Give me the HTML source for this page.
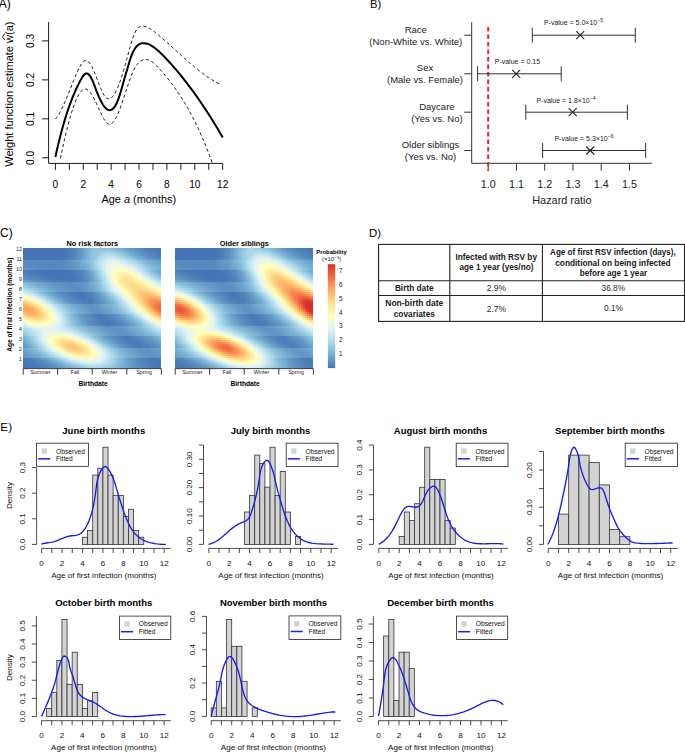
<!DOCTYPE html>
<html><head><meta charset="utf-8"><style>
html,body{margin:0;padding:0;background:#fff;}
svg{display:block;font-family:"Liberation Sans", sans-serif;}
</style></head><body>
<svg width="685" height="753" viewBox="0 0 685 753">
<rect width="685" height="753" fill="#fff"/>
<text x="-1.2" y="7.9" font-size="12" text-anchor="start" fill="#000">A)</text>
<path d="M48.6,22 V163.4 H222.68" fill="none" stroke="#000" stroke-width="0.9"/>
<line x1="42.1" y1="157.8" x2="48.6" y2="157.8" stroke="#000" stroke-width="0.9"/>
<text x="33.6" y="157.8" font-size="10.2" text-anchor="middle" transform="rotate(-90 33.6 157.8)" fill="#000">0.0</text>
<line x1="42.1" y1="118.83" x2="48.6" y2="118.83" stroke="#000" stroke-width="0.9"/>
<text x="33.6" y="118.83" font-size="10.2" text-anchor="middle" transform="rotate(-90 33.6 118.83)" fill="#000">0.1</text>
<line x1="42.1" y1="79.86" x2="48.6" y2="79.86" stroke="#000" stroke-width="0.9"/>
<text x="33.6" y="79.86" font-size="10.2" text-anchor="middle" transform="rotate(-90 33.6 79.86)" fill="#000">0.2</text>
<line x1="42.1" y1="40.89" x2="48.6" y2="40.89" stroke="#000" stroke-width="0.9"/>
<text x="33.6" y="40.89" font-size="10.2" text-anchor="middle" transform="rotate(-90 33.6 40.89)" fill="#000">0.3</text>
<line x1="55.4" y1="163.4" x2="55.4" y2="169.9" stroke="#000" stroke-width="0.9"/>
<text x="55.4" y="187.5" font-size="10.2" text-anchor="middle" fill="#000">0</text>
<line x1="69.34" y1="163.4" x2="69.34" y2="169.9" stroke="#000" stroke-width="0.9"/>
<line x1="83.28" y1="163.4" x2="83.28" y2="169.9" stroke="#000" stroke-width="0.9"/>
<text x="83.28" y="187.5" font-size="10.2" text-anchor="middle" fill="#000">2</text>
<line x1="97.22" y1="163.4" x2="97.22" y2="169.9" stroke="#000" stroke-width="0.9"/>
<line x1="111.16" y1="163.4" x2="111.16" y2="169.9" stroke="#000" stroke-width="0.9"/>
<text x="111.16" y="187.5" font-size="10.2" text-anchor="middle" fill="#000">4</text>
<line x1="125.1" y1="163.4" x2="125.1" y2="169.9" stroke="#000" stroke-width="0.9"/>
<line x1="139.04" y1="163.4" x2="139.04" y2="169.9" stroke="#000" stroke-width="0.9"/>
<text x="139.04" y="187.5" font-size="10.2" text-anchor="middle" fill="#000">6</text>
<line x1="152.98" y1="163.4" x2="152.98" y2="169.9" stroke="#000" stroke-width="0.9"/>
<line x1="166.92" y1="163.4" x2="166.92" y2="169.9" stroke="#000" stroke-width="0.9"/>
<text x="166.92" y="187.5" font-size="10.2" text-anchor="middle" fill="#000">8</text>
<line x1="180.86" y1="163.4" x2="180.86" y2="169.9" stroke="#000" stroke-width="0.9"/>
<line x1="194.8" y1="163.4" x2="194.8" y2="169.9" stroke="#000" stroke-width="0.9"/>
<text x="194.8" y="187.5" font-size="10.2" text-anchor="middle" fill="#000">10</text>
<line x1="208.74" y1="163.4" x2="208.74" y2="169.9" stroke="#000" stroke-width="0.9"/>
<line x1="222.68" y1="163.4" x2="222.68" y2="169.9" stroke="#000" stroke-width="0.9"/>
<text x="222.68" y="187.5" font-size="10.2" text-anchor="middle" fill="#000">12</text>
<text x="138.8" y="202.7" font-size="10.95" text-anchor="middle">Age <tspan font-style="italic">a</tspan> (months)</text>
<text x="0" y="0" font-size="11.05" text-anchor="middle" transform="translate(12.9 94.1) rotate(-90)">Weight function estimate w(a)</text>
<path d="M4.9,33.4 L2.5,36.8 L4.9,40.2" fill="none" stroke="#000" stroke-width="0.85"/>
<path d="M55.4,157.04 L56.93,150.04 L58.47,143.42 L60,137.16 L61.54,131.25 L63.07,125.66 L64.61,120.39 L66.14,115.42 L67.68,110.73 L69.21,106.3 L70.75,102.12 L72.28,98.17 L73.82,94.43 L75.35,90.89 L76.89,87.54 L78.42,84.35 L79.96,81.31 L81.49,78.46 L83.03,76.01 L84.56,74.23 L86.1,73.37 L87.63,73.61 L89.17,74.86 L90.7,77.03 L92.24,79.97 L93.77,83.6 L95.31,87.75 L96.84,91.85 L98.38,95.63 L99.91,99.06 L101.45,102.11 L102.98,104.72 L104.52,106.87 L106.05,108.52 L107.59,109.63 L109.12,110.16 L110.66,110.08 L112.19,109.36 L113.72,107.94 L115.26,105.8 L116.79,102.91 L118.33,99.21 L119.86,94.69 L121.4,89.53 L122.93,84.04 L124.47,78.54 L126,73.32 L127.54,68.18 L129.07,62.78 L130.61,57.95 L132.14,53.94 L133.68,50.69 L135.21,48.13 L136.75,46.19 L138.28,44.8 L139.82,43.88 L141.35,43.35 L142.89,43.14 L144.42,43.18 L145.96,43.42 L147.49,43.83 L149.03,44.42 L150.56,45.16 L152.1,46.05 L153.63,47.07 L155.17,48.2 L156.7,49.44 L158.24,50.78 L159.77,52.19 L161.31,53.67 L162.84,55.21 L164.38,56.79 L165.91,58.4 L167.44,60.04 L168.98,61.7 L170.51,63.39 L172.05,65.11 L173.58,66.85 L175.12,68.62 L176.65,70.42 L178.19,72.25 L179.72,74.1 L181.26,75.98 L182.79,77.88 L184.33,79.82 L185.86,81.78 L187.4,83.77 L188.93,85.79 L190.47,87.84 L192,89.91 L193.54,92.01 L195.07,94.14 L196.61,96.3 L198.14,98.49 L199.68,100.7 L201.21,102.95 L202.75,105.22 L204.28,107.53 L205.82,109.86 L207.35,112.22 L208.89,114.61 L210.42,117.03 L211.96,119.47 L213.49,121.95 L215.03,124.46 L216.56,127 L218.1,129.56 L219.63,132.16 L221.17,134.79 L222.7,137.45" fill="none" stroke="#000" stroke-width="2" stroke-linejoin="round"/>
<path d="M55.4,119.03 L56.92,117.17 L58.43,114.93 L59.95,112.35 L61.47,109.46 L62.98,106.32 L64.5,102.97 L66.02,99.44 L67.53,95.77 L69.05,92.02 L70.57,88.22 L72.08,84.42 L73.6,80.65 L75.11,76.96 L76.63,73.38 L78.15,70.01 L79.66,66.96 L81.18,64.35 L82.7,62.3 L84.21,60.95 L85.73,60.4 L87.25,60.77 L88.76,61.98 L90.28,63.94 L91.8,66.54 L93.31,69.67 L94.83,73.21 L96.35,77.05 L97.86,81.04 L99.38,85 L100.9,88.76 L102.41,92.14 L103.93,94.97 L105.44,97.08 L106.96,98.38 L108.48,98.88 L109.99,98.65 L111.51,97.71 L113.03,96.12 L114.54,93.92 L116.06,91.15 L117.58,87.86 L119.09,84.09 L120.61,79.88 L122.13,75.28 L123.64,70.33 L125.16,65.07 L126.68,59.56 L128.19,53.93 L129.71,48.36 L131.23,43.08 L132.74,38.29 L134.26,34.2 L135.78,31.01 L137.29,28.73 L138.81,27.23 L140.32,26.39 L141.84,26.06 L143.36,26.1 L144.87,26.4 L146.39,26.89 L147.91,27.54 L149.42,28.34 L150.94,29.26 L152.46,30.29 L153.97,31.41 L155.49,32.6 L157.01,33.84 L158.52,35.1 L160.04,36.39 L161.56,37.69 L163.07,39.01 L164.59,40.34 L166.11,41.68 L167.62,43.03 L169.14,44.39 L170.66,45.76 L172.17,47.13 L173.69,48.51 L175.2,49.89 L176.72,51.27 L178.24,52.65 L179.75,54.03 L181.27,55.4 L182.79,56.77 L184.3,58.13 L185.82,59.48 L187.34,60.82 L188.85,62.15 L190.37,63.46 L191.89,64.76 L193.4,66.05 L194.92,67.31 L196.44,68.56 L197.95,69.78 L199.47,70.98 L200.99,72.15 L202.5,73.3 L204.02,74.42 L205.53,75.52 L207.05,76.58 L208.57,77.6 L210.08,78.6 L211.6,79.56 L213.12,80.48 L214.63,81.36 L216.15,82.2 L217.67,83 L219.18,83.75 L220.7,84.46" fill="none" stroke="#000" stroke-width="0.9" stroke-dasharray="3.2 2.6"/>
<path d="M60.4,158.37 L61.79,151.81 L63.19,145.44 L64.58,139.3 L65.97,133.41 L67.37,127.78 L68.76,122.44 L70.16,117.42 L71.55,112.72 L72.94,108.39 L74.34,104.43 L75.73,100.87 L77.12,97.74 L78.52,95.05 L79.91,92.83 L81.3,91.1 L82.7,89.87 L84.09,89.19 L85.48,89.05 L86.88,89.48 L88.27,90.41 L89.67,91.8 L91.06,93.6 L92.45,95.77 L93.85,98.25 L95.24,101 L96.63,103.95 L98.03,107.01 L99.42,110.1 L100.81,113.11 L102.21,115.95 L103.6,118.52 L104.99,120.74 L106.39,122.5 L107.78,123.72 L109.18,124.29 L110.57,124.17 L111.96,123.39 L113.36,122.01 L114.75,120.08 L116.14,117.65 L117.54,114.77 L118.93,111.5 L120.32,107.89 L121.72,103.99 L123.11,99.87 L124.5,95.61 L125.9,91.31 L127.29,87.04 L128.69,82.88 L130.08,78.93 L131.47,75.26 L132.87,71.97 L134.26,69.1 L135.65,66.66 L137.05,64.62 L138.44,62.95 L139.83,61.63 L141.23,60.63 L142.62,59.94 L144.01,59.54 L145.41,59.41 L146.8,59.53 L148.2,59.87 L149.59,60.43 L150.98,61.19 L152.38,62.11 L153.77,63.19 L155.16,64.4 L156.56,65.74 L157.95,67.16 L159.34,68.67 L160.74,70.23 L162.13,71.84 L163.52,73.47 L164.92,75.13 L166.31,76.82 L167.71,78.54 L169.1,80.3 L170.49,82.09 L171.89,83.93 L173.28,85.8 L174.67,87.71 L176.07,89.67 L177.46,91.68 L178.85,93.73 L180.25,95.84 L181.64,98 L183.03,100.21 L184.43,102.48 L185.82,104.81 L187.22,107.2 L188.61,109.66 L190,112.18 L191.4,114.76 L192.79,117.42 L194.18,120.15 L195.58,122.95 L196.97,125.83 L198.36,128.79 L199.76,131.83 L201.15,134.95 L202.54,138.15 L203.94,141.44 L205.33,144.82 L206.73,148.29 L208.12,151.85 L209.51,155.5 L210.91,159.26 L212.3,163.11" fill="none" stroke="#000" stroke-width="0.9" stroke-dasharray="3.2 2.6"/>
<text x="370" y="7.9" font-size="11.2" text-anchor="start" fill="#000">B)</text>
<path d="M471.7,22.3 V163.3 H652" fill="none" stroke="#333" stroke-width="1"/>
<line x1="488.2" y1="163.3" x2="488.2" y2="170.6" stroke="#333" stroke-width="1"/>
<text x="488.2" y="187.5" font-size="10.8" text-anchor="middle" fill="#222">1.0</text>
<line x1="516.45" y1="163.3" x2="516.45" y2="170.6" stroke="#333" stroke-width="1"/>
<text x="516.45" y="187.5" font-size="10.8" text-anchor="middle" fill="#222">1.1</text>
<line x1="544.7" y1="163.3" x2="544.7" y2="170.6" stroke="#333" stroke-width="1"/>
<text x="544.7" y="187.5" font-size="10.8" text-anchor="middle" fill="#222">1.2</text>
<line x1="572.95" y1="163.3" x2="572.95" y2="170.6" stroke="#333" stroke-width="1"/>
<text x="572.95" y="187.5" font-size="10.8" text-anchor="middle" fill="#222">1.3</text>
<line x1="601.2" y1="163.3" x2="601.2" y2="170.6" stroke="#333" stroke-width="1"/>
<text x="601.2" y="187.5" font-size="10.8" text-anchor="middle" fill="#222">1.4</text>
<line x1="629.45" y1="163.3" x2="629.45" y2="170.6" stroke="#333" stroke-width="1"/>
<text x="629.45" y="187.5" font-size="10.8" text-anchor="middle" fill="#222">1.5</text>
<text x="561.9" y="203.8" font-size="10.9" text-anchor="middle" fill="#222">Hazard ratio</text>
<line x1="488.2" y1="27" x2="488.2" y2="171" stroke="#e8252b" stroke-width="2" stroke-dasharray="4.5 3"/>
<line x1="464.2" y1="35.2" x2="471.7" y2="35.2" stroke="#333" stroke-width="1"/>
<text x="415.8" y="32.8" font-size="9.5" text-anchor="middle" fill="#222">Race</text>
<text x="415.8" y="44.8" font-size="9.5" text-anchor="middle" fill="#222">(Non-White vs. White)</text>
<line x1="532.3" y1="35.2" x2="635.3" y2="35.2" stroke="#333" stroke-width="1"/>
<line x1="532.3" y1="27.7" x2="532.3" y2="42.7" stroke="#333" stroke-width="1"/>
<line x1="635.3" y1="27.7" x2="635.3" y2="42.7" stroke="#333" stroke-width="1"/>
<path d="M576.2,31.2 L584.2,39.2 M576.2,39.2 L584.2,31.2" stroke="#222" stroke-width="1.1"/>
<text x="573.5" y="24.7" font-size="7.0" text-anchor="middle" fill="#222">P-value = 5.0×10<tspan dy="-3" font-size="5.2">−5</tspan></text>
<line x1="464.2" y1="73.8" x2="471.7" y2="73.8" stroke="#333" stroke-width="1"/>
<text x="425" y="71.4" font-size="9.5" text-anchor="middle" fill="#222">Sex</text>
<text x="425" y="83.4" font-size="9.5" text-anchor="middle" fill="#222">(Male vs. Female)</text>
<line x1="477.6" y1="73.8" x2="561.2" y2="73.8" stroke="#333" stroke-width="1"/>
<line x1="477.6" y1="66.3" x2="477.6" y2="81.3" stroke="#333" stroke-width="1"/>
<line x1="561.2" y1="66.3" x2="561.2" y2="81.3" stroke="#333" stroke-width="1"/>
<path d="M512.2,69.8 L520.2,77.8 M512.2,77.8 L520.2,69.8" stroke="#222" stroke-width="1.1"/>
<text x="517.4" y="64" font-size="7.0" text-anchor="middle" fill="#222">P-value = 0.15</text>
<line x1="464.2" y1="112.2" x2="471.7" y2="112.2" stroke="#333" stroke-width="1"/>
<text x="436.9" y="109.8" font-size="9.5" text-anchor="middle" fill="#222">Daycare</text>
<text x="436.9" y="121.8" font-size="9.5" text-anchor="middle" fill="#222">(Yes vs. No)</text>
<line x1="525.8" y1="112.2" x2="627.4" y2="112.2" stroke="#333" stroke-width="1"/>
<line x1="525.8" y1="104.7" x2="525.8" y2="119.7" stroke="#333" stroke-width="1"/>
<line x1="627.4" y1="104.7" x2="627.4" y2="119.7" stroke="#333" stroke-width="1"/>
<path d="M568.7,108.2 L576.7,116.2 M568.7,116.2 L576.7,108.2" stroke="#222" stroke-width="1.1"/>
<text x="566" y="102.5" font-size="7.0" text-anchor="middle" fill="#222">P-value = 1.8×10<tspan dy="-3" font-size="5.2">−4</tspan></text>
<line x1="464.2" y1="150.5" x2="471.7" y2="150.5" stroke="#333" stroke-width="1"/>
<text x="430.5" y="148.1" font-size="9.5" text-anchor="middle" fill="#222">Older siblings</text>
<text x="430.5" y="160.1" font-size="9.5" text-anchor="middle" fill="#222">(Yes vs. No)</text>
<line x1="542.6" y1="150.5" x2="645.6" y2="150.5" stroke="#333" stroke-width="1"/>
<line x1="542.6" y1="143" x2="542.6" y2="158" stroke="#333" stroke-width="1"/>
<line x1="645.6" y1="143" x2="645.6" y2="158" stroke="#333" stroke-width="1"/>
<path d="M586.2,146.5 L594.2,154.5 M586.2,154.5 L594.2,146.5" stroke="#222" stroke-width="1.1"/>
<text x="584" y="140.8" font-size="7.0" text-anchor="middle" fill="#222">P-value = 5.3×10<tspan dy="-3" font-size="5.2">−6</tspan></text>
<text x="0" y="236.6" font-size="12" text-anchor="start" fill="#000">C)</text>
<defs><clipPath id="hc1"><rect x="23" y="248" width="138" height="120"/></clipPath><filter id="hb1" x="17" y="242" width="150" height="132" filterUnits="userSpaceOnUse"><feGaussianBlur stdDeviation="0.6"/></filter></defs>
<g clip-path="url(#hc1)"><g filter="url(#hb1)" shape-rendering="crispEdges"><path fill="#5488bc" d="M17 242h32v2h-32zM17 244h32v2h-32zM17 246h32v2h-32zM141 248h2v2h-2zM143 250h2v2h-2zM147 252h2v2h-2zM153 256h2v2h-2zM159 258h2v2h-2zM41 260h6v2h-6zM81 270h2v2h-2zM21 274h2v2h-2zM27 276h2v2h-2zM83 276h2v2h-2zM33 278h2v2h-2zM41 280h4v2h-4zM83 280h2v2h-2zM63 292h2v2h-2zM65 294h2v2h-2zM69 296h2v2h-2zM93 296h2v2h-2zM71 298h2v2h-2zM95 300h2v2h-2zM95 302h2v2h-2zM89 314h2v2h-2zM109 314h2v2h-2zM89 316h2v2h-2zM111 316h2v2h-2zM91 318h2v2h-2zM93 322h2v2h-2zM119 322h2v2h-2zM97 324h2v2h-2zM119 324h2v2h-2zM137 336h2v2h-2zM117 338h2v2h-2zM143 340h2v2h-2zM123 342h2v2h-2zM125 344h2v2h-2zM149 344h2v2h-2zM129 346h2v2h-2zM151 346h2v2h-2zM33 358h2v2h-2zM139 358h2v2h-2zM37 360h2v2h-2zM139 360h2v2h-2zM41 362h2v2h-2zM45 364h2v2h-2zM141 364h2v2h-2zM49 366h2v2h-2zM141 366h2v2h-2zM53 368h2v2h-2zM143 368h2v2h-2z"/><path fill="#5488c0" d="M49 242h4v2h-4zM49 244h4v2h-4zM49 246h4v2h-4zM75 248h2v2h-2zM139 248h2v2h-2zM149 254h2v2h-2zM73 258h2v2h-2zM31 260h10v2h-10zM47 260h6v2h-6zM37 262h16v2h-16zM43 264h10v2h-10zM47 266h6v2h-6zM19 274h2v2h-2zM91 292h2v2h-2zM95 298h2v2h-2zM73 300h2v2h-2zM77 302h2v2h-2zM117 320h2v2h-2zM121 324h2v2h-2zM113 336h2v2h-2zM141 338h2v2h-2zM119 340h2v2h-2zM147 342h2v2h-2zM139 362h2v2h-2zM141 368h2v2h-2z"/><path fill="#5888c0" d="M53 242h2v2h-2zM165 242h2v2h-2zM53 244h2v2h-2zM53 246h2v2h-2zM75 250h2v2h-2zM75 252h2v2h-2zM75 254h2v2h-2zM75 256h2v2h-2zM151 256h2v2h-2zM157 258h2v2h-2zM27 260h4v2h-4zM53 260h2v2h-2zM33 262h4v2h-4zM53 262h2v2h-2zM37 264h6v2h-6zM53 264h2v2h-2zM43 266h4v2h-4zM53 266h4v2h-4zM49 268h8v2h-8zM83 274h2v2h-2zM25 276h2v2h-2zM31 278h2v2h-2zM61 292h2v2h-2zM67 296h2v2h-2zM87 314h2v2h-2zM113 316h2v2h-2zM115 318h2v2h-2zM91 320h2v2h-2zM95 324h2v2h-2zM121 342h2v2h-2zM17 346h2v2h-2zM127 346h2v2h-2zM39 360h2v2h-2zM51 366h2v2h-2zM55 368h2v2h-2z"/><path fill="#588cc0" d="M55 242h8v2h-8zM153 242h12v2h-12zM55 244h8v2h-8zM157 244h10v2h-10zM55 246h8v2h-8zM159 246h8v2h-8zM137 248h2v2h-2zM141 250h2v2h-2zM143 252h4v2h-4zM147 254h2v2h-2zM149 256h2v2h-2zM75 258h2v2h-2zM155 258h2v2h-2zM17 260h10v2h-10zM55 260h8v2h-8zM17 262h16v2h-16zM55 262h8v2h-8zM21 264h16v2h-16zM55 264h8v2h-8zM27 266h16v2h-16zM57 266h8v2h-8zM33 268h16v2h-16zM57 268h8v2h-8zM83 270h2v2h-2zM83 272h2v2h-2zM17 274h2v2h-2zM21 276h4v2h-4zM85 276h2v2h-2zM29 278h2v2h-2zM85 278h2v2h-2zM37 280h4v2h-4zM85 280h2v2h-2zM65 282h8v2h-8zM69 284h4v2h-4zM59 292h2v2h-2zM93 292h2v2h-2zM63 294h2v2h-2zM93 294h2v2h-2zM65 296h2v2h-2zM95 296h2v2h-2zM69 298h2v2h-2zM71 300h2v2h-2zM97 300h2v2h-2zM75 302h2v2h-2zM97 302h2v2h-2zM85 314h2v2h-2zM111 314h2v2h-2zM87 316h2v2h-2zM89 318h2v2h-2zM117 318h2v2h-2zM89 320h2v2h-2zM119 320h2v2h-2zM91 322h2v2h-2zM121 322h2v2h-2zM93 324h2v2h-2zM123 324h2v2h-2zM111 336h2v2h-2zM139 336h2v2h-2zM115 338h2v2h-2zM143 338h2v2h-2zM117 340h2v2h-2zM145 340h4v2h-4zM119 342h2v2h-2zM149 342h2v2h-2zM17 344h2v2h-2zM123 344h2v2h-2zM151 344h4v2h-4zM19 346h2v2h-2zM125 346h2v2h-2zM153 346h4v2h-4zM35 358h2v2h-2zM137 358h2v2h-2zM41 360h2v2h-2zM137 360h2v2h-2zM43 362h4v2h-4zM137 362h2v2h-2zM47 364h4v2h-4zM137 364h4v2h-4zM53 366h2v2h-2zM137 366h4v2h-4zM57 368h2v2h-2zM139 368h2v2h-2zM25 370h14v2h-14zM163 370h4v2h-4zM25 372h18v2h-18zM163 372h4v2h-4z"/><path fill="#5c90c0" d="M63 242h4v2h-4zM149 242h4v2h-4zM63 244h4v2h-4zM151 244h6v2h-6zM63 246h2v2h-2zM155 246h4v2h-4zM77 248h2v2h-2zM135 248h2v2h-2zM77 250h2v2h-2zM139 250h2v2h-2zM77 252h2v2h-2zM77 254h2v2h-2zM145 254h2v2h-2zM77 256h2v2h-2zM63 260h2v2h-2zM63 262h4v2h-4zM17 264h4v2h-4zM63 264h4v2h-4zM21 266h6v2h-6zM65 266h2v2h-2zM27 268h6v2h-6zM65 268h4v2h-4zM85 274h2v2h-2zM19 276h2v2h-2zM27 278h2v2h-2zM35 280h2v2h-2zM61 282h4v2h-4zM73 282h2v2h-2zM65 284h4v2h-4zM73 284h4v2h-4zM69 286h8v2h-8zM71 288h6v2h-6zM75 290h4v2h-4zM61 294h2v2h-2zM95 294h2v2h-2zM67 298h2v2h-2zM97 298h2v2h-2zM99 302h2v2h-2zM113 314h2v2h-2zM115 316h2v2h-2zM87 318h2v2h-2zM89 322h2v2h-2zM123 322h2v2h-2zM141 336h2v2h-2zM113 338h2v2h-2zM145 338h2v2h-2zM151 342h2v2h-2zM121 344h2v2h-2zM37 358h2v2h-2zM135 358h2v2h-2zM135 360h2v2h-2zM59 368h2v2h-2zM137 368h2v2h-2zM21 370h4v2h-4zM39 370h4v2h-4zM159 370h4v2h-4zM21 372h4v2h-4zM43 372h4v2h-4zM159 372h4v2h-4z"/><path fill="#5c90c4" d="M67 242h2v2h-2zM145 242h4v2h-4zM67 244h2v2h-2zM149 244h2v2h-2zM65 246h2v2h-2zM153 246h2v2h-2zM137 250h2v2h-2zM141 252h2v2h-2zM147 256h2v2h-2zM153 258h2v2h-2zM65 260h2v2h-2zM67 262h2v2h-2zM67 264h2v2h-2zM17 266h4v2h-4zM67 266h2v2h-2zM23 268h4v2h-4zM69 268h2v2h-2zM85 272h2v2h-2zM17 276h2v2h-2zM25 278h2v2h-2zM87 278h2v2h-2zM87 280h2v2h-2zM57 282h4v2h-4zM75 282h4v2h-4zM61 284h4v2h-4zM77 284h2v2h-2zM65 286h4v2h-4zM77 286h2v2h-2zM69 288h2v2h-2zM77 288h4v2h-4zM73 290h2v2h-2zM79 290h2v2h-2zM57 292h2v2h-2zM63 296h2v2h-2zM97 296h2v2h-2zM69 300h2v2h-2zM99 300h2v2h-2zM73 302h2v2h-2zM85 316h2v2h-2zM87 320h2v2h-2zM121 320h2v2h-2zM91 324h2v2h-2zM125 324h2v2h-2zM109 336h2v2h-2zM115 340h2v2h-2zM149 340h2v2h-2zM17 342h2v2h-2zM19 344h2v2h-2zM155 344h2v2h-2zM21 346h2v2h-2zM123 346h2v2h-2zM157 346h2v2h-2zM149 354h2v2h-2zM17 356h2v2h-2zM149 356h8v2h-8zM43 360h2v2h-2zM47 362h2v2h-2zM135 362h2v2h-2zM51 364h2v2h-2zM135 364h2v2h-2zM55 366h2v2h-2zM135 366h2v2h-2zM17 370h4v2h-4zM43 370h4v2h-4zM155 370h4v2h-4zM19 372h2v2h-2zM47 372h4v2h-4zM157 372h2v2h-2z"/><path fill="#6094c4" d="M69 242h4v2h-4zM139 242h6v2h-6zM69 244h2v2h-2zM143 244h4v2h-4zM69 246h2v2h-2zM147 246h4v2h-4zM79 248h2v2h-2zM133 248h2v2h-2zM79 250h2v2h-2zM135 250h2v2h-2zM139 252h2v2h-2zM143 254h2v2h-2zM79 256h2v2h-2zM145 256h2v2h-2zM77 258h2v2h-2zM151 258h2v2h-2zM69 260h2v2h-2zM69 262h2v2h-2zM69 264h4v2h-4zM71 266h2v2h-2zM17 268h4v2h-4zM71 268h4v2h-4zM85 270h2v2h-2zM87 276h2v2h-2zM21 278h4v2h-4zM31 280h2v2h-2zM53 282h4v2h-4zM79 282h2v2h-2zM57 284h4v2h-4zM79 284h4v2h-4zM61 286h4v2h-4zM81 286h2v2h-2zM63 288h4v2h-4zM81 288h4v2h-4zM67 290h4v2h-4zM83 290h2v2h-2zM55 292h2v2h-2zM95 292h2v2h-2zM59 294h2v2h-2zM97 294h2v2h-2zM65 298h2v2h-2zM99 298h2v2h-2zM67 300h2v2h-2zM101 300h2v2h-2zM71 302h2v2h-2zM101 302h2v2h-2zM87 304h6v2h-6zM89 306h6v2h-6zM91 308h6v2h-6zM93 310h6v2h-6zM95 312h6v2h-6zM115 314h2v2h-2zM83 316h2v2h-2zM117 316h2v2h-2zM85 318h2v2h-2zM87 322h2v2h-2zM125 322h2v2h-2zM89 324h2v2h-2zM127 324h2v2h-2zM105 326h6v2h-6zM113 326h4v2h-4zM109 328h12v2h-12zM111 330h12v2h-12zM115 332h10v2h-10zM119 334h10v2h-10zM107 336h2v2h-2zM147 338h2v2h-2zM113 340h2v2h-2zM151 340h2v2h-2zM153 342h2v2h-2zM21 344h2v2h-2zM119 344h2v2h-2zM159 346h2v2h-2zM137 348h12v2h-12zM139 350h12v2h-12zM17 352h2v2h-2zM141 352h4v2h-4zM149 352h6v2h-6zM17 354h4v2h-4zM143 354h4v2h-4zM153 354h6v2h-6zM21 356h4v2h-4zM145 356h4v2h-4zM157 356h4v2h-4zM133 360h2v2h-2zM133 362h2v2h-2zM53 364h2v2h-2zM133 364h2v2h-2zM57 366h2v2h-2zM133 366h2v2h-2zM61 368h2v2h-2zM133 368h2v2h-2zM47 370h4v2h-4zM151 370h4v2h-4zM51 372h6v2h-6zM151 372h4v2h-4z"/><path fill="#6498c8" d="M73 242h2v2h-2zM135 242h2v2h-2zM73 244h2v2h-2zM139 244h2v2h-2zM143 246h2v2h-2zM137 252h2v2h-2zM79 258h2v2h-2zM149 258h2v2h-2zM163 260h2v2h-2zM73 262h2v2h-2zM165 262h2v2h-2zM73 264h2v2h-2zM75 266h2v2h-2zM75 268h2v2h-2zM87 272h2v2h-2zM19 278h2v2h-2zM89 280h2v2h-2zM49 282h2v2h-2zM83 282h2v2h-2zM53 284h2v2h-2zM83 284h2v2h-2zM57 286h2v2h-2zM61 288h2v2h-2zM85 288h2v2h-2zM63 290h2v2h-2zM57 294h2v2h-2zM99 296h2v2h-2zM63 298h2v2h-2zM103 302h2v2h-2zM83 304h2v2h-2zM95 304h2v2h-2zM85 306h2v2h-2zM97 306h2v2h-2zM87 308h2v2h-2zM99 308h2v2h-2zM89 310h2v2h-2zM101 310h2v2h-2zM91 312h2v2h-2zM103 312h2v2h-2zM117 314h2v2h-2zM119 316h2v2h-2zM83 318h2v2h-2zM85 322h2v2h-2zM127 322h2v2h-2zM87 324h2v2h-2zM129 324h2v2h-2zM101 326h2v2h-2zM119 326h2v2h-2zM105 328h2v2h-2zM123 328h2v2h-2zM107 330h4v2h-4zM125 330h2v2h-2zM111 332h2v2h-2zM127 332h2v2h-2zM115 334h2v2h-2zM109 338h2v2h-2zM153 340h2v2h-2zM155 342h2v2h-2zM117 344h2v2h-2zM133 348h2v2h-2zM151 348h2v2h-2zM17 350h2v2h-2zM153 350h2v2h-2zM21 352h2v2h-2zM137 352h2v2h-2zM157 352h2v2h-2zM23 354h2v2h-2zM139 354h2v2h-2zM161 354h2v2h-2zM27 356h2v2h-2zM141 356h2v2h-2zM163 356h2v2h-2zM131 360h2v2h-2zM131 362h2v2h-2zM55 364h2v2h-2zM131 364h2v2h-2zM59 366h2v2h-2zM131 366h2v2h-2zM131 368h2v2h-2zM53 370h2v2h-2zM147 370h2v2h-2zM59 372h2v2h-2zM145 372h4v2h-4z"/><path fill="#649cc8" d="M75 242h2v2h-2zM133 242h2v2h-2zM137 244h2v2h-2zM73 246h2v2h-2zM139 246h4v2h-4zM81 248h2v2h-2zM129 248h2v2h-2zM133 250h2v2h-2zM139 254h2v2h-2zM143 256h2v2h-2zM147 258h2v2h-2zM73 260h2v2h-2zM161 260h2v2h-2zM163 262h2v2h-2zM75 264h2v2h-2zM77 268h2v2h-2zM163 270h2v2h-2zM89 276h2v2h-2zM17 278h2v2h-2zM27 280h2v2h-2zM47 282h2v2h-2zM51 284h2v2h-2zM85 284h2v2h-2zM55 286h2v2h-2zM85 286h2v2h-2zM59 288h2v2h-2zM87 288h2v2h-2zM61 290h2v2h-2zM87 290h2v2h-2zM53 292h2v2h-2zM97 292h2v2h-2zM59 296h2v2h-2zM101 298h2v2h-2zM65 300h2v2h-2zM103 300h2v2h-2zM69 302h2v2h-2zM81 304h2v2h-2zM97 304h2v2h-2zM83 306h2v2h-2zM99 306h2v2h-2zM85 308h2v2h-2zM101 308h2v2h-2zM87 310h2v2h-2zM103 310h2v2h-2zM89 312h2v2h-2zM105 312h2v2h-2zM81 316h2v2h-2zM83 320h2v2h-2zM125 320h2v2h-2zM121 326h2v2h-2zM103 328h2v2h-2zM127 330h2v2h-2zM109 332h2v2h-2zM129 332h2v2h-2zM113 334h2v2h-2zM131 334h2v2h-2zM105 336h2v2h-2zM147 336h2v2h-2zM17 338h2v2h-2zM151 338h2v2h-2zM19 340h2v2h-2zM111 340h2v2h-2zM21 342h2v2h-2zM23 344h2v2h-2zM159 344h2v2h-2zM25 346h2v2h-2zM119 346h2v2h-2zM161 346h2v2h-2zM17 348h2v2h-2zM153 348h2v2h-2zM19 350h2v2h-2zM135 350h2v2h-2zM155 350h2v2h-2zM159 352h2v2h-2zM25 354h2v2h-2zM137 354h2v2h-2zM163 354h2v2h-2zM139 356h2v2h-2zM165 356h2v2h-2zM43 358h2v2h-2zM129 358h2v2h-2zM47 360h2v2h-2zM51 362h2v2h-2zM65 368h2v2h-2zM55 370h4v2h-4zM145 370h2v2h-2zM61 372h2v2h-2zM143 372h2v2h-2z"/><path fill="#68a0c8" d="M77 242h2v2h-2zM129 242h2v2h-2zM133 244h2v2h-2zM75 246h2v2h-2zM137 246h2v2h-2zM131 250h2v2h-2zM75 260h2v2h-2zM161 262h2v2h-2zM77 264h2v2h-2zM163 264h2v2h-2zM79 268h2v2h-2zM161 270h2v2h-2zM89 274h2v2h-2zM91 280h2v2h-2zM43 282h2v2h-2zM47 284h2v2h-2zM51 286h2v2h-2zM55 288h2v2h-2zM59 290h2v2h-2zM55 294h2v2h-2zM61 298h2v2h-2zM79 304h2v2h-2zM99 304h2v2h-2zM81 306h2v2h-2zM101 306h2v2h-2zM83 308h2v2h-2zM103 308h2v2h-2zM85 310h2v2h-2zM105 310h2v2h-2zM107 312h2v2h-2zM121 316h2v2h-2zM81 318h2v2h-2zM83 322h2v2h-2zM129 322h2v2h-2zM85 324h2v2h-2zM131 324h2v2h-2zM97 326h2v2h-2zM127 328h2v2h-2zM103 330h2v2h-2zM129 330h2v2h-2zM107 332h2v2h-2zM135 334h2v2h-2zM155 340h2v2h-2zM115 344h2v2h-2zM163 346h2v2h-2zM19 348h2v2h-2zM155 348h2v2h-2zM27 354h2v2h-2zM135 354h2v2h-2zM165 354h2v2h-2zM31 356h2v2h-2zM137 356h2v2h-2zM129 362h2v2h-2zM57 364h2v2h-2zM129 364h2v2h-2zM129 366h2v2h-2zM67 368h2v2h-2zM59 370h2v2h-2zM141 370h2v2h-2zM65 372h2v2h-2z"/><path fill="#6ca4cc" d="M79 242h2v2h-2zM125 242h2v2h-2zM79 244h2v2h-2zM129 244h2v2h-2zM77 246h2v2h-2zM133 246h2v2h-2zM83 248h2v2h-2zM125 248h2v2h-2zM83 250h2v2h-2zM129 250h2v2h-2zM83 252h2v2h-2zM133 252h2v2h-2zM83 254h2v2h-2zM83 256h2v2h-2zM139 256h2v2h-2zM77 260h2v2h-2zM155 260h2v2h-2zM79 262h2v2h-2zM157 262h2v2h-2zM79 264h2v2h-2zM159 264h4v2h-4zM81 266h2v2h-2zM163 266h2v2h-2zM83 268h2v2h-2zM165 268h2v2h-2zM159 270h2v2h-2zM89 272h2v2h-2zM163 272h2v2h-2zM91 276h2v2h-2zM21 280h2v2h-2zM39 282h2v2h-2zM87 282h2v2h-2zM43 284h2v2h-2zM89 284h2v2h-2zM47 286h4v2h-4zM89 286h2v2h-2zM51 288h2v2h-2zM91 288h2v2h-2zM55 290h2v2h-2zM99 292h2v2h-2zM53 294h2v2h-2zM101 294h2v2h-2zM59 298h2v2h-2zM107 302h2v2h-2zM75 304h2v2h-2zM101 304h2v2h-2zM77 306h2v2h-2zM103 306h2v2h-2zM79 308h2v2h-2zM105 308h2v2h-2zM81 310h2v2h-2zM109 310h2v2h-2zM83 312h2v2h-2zM111 312h2v2h-2zM77 314h2v2h-2zM123 316h2v2h-2zM79 318h2v2h-2zM125 318h2v2h-2zM81 322h2v2h-2zM131 322h2v2h-2zM83 324h2v2h-2zM133 324h2v2h-2zM93 326h4v2h-4zM127 326h2v2h-2zM97 328h2v2h-2zM129 328h2v2h-2zM99 330h4v2h-4zM133 330h2v2h-2zM103 332h2v2h-2zM135 332h2v2h-2zM107 334h2v2h-2zM137 334h2v2h-2zM151 336h2v2h-2zM105 338h2v2h-2zM157 340h2v2h-2zM111 342h2v2h-2zM159 342h2v2h-2zM27 346h2v2h-2zM117 346h2v2h-2zM165 346h2v2h-2zM23 348h2v2h-2zM127 348h2v2h-2zM159 348h2v2h-2zM25 350h2v2h-2zM129 350h2v2h-2zM161 350h2v2h-2zM27 352h2v2h-2zM131 352h2v2h-2zM165 352h2v2h-2zM31 354h2v2h-2zM133 354h2v2h-2zM33 356h2v2h-2zM133 356h2v2h-2zM127 360h2v2h-2zM55 362h2v2h-2zM127 362h2v2h-2zM59 364h2v2h-2zM127 364h2v2h-2zM127 366h2v2h-2zM69 368h2v2h-2zM125 368h2v2h-2zM63 370h2v2h-2zM137 370h2v2h-2zM69 372h2v2h-2zM135 372h4v2h-4z"/><path fill="#70a8d0" d="M81 242h2v2h-2zM121 242h2v2h-2zM125 244h2v2h-2zM79 246h2v2h-2zM129 246h2v2h-2zM123 248h2v2h-2zM127 250h2v2h-2zM131 252h2v2h-2zM137 256h2v2h-2zM79 260h2v2h-2zM155 262h2v2h-2zM81 264h2v2h-2zM157 264h2v2h-2zM83 266h2v2h-2zM163 268h2v2h-2zM161 272h2v2h-2zM91 274h2v2h-2zM93 278h2v2h-2zM17 280h2v2h-2zM93 280h2v2h-2zM35 282h2v2h-2zM41 284h2v2h-2zM91 284h2v2h-2zM45 286h2v2h-2zM49 288h2v2h-2zM93 288h2v2h-2zM53 290h2v2h-2zM55 296h2v2h-2zM103 296h2v2h-2zM105 298h2v2h-2zM61 300h2v2h-2zM107 300h2v2h-2zM73 304h2v2h-2zM75 306h2v2h-2zM77 308h2v2h-2zM79 310h2v2h-2zM81 312h2v2h-2zM113 312h2v2h-2zM77 316h2v2h-2zM79 320h2v2h-2zM129 320h2v2h-2zM91 326h2v2h-2zM129 326h2v2h-2zM133 328h2v2h-2zM97 330h2v2h-2zM135 330h2v2h-2zM101 332h2v2h-2zM137 332h2v2h-2zM105 334h2v2h-2zM141 334h2v2h-2zM19 336h2v2h-2zM21 338h2v2h-2zM23 340h2v2h-2zM107 340h2v2h-2zM25 342h2v2h-2zM161 342h2v2h-2zM27 344h2v2h-2zM29 346h2v2h-2zM115 346h2v2h-2zM25 348h2v2h-2zM161 348h2v2h-2zM27 350h2v2h-2zM165 350h2v2h-2zM33 354h2v2h-2zM131 356h2v2h-2zM47 358h2v2h-2zM125 358h2v2h-2zM125 360h2v2h-2zM125 362h2v2h-2zM61 364h2v2h-2zM125 364h2v2h-2zM125 366h2v2h-2zM67 370h2v2h-2zM133 370h2v2h-2zM73 372h2v2h-2zM131 372h2v2h-2z"/><path fill="#74acd0" d="M83 242h2v2h-2zM119 242h2v2h-2zM81 244h2v2h-2zM123 244h2v2h-2zM81 246h2v2h-2zM127 246h2v2h-2zM85 250h2v2h-2zM85 252h2v2h-2zM129 252h2v2h-2zM85 254h2v2h-2zM133 254h2v2h-2zM85 256h2v2h-2zM141 258h2v2h-2zM81 260h2v2h-2zM81 262h2v2h-2zM153 262h2v2h-2zM83 264h2v2h-2zM155 264h2v2h-2zM85 266h2v2h-2zM159 266h2v2h-2zM85 268h2v2h-2zM161 268h2v2h-2zM91 272h2v2h-2zM159 272h2v2h-2zM163 274h2v2h-2zM93 276h2v2h-2zM33 282h2v2h-2zM91 282h2v2h-2zM37 284h2v2h-2zM43 286h2v2h-2zM93 286h2v2h-2zM47 288h2v2h-2zM51 290h2v2h-2zM95 290h2v2h-2zM47 292h2v2h-2zM101 292h2v2h-2zM51 294h2v2h-2zM57 298h2v2h-2zM63 302h2v2h-2zM71 304h2v2h-2zM73 306h2v2h-2zM75 308h2v2h-2zM77 310h2v2h-2zM79 312h2v2h-2zM75 314h2v2h-2zM123 314h2v2h-2zM125 316h2v2h-2zM77 318h2v2h-2zM79 322h2v2h-2zM133 322h2v2h-2zM135 324h2v2h-2zM89 326h2v2h-2zM131 326h2v2h-2zM95 330h2v2h-2zM137 330h2v2h-2zM99 332h2v2h-2zM139 332h2v2h-2zM103 334h2v2h-2zM143 334h2v2h-2zM21 336h2v2h-2zM99 336h2v2h-2zM157 338h2v2h-2zM159 340h2v2h-2zM109 342h2v2h-2zM111 344h2v2h-2zM165 344h2v2h-2zM123 348h2v2h-2zM163 348h2v2h-2zM29 350h2v2h-2zM125 350h2v2h-2zM31 352h2v2h-2zM127 352h2v2h-2zM35 354h2v2h-2zM129 356h2v2h-2zM53 360h2v2h-2zM57 362h2v2h-2zM67 366h2v2h-2zM123 366h2v2h-2zM73 368h2v2h-2zM69 370h2v2h-2zM131 370h2v2h-2zM75 372h4v2h-4zM129 372h2v2h-2z"/><path fill="#78b0d4" d="M85 242h2v2h-2zM115 242h2v2h-2zM83 244h2v2h-2zM119 244h4v2h-4zM125 246h2v2h-2zM87 248h2v2h-2zM131 254h2v2h-2zM135 256h2v2h-2zM139 258h2v2h-2zM147 260h2v2h-2zM83 262h2v2h-2zM151 262h2v2h-2zM85 264h2v2h-2zM153 264h2v2h-2zM159 268h2v2h-2zM91 270h2v2h-2zM155 270h2v2h-2zM93 274h2v2h-2zM161 274h2v2h-2zM165 276h2v2h-2zM95 280h2v2h-2zM29 282h2v2h-2zM35 284h2v2h-2zM93 284h2v2h-2zM39 286h2v2h-2zM45 288h2v2h-2zM95 288h2v2h-2zM49 290h2v2h-2zM97 290h2v2h-2zM45 292h2v2h-2zM49 294h2v2h-2zM53 296h2v2h-2zM105 296h2v2h-2zM107 298h2v2h-2zM59 300h2v2h-2zM109 300h2v2h-2zM111 302h2v2h-2zM69 304h2v2h-2zM107 304h2v2h-2zM77 312h2v2h-2zM73 314h2v2h-2zM75 316h2v2h-2zM129 318h2v2h-2zM77 320h2v2h-2zM131 320h2v2h-2zM77 322h2v2h-2zM79 324h2v2h-2zM87 326h2v2h-2zM133 326h2v2h-2zM89 328h2v2h-2zM93 330h2v2h-2zM139 330h2v2h-2zM97 332h2v2h-2zM141 332h2v2h-2zM101 334h2v2h-2zM145 334h2v2h-2zM155 336h2v2h-2zM101 338h2v2h-2zM25 340h2v2h-2zM161 340h2v2h-2zM27 342h2v2h-2zM107 342h2v2h-2zM29 344h2v2h-2zM31 346h2v2h-2zM113 346h2v2h-2zM121 348h2v2h-2zM165 348h2v2h-2zM31 350h2v2h-2zM123 350h2v2h-2zM33 352h2v2h-2zM125 352h2v2h-2zM37 354h2v2h-2zM127 356h2v2h-2zM123 360h2v2h-2zM59 362h2v2h-2zM123 362h2v2h-2zM69 366h2v2h-2zM121 366h2v2h-2zM75 368h2v2h-2zM73 370h2v2h-2zM127 370h2v2h-2zM79 372h4v2h-4zM125 372h2v2h-2z"/><path fill="#7cb4d4" d="M87 242h2v2h-2zM109 242h4v2h-4zM85 244h2v2h-2zM117 244h2v2h-2zM83 246h2v2h-2zM123 246h2v2h-2zM87 250h2v2h-2zM123 250h2v2h-2zM87 252h2v2h-2zM127 252h2v2h-2zM87 254h2v2h-2zM87 256h2v2h-2zM133 256h2v2h-2zM87 258h2v2h-2zM83 260h2v2h-2zM85 262h2v2h-2zM149 262h2v2h-2zM87 264h2v2h-2zM151 264h2v2h-2zM87 266h2v2h-2zM155 266h2v2h-2zM157 268h2v2h-2zM157 272h2v2h-2zM163 276h2v2h-2zM95 278h2v2h-2zM27 282h2v2h-2zM93 282h2v2h-2zM33 284h2v2h-2zM37 286h2v2h-2zM95 286h2v2h-2zM43 288h2v2h-2zM97 288h2v2h-2zM47 290h2v2h-2zM103 292h2v2h-2zM55 298h2v2h-2zM61 302h2v2h-2zM109 304h2v2h-2zM71 306h2v2h-2zM111 306h2v2h-2zM73 308h2v2h-2zM113 308h2v2h-2zM115 310h2v2h-2zM117 312h2v2h-2zM125 314h2v2h-2zM127 316h2v2h-2zM75 318h2v2h-2zM135 322h2v2h-2zM137 324h2v2h-2zM85 326h2v2h-2zM135 326h2v2h-2zM91 330h2v2h-2zM141 330h2v2h-2zM95 332h2v2h-2zM143 332h2v2h-2zM99 334h2v2h-2zM147 334h2v2h-2zM23 336h2v2h-2zM97 336h2v2h-2zM25 338h2v2h-2zM159 338h2v2h-2zM165 342h2v2h-2zM109 344h2v2h-2zM29 348h2v2h-2zM119 348h2v2h-2zM121 350h2v2h-2zM35 352h2v2h-2zM123 352h2v2h-2zM125 354h2v2h-2zM41 356h2v2h-2zM125 356h2v2h-2zM51 358h2v2h-2zM121 358h2v2h-2zM55 360h2v2h-2zM121 360h2v2h-2zM121 362h2v2h-2zM65 364h2v2h-2zM121 364h2v2h-2zM71 366h2v2h-2zM77 368h2v2h-2zM75 370h2v2h-2zM125 370h2v2h-2zM83 372h2v2h-2zM121 372h4v2h-4z"/><path fill="#84b8d8" d="M89 242h2v2h-2zM107 242h2v2h-2zM87 244h2v2h-2zM113 244h2v2h-2zM115 248h2v2h-2zM89 250h2v2h-2zM89 256h2v2h-2zM89 258h2v2h-2zM87 262h2v2h-2zM149 264h2v2h-2zM89 268h2v2h-2zM93 270h2v2h-2zM155 272h2v2h-2zM165 278h2v2h-2zM97 280h2v2h-2zM23 282h2v2h-2zM95 282h2v2h-2zM29 284h2v2h-2zM35 286h2v2h-2zM97 286h2v2h-2zM39 288h2v2h-2zM53 298h2v2h-2zM71 314h2v2h-2zM129 316h2v2h-2zM73 318h2v2h-2zM139 324h2v2h-2zM85 328h2v2h-2zM143 330h2v2h-2zM105 342h2v2h-2zM117 348h2v2h-2zM119 350h2v2h-2zM41 354h2v2h-2zM123 356h2v2h-2zM57 360h2v2h-2zM67 364h2v2h-2zM119 364h2v2h-2zM73 366h2v2h-2zM117 366h2v2h-2zM81 368h2v2h-2zM115 368h2v2h-2zM121 370h2v2h-2zM89 372h2v2h-2zM115 372h2v2h-2z"/><path fill="#88bcd8" d="M91 242h2v2h-2zM105 242h2v2h-2zM89 244h2v2h-2zM107 244h4v2h-4zM87 246h2v2h-2zM91 248h2v2h-2zM113 248h2v2h-2zM123 252h2v2h-2zM127 254h2v2h-2zM87 260h2v2h-2zM89 262h2v2h-2zM145 262h2v2h-2zM89 264h2v2h-2zM153 268h2v2h-2zM95 274h2v2h-2zM157 274h2v2h-2zM97 278h2v2h-2zM19 282h2v2h-2zM27 284h2v2h-2zM97 284h2v2h-2zM33 286h2v2h-2zM105 292h2v2h-2zM45 294h2v2h-2zM49 296h2v2h-2zM55 300h2v2h-2zM113 304h2v2h-2zM67 306h2v2h-2zM115 306h2v2h-2zM69 308h2v2h-2zM117 308h2v2h-2zM71 310h2v2h-2zM119 310h2v2h-2zM121 312h2v2h-2zM127 314h2v2h-2zM71 316h2v2h-2zM73 320h2v2h-2zM135 320h2v2h-2zM75 324h2v2h-2zM81 326h2v2h-2zM139 326h2v2h-2zM83 328h2v2h-2zM87 330h2v2h-2zM145 330h2v2h-2zM17 332h2v2h-2zM91 332h2v2h-2zM95 334h2v2h-2zM151 334h2v2h-2zM27 338h2v2h-2zM29 340h2v2h-2zM101 340h2v2h-2zM165 340h2v2h-2zM107 344h2v2h-2zM33 348h2v2h-2zM39 352h2v2h-2zM119 352h2v2h-2zM121 354h2v2h-2zM63 362h2v2h-2zM75 366h2v2h-2zM83 368h2v2h-2zM113 368h2v2h-2zM83 370h2v2h-2zM117 370h2v2h-2zM93 372h4v2h-4zM109 372h4v2h-4z"/><path fill="#8cc0dc" d="M93 242h4v2h-4zM101 242h4v2h-4zM91 244h2v2h-2zM105 244h2v2h-2zM89 246h2v2h-2zM113 246h2v2h-2zM93 248h2v2h-2zM103 248h10v2h-10zM91 250h2v2h-2zM117 250h2v2h-2zM91 252h2v2h-2zM121 252h2v2h-2zM91 254h2v2h-2zM125 254h2v2h-2zM91 256h2v2h-2zM129 256h2v2h-2zM91 258h2v2h-2zM133 258h2v2h-2zM89 260h2v2h-2zM141 260h2v2h-2zM143 262h2v2h-2zM149 266h2v2h-2zM91 268h2v2h-2zM151 268h2v2h-2zM95 272h2v2h-2zM153 272h2v2h-2zM97 276h2v2h-2zM159 276h2v2h-2zM163 278h2v2h-2zM17 282h2v2h-2zM97 282h2v2h-2zM25 284h2v2h-2zM31 286h2v2h-2zM99 286h2v2h-2zM41 290h2v2h-2zM107 294h2v2h-2zM51 298h2v2h-2zM115 302h2v2h-2zM63 304h2v2h-2zM65 306h2v2h-2zM69 310h2v2h-2zM71 312h2v2h-2zM69 314h2v2h-2zM131 316h2v2h-2zM71 318h2v2h-2zM133 318h2v2h-2zM73 322h2v2h-2zM139 322h2v2h-2zM141 324h2v2h-2zM79 326h2v2h-2zM143 328h2v2h-2zM85 330h2v2h-2zM19 332h2v2h-2zM89 332h2v2h-2zM21 334h2v2h-2zM93 334h2v2h-2zM153 334h2v2h-2zM27 336h2v2h-2zM93 336h2v2h-2zM161 336h2v2h-2zM97 338h2v2h-2zM103 342h2v2h-2zM35 348h2v2h-2zM37 350h2v2h-2zM43 354h2v2h-2zM119 354h2v2h-2zM47 356h2v2h-2zM121 356h2v2h-2zM55 358h2v2h-2zM117 358h2v2h-2zM59 360h2v2h-2zM117 360h2v2h-2zM117 362h2v2h-2zM77 366h2v2h-2zM85 368h2v2h-2zM111 368h2v2h-2zM85 370h4v2h-4zM113 370h4v2h-4zM101 372h4v2h-4z"/><path fill="#90c0dc" d="M97 242h4v2h-4zM35 288h2v2h-2zM57 302h2v2h-2zM67 308h2v2h-2zM81 328h2v2h-2zM147 330h2v2h-2zM109 368h2v2h-2z"/><path fill="#7cb0d4" d="M113 242h2v2h-2zM119 248h2v2h-2zM87 268h2v2h-2zM75 310h2v2h-2zM137 328h2v2h-2zM119 368h2v2h-2z"/><path fill="#74b0d0" d="M117 242h2v2h-2zM121 248h2v2h-2zM125 250h2v2h-2zM85 258h2v2h-2zM149 260h2v2h-2zM157 266h2v2h-2zM31 282h2v2h-2zM103 294h2v2h-2zM113 310h2v2h-2zM115 312h2v2h-2zM91 328h2v2h-2zM135 328h2v2h-2zM23 338h2v2h-2zM163 342h2v2h-2zM27 348h2v2h-2zM127 354h2v2h-2zM39 356h2v2h-2zM49 358h2v2h-2zM123 358h2v2h-2zM121 368h2v2h-2zM71 370h2v2h-2zM129 370h2v2h-2zM127 372h2v2h-2z"/><path fill="#70a8cc" d="M123 242h2v2h-2zM127 244h2v2h-2zM131 246h2v2h-2zM83 258h2v2h-2zM143 258h2v2h-2zM153 260h2v2h-2zM161 266h2v2h-2zM89 270h2v2h-2zM19 280h2v2h-2zM37 282h2v2h-2zM89 282h2v2h-2zM91 286h2v2h-2zM93 290h2v2h-2zM65 302h2v2h-2zM103 304h2v2h-2zM105 306h2v2h-2zM107 308h2v2h-2zM121 314h2v2h-2zM95 328h2v2h-2zM131 328h2v2h-2zM139 334h2v2h-2zM101 336h2v2h-2zM155 338h2v2h-2zM125 348h2v2h-2zM127 350h2v2h-2zM29 352h2v2h-2zM129 352h2v2h-2zM35 356h2v2h-2zM51 360h2v2h-2zM71 368h2v2h-2zM135 370h2v2h-2zM133 372h2v2h-2z"/><path fill="#6ca0cc" d="M127 242h2v2h-2zM77 244h2v2h-2zM131 244h2v2h-2zM145 258h2v2h-2zM77 262h2v2h-2zM81 268h2v2h-2zM41 282h2v2h-2zM45 284h2v2h-2zM53 288h2v2h-2zM57 290h2v2h-2zM91 290h2v2h-2zM57 296h2v2h-2zM103 298h2v2h-2zM63 300h2v2h-2zM77 304h2v2h-2zM79 306h2v2h-2zM81 308h2v2h-2zM83 310h2v2h-2zM107 310h2v2h-2zM109 312h2v2h-2zM81 320h2v2h-2zM127 320h2v2h-2zM131 330h2v2h-2zM105 332h2v2h-2zM17 336h2v2h-2zM19 338h2v2h-2zM153 338h2v2h-2zM21 340h2v2h-2zM23 342h2v2h-2zM25 344h2v2h-2zM21 348h2v2h-2zM157 348h2v2h-2zM29 354h2v2h-2zM135 356h2v2h-2zM45 358h2v2h-2zM127 358h2v2h-2zM127 368h2v2h-2zM67 372h2v2h-2z"/><path fill="#689cc8" d="M131 242h2v2h-2zM75 244h2v2h-2zM135 244h2v2h-2zM81 250h2v2h-2zM81 252h2v2h-2zM135 252h2v2h-2zM81 254h2v2h-2zM81 256h2v2h-2zM159 260h2v2h-2zM75 262h2v2h-2zM165 264h2v2h-2zM77 266h2v2h-2zM87 270h2v2h-2zM165 272h2v2h-2zM25 280h2v2h-2zM45 282h2v2h-2zM85 282h2v2h-2zM49 284h2v2h-2zM53 286h2v2h-2zM87 286h2v2h-2zM57 288h2v2h-2zM89 290h2v2h-2zM99 294h2v2h-2zM105 302h2v2h-2zM87 312h2v2h-2zM79 314h2v2h-2zM123 318h2v2h-2zM99 326h2v2h-2zM123 326h2v2h-2zM101 328h2v2h-2zM125 328h2v2h-2zM105 330h2v2h-2zM131 332h2v2h-2zM111 334h2v2h-2zM133 334h2v2h-2zM107 338h2v2h-2zM113 342h2v2h-2zM157 342h2v2h-2zM131 348h2v2h-2zM21 350h2v2h-2zM133 350h2v2h-2zM157 350h2v2h-2zM23 352h2v2h-2zM135 352h2v2h-2zM161 352h2v2h-2zM29 356h2v2h-2zM129 360h2v2h-2zM61 366h2v2h-2zM129 368h2v2h-2zM143 370h2v2h-2zM63 372h2v2h-2zM141 372h2v2h-2z"/><path fill="#6498c4" d="M137 242h2v2h-2zM89 278h2v2h-2zM29 280h2v2h-2zM103 326h2v2h-2zM121 328h2v2h-2zM129 334h2v2h-2zM135 348h2v2h-2zM137 350h2v2h-2zM139 352h2v2h-2zM159 354h2v2h-2z"/><path fill="#6098c4" d="M71 244h2v2h-2zM141 244h2v2h-2zM71 246h2v2h-2zM145 246h2v2h-2zM131 248h2v2h-2zM79 252h2v2h-2zM79 254h2v2h-2zM141 254h2v2h-2zM71 260h2v2h-2zM165 260h2v2h-2zM71 262h2v2h-2zM73 266h2v2h-2zM165 270h2v2h-2zM87 274h2v2h-2zM51 282h2v2h-2zM81 282h2v2h-2zM55 284h2v2h-2zM59 286h2v2h-2zM83 286h2v2h-2zM65 290h2v2h-2zM85 290h2v2h-2zM61 296h2v2h-2zM85 304h2v2h-2zM93 304h2v2h-2zM87 306h2v2h-2zM95 306h2v2h-2zM89 308h2v2h-2zM97 308h2v2h-2zM91 310h2v2h-2zM99 310h2v2h-2zM93 312h2v2h-2zM101 312h2v2h-2zM81 314h2v2h-2zM121 318h2v2h-2zM85 320h2v2h-2zM123 320h2v2h-2zM117 326h2v2h-2zM107 328h2v2h-2zM123 330h2v2h-2zM113 332h2v2h-2zM125 332h2v2h-2zM117 334h2v2h-2zM145 336h2v2h-2zM149 338h2v2h-2zM17 340h2v2h-2zM19 342h2v2h-2zM115 342h2v2h-2zM157 344h2v2h-2zM23 346h2v2h-2zM121 346h2v2h-2zM149 348h2v2h-2zM151 350h2v2h-2zM19 352h2v2h-2zM155 352h2v2h-2zM21 354h2v2h-2zM141 354h2v2h-2zM25 356h2v2h-2zM143 356h2v2h-2zM161 356h2v2h-2zM41 358h2v2h-2zM131 358h2v2h-2zM45 360h2v2h-2zM49 362h2v2h-2zM63 368h2v2h-2zM51 370h2v2h-2zM149 370h2v2h-2zM57 372h2v2h-2zM149 372h2v2h-2z"/><path fill="#90c4dc" d="M93 244h2v2h-2zM103 244h2v2h-2zM109 246h4v2h-4zM95 248h2v2h-2zM101 248h2v2h-2zM93 250h2v2h-2zM115 250h2v2h-2zM93 256h2v2h-2zM93 258h2v2h-2zM139 260h2v2h-2zM91 264h2v2h-2zM145 264h2v2h-2zM91 266h2v2h-2zM95 270h2v2h-2zM155 274h2v2h-2zM99 280h2v2h-2zM23 284h2v2h-2zM99 284h2v2h-2zM29 286h2v2h-2zM101 288h2v2h-2zM39 290h2v2h-2zM39 292h2v2h-2zM43 294h2v2h-2zM47 296h2v2h-2zM115 304h2v2h-2zM117 306h2v2h-2zM119 308h2v2h-2zM121 310h2v2h-2zM123 312h2v2h-2zM129 314h2v2h-2zM71 320h2v2h-2zM137 320h2v2h-2zM73 324h2v2h-2zM141 326h2v2h-2zM17 330h2v2h-2zM151 332h2v2h-2zM155 334h2v2h-2zM29 338h2v2h-2zM165 338h2v2h-2zM99 340h2v2h-2zM105 344h2v2h-2zM113 348h2v2h-2zM115 350h2v2h-2zM41 352h2v2h-2zM117 352h2v2h-2zM119 356h2v2h-2zM65 362h2v2h-2zM71 364h2v2h-2zM115 364h2v2h-2zM113 366h2v2h-2zM87 368h2v2h-2zM107 368h2v2h-2zM89 370h2v2h-2zM111 370h2v2h-2z"/><path fill="#94c8e0" d="M95 244h8v2h-8zM95 250h2v2h-2zM101 250h2v2h-2zM113 250h2v2h-2zM119 252h2v2h-2zM123 254h2v2h-2zM95 256h2v2h-2zM127 256h2v2h-2zM131 258h2v2h-2zM141 262h2v2h-2zM149 268h2v2h-2zM151 272h2v2h-2zM97 274h2v2h-2zM157 276h2v2h-2zM99 278h2v2h-2zM19 284h2v2h-2zM27 286h2v2h-2zM101 286h2v2h-2zM33 288h2v2h-2zM107 292h2v2h-2zM109 294h2v2h-2zM111 296h2v2h-2zM113 298h2v2h-2zM115 300h2v2h-2zM61 304h2v2h-2zM69 312h2v2h-2zM135 318h2v2h-2zM71 322h2v2h-2zM143 324h2v2h-2zM79 328h2v2h-2zM19 330h2v2h-2zM83 330h2v2h-2zM149 330h2v2h-2zM87 332h2v2h-2zM153 332h2v2h-2zM91 334h2v2h-2zM163 336h2v2h-2zM95 338h2v2h-2zM33 342h2v2h-2zM35 344h2v2h-2zM37 346h2v2h-2zM107 346h2v2h-2zM37 348h2v2h-2zM117 354h2v2h-2zM49 356h2v2h-2zM61 360h2v2h-2zM115 362h2v2h-2zM111 366h2v2h-2zM91 368h2v2h-2zM103 368h4v2h-4zM93 370h6v2h-6zM103 370h6v2h-6z"/><path fill="#84bcd8" d="M111 244h2v2h-2zM117 246h2v2h-2zM119 250h2v2h-2zM89 252h2v2h-2zM89 254h2v2h-2zM131 256h2v2h-2zM135 258h2v2h-2zM143 260h2v2h-2zM89 266h2v2h-2zM151 266h2v2h-2zM161 276h2v2h-2zM21 282h2v2h-2zM99 288h2v2h-2zM43 290h2v2h-2zM59 302h2v2h-2zM65 304h2v2h-2zM73 312h2v2h-2zM137 322h2v2h-2zM141 328h2v2h-2zM147 332h2v2h-2zM19 334h2v2h-2zM25 336h2v2h-2zM95 336h2v2h-2zM159 336h2v2h-2zM35 350h2v2h-2zM45 356h2v2h-2zM53 358h2v2h-2zM119 358h2v2h-2zM119 360h2v2h-2zM119 362h2v2h-2zM81 370h2v2h-2zM119 370h2v2h-2zM91 372h2v2h-2zM113 372h2v2h-2z"/><path fill="#80b8d8" d="M115 244h2v2h-2zM85 246h2v2h-2zM119 246h2v2h-2zM89 248h2v2h-2zM121 250h2v2h-2zM125 252h2v2h-2zM129 254h2v2h-2zM85 260h2v2h-2zM147 262h2v2h-2zM153 266h2v2h-2zM155 268h2v2h-2zM153 270h2v2h-2zM159 274h2v2h-2zM95 276h2v2h-2zM45 290h2v2h-2zM99 290h2v2h-2zM43 292h2v2h-2zM47 294h2v2h-2zM105 294h2v2h-2zM107 296h2v2h-2zM109 298h2v2h-2zM111 300h2v2h-2zM113 302h2v2h-2zM111 304h2v2h-2zM69 306h2v2h-2zM113 306h2v2h-2zM71 308h2v2h-2zM115 308h2v2h-2zM73 310h2v2h-2zM117 310h2v2h-2zM119 312h2v2h-2zM131 318h2v2h-2zM75 322h2v2h-2zM83 326h2v2h-2zM137 326h2v2h-2zM139 328h2v2h-2zM89 330h2v2h-2zM93 332h2v2h-2zM145 332h2v2h-2zM17 334h2v2h-2zM97 334h2v2h-2zM149 334h2v2h-2zM99 338h2v2h-2zM161 338h2v2h-2zM29 342h2v2h-2zM31 344h2v2h-2zM33 346h2v2h-2zM111 346h2v2h-2zM31 348h2v2h-2zM37 352h2v2h-2zM121 352h2v2h-2zM123 354h2v2h-2zM43 356h2v2h-2zM61 362h2v2h-2zM79 368h2v2h-2zM79 370h2v2h-2zM87 372h2v2h-2zM117 372h2v2h-2z"/><path fill="#5c94c4" d="M147 244h2v2h-2zM67 246h2v2h-2zM151 246h2v2h-2zM67 260h2v2h-2zM69 266h2v2h-2zM21 268h2v2h-2zM33 280h2v2h-2zM79 286h2v2h-2zM67 288h2v2h-2zM71 290h2v2h-2zM81 290h2v2h-2zM83 314h2v2h-2zM119 318h2v2h-2zM111 326h2v2h-2zM143 336h2v2h-2zM111 338h2v2h-2zM117 342h2v2h-2zM145 352h4v2h-4zM147 354h2v2h-2zM151 354h2v2h-2zM19 356h2v2h-2zM39 358h2v2h-2zM133 358h2v2h-2zM135 368h2v2h-2zM17 372h2v2h-2zM155 372h2v2h-2z"/><path fill="#94c4e0" d="M91 246h2v2h-2zM105 246h2v2h-2zM97 248h4v2h-4zM93 252h2v2h-2zM93 254h2v2h-2zM91 260h2v2h-2zM147 266h2v2h-2zM149 270h2v2h-2zM161 278h2v2h-2zM165 280h2v2h-2zM21 284h2v2h-2zM103 290h2v2h-2zM53 300h2v2h-2zM69 316h2v2h-2zM77 326h2v2h-2zM145 328h2v2h-2zM21 332h2v2h-2zM23 334h2v2h-2zM31 340h2v2h-2zM39 350h2v2h-2zM79 366h2v2h-2zM89 368h2v2h-2z"/><path fill="#98c8e0" d="M93 246h2v2h-2zM103 246h2v2h-2zM97 250h4v2h-4zM103 250h2v2h-2zM111 250h2v2h-2zM95 252h2v2h-2zM95 254h2v2h-2zM137 260h2v2h-2zM143 264h2v2h-2zM93 268h2v2h-2zM99 282h2v2h-2zM37 290h2v2h-2zM49 298h2v2h-2zM117 302h2v2h-2zM63 306h2v2h-2zM65 308h2v2h-2zM67 310h2v2h-2zM123 310h2v2h-2zM125 312h2v2h-2zM67 314h2v2h-2zM69 318h2v2h-2zM71 324h2v2h-2zM143 326h2v2h-2zM157 334h2v2h-2zM29 336h2v2h-2zM91 336h2v2h-2zM101 342h2v2h-2zM43 352h2v2h-2zM115 352h2v2h-2zM57 358h2v2h-2zM115 358h2v2h-2zM115 360h2v2h-2zM67 362h2v2h-2zM73 364h2v2h-2zM113 364h2v2h-2zM81 366h2v2h-2zM93 368h4v2h-4zM99 368h4v2h-4zM99 370h4v2h-4z"/><path fill="#98cce0" d="M95 246h2v2h-2zM101 246h2v2h-2zM105 250h2v2h-2zM109 250h2v2h-2zM97 252h4v2h-4zM117 252h2v2h-2zM97 254h2v2h-2zM93 266h2v2h-2zM145 266h2v2h-2zM97 272h2v2h-2zM17 284h2v2h-2zM25 286h2v2h-2zM31 288h2v2h-2zM103 288h2v2h-2zM37 292h2v2h-2zM55 302h2v2h-2zM117 304h2v2h-2zM119 306h2v2h-2zM121 308h2v2h-2zM133 316h2v2h-2zM141 322h2v2h-2zM75 326h2v2h-2zM17 328h2v2h-2zM147 328h2v2h-2zM23 332h2v2h-2zM25 334h2v2h-2zM111 348h2v2h-2zM113 350h2v2h-2zM117 356h2v2h-2zM109 366h2v2h-2zM97 368h2v2h-2z"/><path fill="#9ccce4" d="M97 246h4v2h-4zM121 254h2v2h-2zM125 256h2v2h-2zM93 260h2v2h-2zM93 262h2v2h-2zM139 262h2v2h-2zM93 264h2v2h-2zM147 268h2v2h-2zM147 270h2v2h-2zM99 276h2v2h-2zM159 278h2v2h-2zM163 280h2v2h-2zM101 284h2v2h-2zM35 290h2v2h-2zM131 314h2v2h-2zM69 320h2v2h-2zM139 320h2v2h-2zM21 330h2v2h-2zM85 332h2v2h-2zM155 332h2v2h-2zM89 334h2v2h-2zM97 340h2v2h-2zM103 344h2v2h-2zM41 350h2v2h-2zM115 354h2v2h-2zM51 356h2v2h-2zM63 360h2v2h-2zM113 362h2v2h-2zM75 364h2v2h-2zM83 366h2v2h-2z"/><path fill="#90c4e0" d="M107 246h2v2h-2zM91 262h2v2h-2zM45 354h2v2h-2zM91 370h2v2h-2zM109 370h2v2h-2z"/><path fill="#88bcdc" d="M115 246h2v2h-2zM147 264h2v2h-2zM151 270h2v2h-2zM37 288h2v2h-2zM41 292h2v2h-2zM115 348h2v2h-2zM117 350h2v2h-2zM69 364h2v2h-2zM117 364h2v2h-2zM97 372h2v2h-2zM107 372h2v2h-2z"/><path fill="#80b4d4" d="M121 246h2v2h-2zM117 248h2v2h-2zM137 258h2v2h-2zM145 260h2v2h-2zM93 272h2v2h-2zM95 284h2v2h-2zM51 296h2v2h-2zM57 300h2v2h-2zM75 312h2v2h-2zM73 316h2v2h-2zM75 320h2v2h-2zM133 320h2v2h-2zM77 324h2v2h-2zM87 328h2v2h-2zM157 336h2v2h-2zM27 340h2v2h-2zM103 340h2v2h-2zM163 340h2v2h-2zM33 350h2v2h-2zM39 354h2v2h-2zM119 366h2v2h-2zM117 368h2v2h-2zM77 370h2v2h-2zM123 370h2v2h-2zM85 372h2v2h-2zM119 372h2v2h-2z"/><path fill="#68a0cc" d="M135 246h2v2h-2zM127 248h2v2h-2zM137 254h2v2h-2zM141 256h2v2h-2zM81 258h2v2h-2zM157 260h2v2h-2zM159 262h2v2h-2zM79 266h2v2h-2zM165 266h2v2h-2zM91 278h2v2h-2zM23 280h2v2h-2zM87 284h2v2h-2zM89 288h2v2h-2zM51 292h2v2h-2zM101 296h2v2h-2zM105 300h2v2h-2zM67 302h2v2h-2zM85 312h2v2h-2zM119 314h2v2h-2zM79 316h2v2h-2zM125 326h2v2h-2zM99 328h2v2h-2zM133 332h2v2h-2zM109 334h2v2h-2zM103 336h2v2h-2zM149 336h2v2h-2zM109 340h2v2h-2zM161 344h2v2h-2zM129 348h2v2h-2zM23 350h2v2h-2zM131 350h2v2h-2zM159 350h2v2h-2zM25 352h2v2h-2zM133 352h2v2h-2zM163 352h2v2h-2zM49 360h2v2h-2zM53 362h2v2h-2zM63 366h2v2h-2zM61 370h2v2h-2zM139 370h2v2h-2zM139 372h2v2h-2z"/><path fill="#4474b4" d="M17 248h48v2h-48zM159 248h8v2h-8zM17 250h48v2h-48zM161 250h6v2h-6zM17 252h48v2h-48zM165 252h2v2h-2zM17 254h48v2h-48zM17 256h48v2h-48zM17 258h38v2h-38zM35 270h34v2h-34zM39 272h30v2h-30zM45 274h26v2h-26zM49 276h24v2h-24zM53 278h22v2h-22zM19 360h4v2h-4zM19 362h8v2h-8zM157 362h6v2h-6zM21 364h8v2h-8zM159 364h8v2h-8zM21 366h12v2h-12zM159 366h8v2h-8zM23 368h12v2h-12zM161 368h6v2h-6z"/><path fill="#4878b4" d="M65 248h2v2h-2zM155 248h4v2h-4zM65 250h2v2h-2zM157 250h4v2h-4zM65 252h2v2h-2zM161 252h2v2h-2zM65 254h2v2h-2zM163 254h4v2h-4zM65 256h2v2h-2zM165 256h2v2h-2zM57 258h4v2h-4zM29 270h6v2h-6zM69 270h2v2h-2zM35 272h4v2h-4zM71 272h2v2h-2zM41 274h4v2h-4zM71 274h4v2h-4zM45 276h4v2h-4zM73 276h4v2h-4zM49 278h4v2h-4zM75 278h2v2h-2zM61 280h12v2h-12zM75 292h6v2h-6zM79 294h4v2h-4zM17 358h4v2h-4zM153 358h4v2h-4zM17 360h2v2h-2zM23 360h4v2h-4zM153 360h12v2h-12zM17 362h2v2h-2zM27 362h4v2h-4zM153 362h4v2h-4zM163 362h4v2h-4zM17 364h2v2h-2zM31 364h2v2h-2zM155 364h2v2h-2zM17 366h4v2h-4zM35 366h2v2h-2zM155 366h4v2h-4zM19 368h4v2h-4zM37 368h4v2h-4zM157 368h4v2h-4z"/><path fill="#4878b8" d="M67 248h2v2h-2zM153 248h2v2h-2zM159 252h2v2h-2zM161 254h2v2h-2zM61 258h2v2h-2zM27 270h2v2h-2zM71 270h2v2h-2zM33 272h2v2h-2zM73 272h2v2h-2zM39 274h2v2h-2zM43 276h2v2h-2zM59 280h2v2h-2zM73 280h2v2h-2zM81 292h2v2h-2zM77 294h2v2h-2zM83 294h2v2h-2zM79 296h6v2h-6zM83 298h2v2h-2zM105 322h4v2h-4zM21 358h2v2h-2zM151 358h2v2h-2zM157 358h2v2h-2zM151 360h2v2h-2zM151 362h2v2h-2zM33 364h2v2h-2zM153 364h2v2h-2zM37 366h2v2h-2zM153 366h2v2h-2zM17 368h2v2h-2zM155 368h2v2h-2z"/><path fill="#4c7cb8" d="M69 248h2v2h-2zM149 248h4v2h-4zM69 250h2v2h-2zM153 250h2v2h-2zM69 252h2v2h-2zM155 252h4v2h-4zM69 254h2v2h-2zM157 254h4v2h-4zM69 256h2v2h-2zM161 256h2v2h-2zM63 258h4v2h-4zM21 270h4v2h-4zM73 270h2v2h-2zM27 272h4v2h-4zM75 272h2v2h-2zM33 274h4v2h-4zM77 274h2v2h-2zM39 276h4v2h-4zM77 276h2v2h-2zM43 278h4v2h-4zM79 278h2v2h-2zM53 280h4v2h-4zM75 280h4v2h-4zM71 292h2v2h-2zM83 292h4v2h-4zM73 294h2v2h-2zM85 294h2v2h-2zM75 296h4v2h-4zM87 296h2v2h-2zM79 298h2v2h-2zM87 298h2v2h-2zM81 300h4v2h-4zM89 300h2v2h-2zM97 314h6v2h-6zM97 316h10v2h-10zM99 318h2v2h-2zM105 318h4v2h-4zM99 320h4v2h-4zM107 320h4v2h-4zM101 322h4v2h-4zM111 322h2v2h-2zM105 324h8v2h-8zM123 336h8v2h-8zM125 338h8v2h-8zM127 340h10v2h-10zM129 342h10v2h-10zM133 344h10v2h-10zM137 346h6v2h-6zM25 358h2v2h-2zM147 358h2v2h-2zM161 358h4v2h-4zM29 360h2v2h-2zM147 360h2v2h-2zM33 362h2v2h-2zM149 362h2v2h-2zM37 364h2v2h-2zM149 364h2v2h-2zM41 366h2v2h-2zM149 366h4v2h-4zM43 368h4v2h-4zM151 368h4v2h-4z"/><path fill="#5080b8" d="M71 248h2v2h-2zM71 250h2v2h-2zM155 254h2v2h-2zM71 256h2v2h-2zM23 272h2v2h-2zM29 274h2v2h-2zM79 274h2v2h-2zM35 276h2v2h-2zM49 280h2v2h-2zM73 296h2v2h-2zM89 296h2v2h-2zM93 314h2v2h-2zM107 316h2v2h-2zM97 320h2v2h-2zM115 324h2v2h-2zM119 336h2v2h-2zM135 338h2v2h-2zM127 342h2v2h-2zM141 342h2v2h-2zM145 346h2v2h-2zM145 362h2v2h-2zM47 368h2v2h-2z"/><path fill="#5084bc" d="M73 248h2v2h-2zM143 248h2v2h-2zM147 250h2v2h-2zM149 252h2v2h-2zM153 254h2v2h-2zM155 256h2v2h-2zM69 258h2v2h-2zM163 258h2v2h-2zM79 270h2v2h-2zM17 272h4v2h-4zM25 274h2v2h-2zM81 274h2v2h-2zM31 276h2v2h-2zM81 276h2v2h-2zM37 278h2v2h-2zM45 280h4v2h-4zM81 280h2v2h-2zM65 292h2v2h-2zM89 292h2v2h-2zM71 296h2v2h-2zM91 296h2v2h-2zM73 298h2v2h-2zM77 300h2v2h-2zM93 300h2v2h-2zM81 302h2v2h-2zM93 302h2v2h-2zM91 314h2v2h-2zM107 314h2v2h-2zM109 316h2v2h-2zM93 318h2v2h-2zM111 318h2v2h-2zM95 320h2v2h-2zM117 322h2v2h-2zM99 324h2v2h-2zM117 324h2v2h-2zM117 336h2v2h-2zM133 336h2v2h-2zM119 338h2v2h-2zM137 338h2v2h-2zM141 340h2v2h-2zM125 342h2v2h-2zM143 342h2v2h-2zM127 344h2v2h-2zM147 344h2v2h-2zM131 346h2v2h-2zM149 346h2v2h-2zM31 358h2v2h-2zM141 358h2v2h-2zM35 360h2v2h-2zM39 362h2v2h-2zM143 362h2v2h-2zM43 364h2v2h-2zM143 364h2v2h-2zM47 366h2v2h-2zM145 366h2v2h-2zM51 368h2v2h-2zM145 368h2v2h-2z"/><path fill="#70acd0" d="M85 248h2v2h-2zM151 260h2v2h-2zM157 270h2v2h-2zM39 284h2v2h-2zM109 302h2v2h-2zM105 304h2v2h-2zM107 306h2v2h-2zM109 308h2v2h-2zM111 310h2v2h-2zM127 318h2v2h-2zM81 324h2v2h-2zM93 328h2v2h-2zM153 336h2v2h-2zM103 338h2v2h-2zM129 354h2v2h-2zM37 356h2v2h-2zM123 368h2v2h-2z"/><path fill="#5080bc" d="M145 248h2v2h-2zM149 250h2v2h-2zM71 252h2v2h-2zM151 252h2v2h-2zM71 254h2v2h-2zM157 256h2v2h-2zM165 258h2v2h-2zM77 270h2v2h-2zM21 272h2v2h-2zM79 272h2v2h-2zM27 274h2v2h-2zM33 276h2v2h-2zM39 278h2v2h-2zM81 278h2v2h-2zM79 280h2v2h-2zM67 292h2v2h-2zM87 292h2v2h-2zM69 294h2v2h-2zM89 294h2v2h-2zM75 298h2v2h-2zM91 298h2v2h-2zM83 302h2v2h-2zM91 302h2v2h-2zM105 314h2v2h-2zM93 316h2v2h-2zM95 318h2v2h-2zM113 320h2v2h-2zM97 322h2v2h-2zM115 322h2v2h-2zM101 324h2v2h-2zM121 338h2v2h-2zM123 340h2v2h-2zM139 340h2v2h-2zM129 344h2v2h-2zM145 344h2v2h-2zM133 346h2v2h-2zM147 346h2v2h-2zM29 358h2v2h-2zM143 358h2v2h-2zM33 360h2v2h-2zM143 360h2v2h-2zM37 362h2v2h-2zM41 364h2v2h-2zM145 364h2v2h-2zM45 366h2v2h-2zM49 368h2v2h-2zM147 368h2v2h-2z"/><path fill="#4c80b8" d="M147 248h2v2h-2zM151 250h2v2h-2zM153 252h2v2h-2zM159 256h2v2h-2zM67 258h2v2h-2zM17 270h4v2h-4zM75 270h2v2h-2zM25 272h2v2h-2zM77 272h2v2h-2zM31 274h2v2h-2zM37 276h2v2h-2zM79 276h2v2h-2zM41 278h2v2h-2zM51 280h2v2h-2zM69 292h2v2h-2zM71 294h2v2h-2zM87 294h2v2h-2zM77 298h2v2h-2zM89 298h2v2h-2zM79 300h2v2h-2zM91 300h2v2h-2zM85 302h6v2h-6zM95 314h2v2h-2zM103 314h2v2h-2zM95 316h2v2h-2zM97 318h2v2h-2zM109 318h2v2h-2zM111 320h2v2h-2zM99 322h2v2h-2zM113 322h2v2h-2zM103 324h2v2h-2zM113 324h2v2h-2zM121 336h2v2h-2zM131 336h2v2h-2zM123 338h2v2h-2zM133 338h2v2h-2zM125 340h2v2h-2zM137 340h2v2h-2zM139 342h2v2h-2zM131 344h2v2h-2zM143 344h2v2h-2zM135 346h2v2h-2zM143 346h2v2h-2zM27 358h2v2h-2zM145 358h2v2h-2zM165 358h2v2h-2zM31 360h2v2h-2zM145 360h2v2h-2zM35 362h2v2h-2zM147 362h2v2h-2zM39 364h2v2h-2zM147 364h2v2h-2zM43 366h2v2h-2zM147 366h2v2h-2zM149 368h2v2h-2z"/><path fill="#487cb8" d="M67 250h2v2h-2zM155 250h2v2h-2zM67 252h2v2h-2zM67 254h2v2h-2zM67 256h2v2h-2zM163 256h2v2h-2zM25 270h2v2h-2zM31 272h2v2h-2zM37 274h2v2h-2zM75 274h2v2h-2zM47 278h2v2h-2zM77 278h2v2h-2zM57 280h2v2h-2zM73 292h2v2h-2zM75 294h2v2h-2zM85 296h2v2h-2zM81 298h2v2h-2zM85 298h2v2h-2zM85 300h4v2h-4zM101 318h4v2h-4zM103 320h4v2h-4zM109 322h2v2h-2zM23 358h2v2h-2zM149 358h2v2h-2zM159 358h2v2h-2zM27 360h2v2h-2zM149 360h2v2h-2zM165 360h2v2h-2zM31 362h2v2h-2zM35 364h2v2h-2zM151 364h2v2h-2zM39 366h2v2h-2zM41 368h2v2h-2z"/><path fill="#5484bc" d="M73 250h2v2h-2zM145 250h2v2h-2zM73 252h2v2h-2zM73 254h2v2h-2zM151 254h2v2h-2zM73 256h2v2h-2zM71 258h2v2h-2zM161 258h2v2h-2zM81 272h2v2h-2zM23 274h2v2h-2zM29 276h2v2h-2zM35 278h2v2h-2zM83 278h2v2h-2zM67 294h2v2h-2zM91 294h2v2h-2zM93 298h2v2h-2zM75 300h2v2h-2zM79 302h2v2h-2zM91 316h2v2h-2zM113 318h2v2h-2zM93 320h2v2h-2zM115 320h2v2h-2zM95 322h2v2h-2zM115 336h2v2h-2zM135 336h2v2h-2zM139 338h2v2h-2zM121 340h2v2h-2zM145 342h2v2h-2zM141 360h2v2h-2zM141 362h2v2h-2zM143 366h2v2h-2z"/><path fill="#9ccce0" d="M107 250h2v2h-2zM95 258h2v2h-2zM153 274h2v2h-2zM41 294h2v2h-2zM45 296h2v2h-2zM77 328h2v2h-2zM81 330h2v2h-2zM151 330h2v2h-2zM31 338h2v2h-2zM47 354h2v2h-2z"/><path fill="#a0d0e4" d="M101 252h2v2h-2zM113 252h2v2h-2zM99 254h2v2h-2zM119 254h2v2h-2zM97 256h2v2h-2zM141 264h2v2h-2zM95 268h2v2h-2zM97 270h2v2h-2zM149 272h2v2h-2zM99 274h2v2h-2zM155 276h2v2h-2zM101 280h2v2h-2zM21 286h2v2h-2zM103 286h2v2h-2zM29 288h2v2h-2zM105 290h2v2h-2zM109 292h2v2h-2zM111 294h2v2h-2zM113 296h2v2h-2zM115 298h2v2h-2zM117 300h2v2h-2zM61 306h2v2h-2zM63 308h2v2h-2zM65 310h2v2h-2zM125 310h2v2h-2zM127 312h2v2h-2zM67 316h2v2h-2zM137 318h2v2h-2zM69 324h2v2h-2zM145 324h2v2h-2zM73 326h2v2h-2zM145 326h2v2h-2zM19 328h2v2h-2zM75 328h2v2h-2zM149 328h2v2h-2zM23 330h2v2h-2zM79 330h2v2h-2zM153 330h2v2h-2zM25 332h2v2h-2zM27 334h2v2h-2zM159 334h2v2h-2zM31 336h2v2h-2zM93 338h2v2h-2zM35 342h2v2h-2zM37 344h2v2h-2zM39 346h2v2h-2zM105 346h2v2h-2zM39 348h2v2h-2zM111 350h2v2h-2zM45 352h2v2h-2zM113 352h2v2h-2zM115 356h2v2h-2zM59 358h2v2h-2zM113 358h2v2h-2zM113 360h2v2h-2zM69 362h2v2h-2zM85 366h2v2h-2zM105 366h2v2h-2z"/><path fill="#a4d4e4" d="M103 252h2v2h-2zM123 256h2v2h-2zM137 262h2v2h-2zM101 278h2v2h-2zM33 290h2v2h-2zM35 292h2v2h-2zM47 298h2v2h-2zM119 302h2v2h-2zM119 304h2v2h-2zM121 306h2v2h-2zM65 314h2v2h-2zM67 318h2v2h-2zM83 332h2v2h-2zM157 332h2v2h-2zM99 342h2v2h-2zM49 354h2v2h-2zM77 364h2v2h-2zM109 364h2v2h-2zM87 366h2v2h-2z"/><path fill="#a4d4e8" d="M105 252h2v2h-2zM111 252h2v2h-2zM97 258h2v2h-2zM127 258h2v2h-2zM133 260h2v2h-2zM95 266h2v2h-2zM145 268h2v2h-2zM151 274h2v2h-2zM157 278h2v2h-2zM161 280h2v2h-2zM27 288h2v2h-2zM105 288h2v2h-2zM39 294h2v2h-2zM43 296h2v2h-2zM53 302h2v2h-2zM135 316h2v2h-2zM143 322h2v2h-2zM87 334h2v2h-2zM33 338h2v2h-2zM43 350h2v2h-2zM53 356h2v2h-2zM65 360h2v2h-2zM111 362h2v2h-2zM103 366h2v2h-2z"/><path fill="#a8d4e8" d="M107 252h4v2h-4zM95 260h2v2h-2zM95 264h2v2h-2zM19 286h2v2h-2zM67 320h2v2h-2zM147 326h2v2h-2zM27 332h2v2h-2zM161 334h2v2h-2zM113 354h2v2h-2zM71 362h2v2h-2zM89 366h2v2h-2z"/><path fill="#9cd0e4" d="M115 252h2v2h-2zM129 258h2v2h-2zM135 260h2v2h-2zM23 286h2v2h-2zM51 300h2v2h-2zM59 304h2v2h-2zM67 312h2v2h-2zM69 322h2v2h-2zM165 336h2v2h-2zM33 340h2v2h-2zM111 364h2v2h-2zM107 366h2v2h-2z"/><path fill="#4478b4" d="M163 252h2v2h-2zM55 258h2v2h-2zM69 272h2v2h-2zM19 364h2v2h-2zM29 364h2v2h-2zM157 364h2v2h-2zM33 366h2v2h-2zM35 368h2v2h-2z"/><path fill="#a8d8e8" d="M101 254h2v2h-2zM117 254h2v2h-2zM99 256h2v2h-2zM95 262h2v2h-2zM139 264h2v2h-2zM145 270h2v2h-2zM99 272h2v2h-2zM153 276h2v2h-2zM103 284h2v2h-2zM17 286h2v2h-2zM49 300h2v2h-2zM57 304h2v2h-2zM59 306h2v2h-2zM63 310h2v2h-2zM65 312h2v2h-2zM133 314h2v2h-2zM141 320h2v2h-2zM67 322h2v2h-2zM17 326h2v2h-2zM71 326h2v2h-2zM21 328h2v2h-2zM73 328h2v2h-2zM151 328h2v2h-2zM25 330h2v2h-2zM77 330h2v2h-2zM155 330h2v2h-2zM29 334h2v2h-2zM35 340h2v2h-2zM95 340h2v2h-2zM101 344h2v2h-2zM41 348h2v2h-2zM47 352h2v2h-2zM111 352h2v2h-2zM111 360h2v2h-2zM79 364h2v2h-2zM91 366h2v2h-2zM99 366h4v2h-4z"/><path fill="#acdce8" d="M103 254h2v2h-2zM131 260h2v2h-2zM97 268h2v2h-2zM103 280h2v2h-2zM105 286h2v2h-2zM113 294h2v2h-2zM115 296h2v2h-2zM117 298h2v2h-2zM119 300h2v2h-2zM121 304h2v2h-2zM123 306h2v2h-2zM139 318h2v2h-2zM87 336h2v2h-2zM39 344h2v2h-2zM55 356h2v2h-2z"/><path fill="#b0dcec" d="M105 254h2v2h-2zM113 254h2v2h-2zM101 256h2v2h-2zM119 256h2v2h-2zM99 258h2v2h-2zM97 260h2v2h-2zM97 264h2v2h-2zM137 264h2v2h-2zM97 266h2v2h-2zM143 268h2v2h-2zM101 274h2v2h-2zM149 274h2v2h-2zM155 278h2v2h-2zM159 280h2v2h-2zM103 282h2v2h-2zM23 288h2v2h-2zM29 290h2v2h-2zM37 294h2v2h-2zM41 296h2v2h-2zM51 302h2v2h-2zM121 302h2v2h-2zM63 314h2v2h-2zM65 318h2v2h-2zM145 322h2v2h-2zM17 324h2v2h-2zM19 326h2v2h-2zM69 326h2v2h-2zM149 326h2v2h-2zM23 328h2v2h-2zM71 328h2v2h-2zM153 328h2v2h-2zM27 330h2v2h-2zM75 330h2v2h-2zM157 330h2v2h-2zM31 334h2v2h-2zM35 338h2v2h-2zM97 342h2v2h-2zM45 350h2v2h-2zM111 354h2v2h-2zM67 360h2v2h-2zM73 362h2v2h-2zM81 364h2v2h-2zM105 364h2v2h-2z"/><path fill="#b4dcec" d="M107 254h6v2h-6zM129 260h2v2h-2zM97 262h2v2h-2zM133 262h2v2h-2zM139 266h2v2h-2zM143 270h2v2h-2zM103 278h2v2h-2zM163 282h2v2h-2zM21 288h2v2h-2zM107 288h2v2h-2zM31 292h2v2h-2zM55 304h2v2h-2zM57 306h2v2h-2zM61 310h2v2h-2zM63 312h2v2h-2zM137 316h2v2h-2zM65 320h2v2h-2zM65 322h2v2h-2zM65 324h2v2h-2zM79 332h2v2h-2zM161 332h2v2h-2zM43 348h2v2h-2zM49 352h2v2h-2zM109 352h2v2h-2zM111 356h2v2h-2zM109 360h2v2h-2zM107 362h2v2h-2zM83 364h2v2h-2zM103 364h2v2h-2z"/><path fill="#acd8e8" d="M115 254h2v2h-2zM121 256h2v2h-2zM135 262h2v2h-2zM141 266h2v2h-2zM99 270h2v2h-2zM147 272h2v2h-2zM101 276h2v2h-2zM165 282h2v2h-2zM25 288h2v2h-2zM31 290h2v2h-2zM107 290h2v2h-2zM33 292h2v2h-2zM61 308h2v2h-2zM125 308h2v2h-2zM127 310h2v2h-2zM129 312h2v2h-2zM65 316h2v2h-2zM67 324h2v2h-2zM147 324h2v2h-2zM81 332h2v2h-2zM159 332h2v2h-2zM85 334h2v2h-2zM33 336h2v2h-2zM91 338h2v2h-2zM37 342h2v2h-2zM41 346h2v2h-2zM103 346h2v2h-2zM107 348h2v2h-2zM109 350h2v2h-2zM51 354h2v2h-2zM113 356h2v2h-2zM61 358h2v2h-2zM111 358h2v2h-2zM109 362h2v2h-2zM107 364h2v2h-2zM93 366h6v2h-6z"/><path fill="#70a4cc" d="M135 254h2v2h-2zM165 274h2v2h-2zM49 292h2v2h-2zM113 344h2v2h-2zM163 344h2v2h-2zM163 350h2v2h-2zM131 354h2v2h-2zM65 366h2v2h-2zM65 370h2v2h-2zM71 372h2v2h-2z"/><path fill="#b8e0ec" d="M103 256h2v2h-2zM117 256h2v2h-2zM101 258h2v2h-2zM141 268h2v2h-2zM101 272h2v2h-2zM145 272h2v2h-2zM157 280h2v2h-2zM19 288h2v2h-2zM27 290h2v2h-2zM109 290h2v2h-2zM35 294h2v2h-2zM47 300h2v2h-2zM123 304h2v2h-2zM125 306h2v2h-2zM127 308h2v2h-2zM129 310h2v2h-2zM135 314h2v2h-2zM63 316h2v2h-2zM143 320h2v2h-2zM149 324h2v2h-2zM21 326h2v2h-2zM67 326h2v2h-2zM151 326h2v2h-2zM69 328h2v2h-2zM155 328h2v2h-2zM29 330h2v2h-2zM73 330h2v2h-2zM159 330h2v2h-2zM33 334h2v2h-2zM35 336h2v2h-2zM85 336h2v2h-2zM89 338h2v2h-2zM37 340h2v2h-2zM39 342h2v2h-2zM99 344h2v2h-2zM105 348h2v2h-2zM107 350h2v2h-2zM53 354h2v2h-2zM57 356h2v2h-2zM69 360h2v2h-2zM75 362h2v2h-2zM85 364h2v2h-2zM101 364h2v2h-2z"/><path fill="#bce0ec" d="M105 256h2v2h-2zM115 256h2v2h-2zM99 260h2v2h-2zM131 262h2v2h-2zM135 264h2v2h-2zM99 266h2v2h-2zM99 268h2v2h-2zM101 270h2v2h-2zM147 274h2v2h-2zM103 276h2v2h-2zM153 278h2v2h-2zM165 284h2v2h-2zM107 286h2v2h-2zM113 292h2v2h-2zM115 294h2v2h-2zM39 296h2v2h-2zM117 296h2v2h-2zM43 298h2v2h-2zM119 298h2v2h-2zM121 300h2v2h-2zM141 318h2v2h-2zM19 324h2v2h-2zM77 332h2v2h-2zM163 332h2v2h-2zM41 344h2v2h-2zM43 346h2v2h-2zM101 346h2v2h-2zM47 350h2v2h-2zM109 354h2v2h-2zM107 360h2v2h-2zM105 362h2v2h-2zM87 364h2v2h-2zM99 364h2v2h-2z"/><path fill="#c0e4f0" d="M107 256h8v2h-8zM103 258h2v2h-2zM133 264h2v2h-2zM137 266h2v2h-2zM141 270h2v2h-2zM103 274h2v2h-2zM149 276h2v2h-2zM109 288h2v2h-2zM49 302h2v2h-2zM53 304h2v2h-2zM55 306h2v2h-2zM57 308h2v2h-2zM59 310h2v2h-2zM61 312h2v2h-2zM133 312h2v2h-2zM61 314h2v2h-2zM139 316h2v2h-2zM63 320h2v2h-2zM63 322h2v2h-2zM147 322h2v2h-2zM63 324h2v2h-2zM23 326h2v2h-2zM65 326h2v2h-2zM153 326h2v2h-2zM157 328h2v2h-2zM71 330h2v2h-2zM81 334h2v2h-2zM37 338h2v2h-2zM95 342h2v2h-2zM45 348h2v2h-2zM51 352h2v2h-2zM107 352h2v2h-2zM55 354h2v2h-2zM59 356h2v2h-2zM65 358h2v2h-2zM107 358h2v2h-2zM71 360h2v2h-2zM89 364h10v2h-10z"/><path fill="#c8e8f0" d="M105 258h2v2h-2zM117 258h2v2h-2zM101 262h2v2h-2zM101 264h2v2h-2zM101 266h2v2h-2zM135 266h2v2h-2zM101 268h2v2h-2zM103 272h2v2h-2zM145 274h2v2h-2zM151 278h2v2h-2zM159 282h2v2h-2zM21 290h2v2h-2zM27 292h2v2h-2zM37 296h2v2h-2zM41 298h2v2h-2zM61 316h2v2h-2zM17 322h2v2h-2zM61 324h2v2h-2zM25 326h2v2h-2zM63 326h2v2h-2zM79 334h2v2h-2zM41 342h2v2h-2zM43 344h2v2h-2zM45 346h2v2h-2zM99 346h2v2h-2zM49 350h2v2h-2zM107 356h2v2h-2zM101 362h2v2h-2z"/><path fill="#cce8f4" d="M107 258h2v2h-2zM115 258h2v2h-2zM103 260h2v2h-2zM123 260h2v2h-2zM127 262h2v2h-2zM137 268h2v2h-2zM103 270h2v2h-2zM139 270h2v2h-2zM105 276h2v2h-2zM107 282h2v2h-2zM109 286h2v2h-2zM165 286h2v2h-2zM123 300h2v2h-2zM47 302h2v2h-2zM125 302h2v2h-2zM59 312h2v2h-2zM61 318h2v2h-2zM61 320h2v2h-2zM61 322h2v2h-2zM149 322h2v2h-2zM31 328h2v2h-2zM63 328h2v2h-2zM159 328h2v2h-2zM35 330h2v2h-2zM67 330h2v2h-2zM163 330h2v2h-2zM37 332h2v2h-2zM73 332h2v2h-2zM37 334h2v2h-2zM39 338h2v2h-2zM93 342h2v2h-2zM47 348h2v2h-2zM53 352h2v2h-2zM105 352h2v2h-2zM57 354h2v2h-2zM61 356h2v2h-2zM67 358h2v2h-2zM105 358h2v2h-2zM73 360h2v2h-2z"/><path fill="#d0ecf4" d="M109 258h6v2h-6zM103 262h2v2h-2zM141 272h2v2h-2zM147 276h2v2h-2zM107 280h2v2h-2zM157 282h2v2h-2zM161 284h2v2h-2zM19 290h2v2h-2zM113 290h2v2h-2zM25 292h2v2h-2zM31 294h2v2h-2zM55 308h2v2h-2zM133 310h2v2h-2zM135 312h2v2h-2zM59 314h2v2h-2zM141 316h2v2h-2zM23 324h2v2h-2zM153 324h2v2h-2zM27 326h2v2h-2zM33 328h2v2h-2zM61 328h2v2h-2zM37 330h2v2h-2zM39 336h2v2h-2zM81 336h2v2h-2zM101 348h2v2h-2zM103 350h2v2h-2zM105 354h2v2h-2zM103 360h2v2h-2zM83 362h2v2h-2zM99 362h2v2h-2z"/><path fill="#c4e4f0" d="M119 258h2v2h-2zM101 260h2v2h-2zM125 260h2v2h-2zM129 262h2v2h-2zM139 268h2v2h-2zM143 272h2v2h-2zM105 278h2v2h-2zM155 280h2v2h-2zM107 284h2v2h-2zM163 284h2v2h-2zM23 290h2v2h-2zM111 290h2v2h-2zM33 294h2v2h-2zM45 300h2v2h-2zM125 304h2v2h-2zM127 306h2v2h-2zM129 308h2v2h-2zM131 310h2v2h-2zM137 314h2v2h-2zM145 320h2v2h-2zM151 324h2v2h-2zM29 328h2v2h-2zM65 328h2v2h-2zM33 330h2v2h-2zM69 330h2v2h-2zM161 330h2v2h-2zM35 332h2v2h-2zM75 332h2v2h-2zM165 332h2v2h-2zM35 334h2v2h-2zM37 336h2v2h-2zM83 336h2v2h-2zM39 340h2v2h-2zM91 340h2v2h-2zM97 344h2v2h-2zM103 348h2v2h-2zM105 350h2v2h-2zM107 354h2v2h-2zM105 360h2v2h-2zM79 362h2v2h-2zM103 362h2v2h-2z"/><path fill="#bce0f0" d="M121 258h2v2h-2zM127 260h2v2h-2zM99 262h2v2h-2zM99 264h2v2h-2zM105 282h2v2h-2zM17 288h2v2h-2zM123 302h2v2h-2zM63 318h2v2h-2zM27 328h2v2h-2z"/><path fill="#b4e0ec" d="M123 258h2v2h-2zM151 276h2v2h-2zM105 284h2v2h-2zM59 308h2v2h-2zM131 312h2v2h-2zM25 328h2v2h-2zM31 332h2v2h-2zM83 334h2v2h-2zM165 334h2v2h-2zM93 340h2v2h-2zM63 358h2v2h-2zM109 358h2v2h-2z"/><path fill="#b0dce8" d="M125 258h2v2h-2zM111 292h2v2h-2zM45 298h2v2h-2zM29 332h2v2h-2zM163 334h2v2h-2z"/><path fill="#d4ecf4" d="M105 260h2v2h-2zM121 260h2v2h-2zM125 262h2v2h-2zM103 264h2v2h-2zM129 264h2v2h-2zM103 266h2v2h-2zM133 266h2v2h-2zM103 268h2v2h-2zM105 274h2v2h-2zM149 278h2v2h-2zM109 284h2v2h-2zM111 288h2v2h-2zM17 290h2v2h-2zM35 296h2v2h-2zM39 298h2v2h-2zM43 300h2v2h-2zM127 304h2v2h-2zM129 306h2v2h-2zM131 308h2v2h-2zM139 314h2v2h-2zM59 316h2v2h-2zM147 320h2v2h-2zM19 322h2v2h-2zM59 324h2v2h-2zM59 326h2v2h-2zM157 326h2v2h-2zM161 328h2v2h-2zM65 330h2v2h-2zM165 330h2v2h-2zM39 332h2v2h-2zM71 332h2v2h-2zM39 334h2v2h-2zM77 334h2v2h-2zM85 338h2v2h-2zM41 340h2v2h-2zM89 340h2v2h-2zM95 344h2v2h-2zM51 350h2v2h-2zM105 356h2v2h-2zM75 360h2v2h-2zM85 362h2v2h-2zM97 362h2v2h-2z"/><path fill="#d8f0f4" d="M107 260h2v2h-2zM119 260h2v2h-2zM105 262h2v2h-2zM135 268h2v2h-2zM137 270h2v2h-2zM105 272h2v2h-2zM143 274h2v2h-2zM107 278h2v2h-2zM163 286h2v2h-2zM23 292h2v2h-2zM49 304h2v2h-2zM59 322h2v2h-2zM29 326h2v2h-2zM35 328h2v2h-2zM59 328h2v2h-2zM39 330h2v2h-2zM43 342h2v2h-2zM47 346h2v2h-2zM97 346h2v2h-2zM55 352h2v2h-2zM103 352h2v2h-2zM59 354h2v2h-2zM63 356h2v2h-2zM69 358h2v2h-2zM103 358h2v2h-2zM101 360h2v2h-2zM87 362h8v2h-8z"/><path fill="#dcf0f8" d="M109 260h2v2h-2zM117 260h2v2h-2zM123 262h2v2h-2zM105 264h2v2h-2zM127 264h2v2h-2zM131 266h2v2h-2zM105 270h2v2h-2zM107 276h2v2h-2zM145 276h2v2h-2zM151 280h2v2h-2zM109 282h2v2h-2zM155 282h2v2h-2zM111 286h2v2h-2zM21 292h2v2h-2zM123 298h2v2h-2zM125 300h2v2h-2zM45 302h2v2h-2zM127 302h2v2h-2zM51 306h2v2h-2zM53 308h2v2h-2zM55 310h2v2h-2zM137 312h2v2h-2zM145 318h2v2h-2zM59 320h2v2h-2zM25 324h2v2h-2zM155 324h2v2h-2zM57 326h2v2h-2zM37 328h2v2h-2zM57 328h2v2h-2zM41 330h2v2h-2zM41 332h2v2h-2zM69 332h2v2h-2zM75 334h2v2h-2zM41 336h2v2h-2zM91 342h2v2h-2zM99 348h2v2h-2zM101 350h2v2h-2zM103 354h2v2h-2zM77 360h2v2h-2z"/><path fill="#e0f4f8" d="M111 260h6v2h-6zM107 262h2v2h-2zM121 262h2v2h-2zM105 266h2v2h-2zM105 268h2v2h-2zM139 272h2v2h-2zM109 280h2v2h-2zM113 288h2v2h-2zM165 288h2v2h-2zM115 290h2v2h-2zM33 296h2v2h-2zM129 304h2v2h-2zM133 308h2v2h-2zM135 310h2v2h-2zM57 314h2v2h-2zM143 316h2v2h-2zM21 322h2v2h-2zM57 324h2v2h-2zM31 326h2v2h-2zM159 326h2v2h-2zM39 328h2v2h-2zM55 328h2v2h-2zM163 328h2v2h-2zM43 330h2v2h-2zM61 330h2v2h-2zM41 334h2v2h-2zM79 336h2v2h-2zM83 338h2v2h-2zM43 340h2v2h-2zM87 340h2v2h-2zM53 350h2v2h-2zM65 356h2v2h-2zM103 356h2v2h-2zM71 358h2v2h-2zM101 358h2v2h-2zM99 360h2v2h-2z"/><path fill="#e4f4f4" d="M109 262h2v2h-2zM107 264h2v2h-2zM125 264h2v2h-2zM129 266h2v2h-2zM133 268h2v2h-2zM141 274h2v2h-2zM111 284h2v2h-2zM157 284h2v2h-2zM19 292h2v2h-2zM17 320h2v2h-2zM149 320h2v2h-2zM57 322h2v2h-2zM27 324h2v2h-2zM33 326h2v2h-2zM41 328h2v2h-2zM53 328h2v2h-2zM45 330h2v2h-2zM73 334h2v2h-2zM93 344h2v2h-2zM57 352h2v2h-2zM101 352h2v2h-2zM61 354h2v2h-2zM97 360h2v2h-2z"/><path fill="#e4f4ec" d="M111 262h2v2h-2zM117 262h2v2h-2zM107 266h2v2h-2zM143 276h2v2h-2zM119 292h2v2h-2zM121 294h2v2h-2zM47 328h2v2h-2zM165 328h2v2h-2zM49 330h2v2h-2zM47 344h2v2h-2zM99 350h2v2h-2z"/><path fill="#e8f4ec" d="M113 262h4v2h-4zM109 264h2v2h-2zM123 264h2v2h-2zM107 268h2v2h-2zM137 272h2v2h-2zM115 288h2v2h-2zM163 288h2v2h-2zM117 290h2v2h-2zM25 294h2v2h-2zM31 296h2v2h-2zM123 296h2v2h-2zM125 298h2v2h-2zM127 300h2v2h-2zM43 302h2v2h-2zM49 306h2v2h-2zM51 308h2v2h-2zM53 310h2v2h-2zM139 312h2v2h-2zM147 318h2v2h-2zM23 322h2v2h-2zM35 326h2v2h-2zM161 326h2v2h-2zM51 330h4v2h-4zM77 336h2v2h-2zM89 342h2v2h-2zM97 348h2v2h-2zM67 356h2v2h-2zM73 358h2v2h-2zM99 358h2v2h-2zM95 360h2v2h-2z"/><path fill="#e4f4f0" d="M119 262h2v2h-2zM107 270h2v2h-2zM135 270h2v2h-2zM107 272h2v2h-2zM109 278h2v2h-2zM149 280h2v2h-2zM153 282h2v2h-2zM17 292h2v2h-2zM47 304h2v2h-2zM55 312h2v2h-2zM141 314h2v2h-2zM57 316h2v2h-2zM57 318h2v2h-2zM57 320h2v2h-2zM153 322h2v2h-2zM55 324h2v2h-2zM157 324h2v2h-2zM53 326h2v2h-2zM43 328h4v2h-4zM49 328h4v2h-4zM47 330h2v2h-2zM55 330h4v2h-4zM45 332h2v2h-2zM65 332h2v2h-2zM43 334h2v2h-2zM43 336h2v2h-2zM43 338h2v2h-2zM45 342h2v2h-2zM49 346h2v2h-2zM95 346h2v2h-2zM51 348h2v2h-2zM101 354h2v2h-2zM101 356h2v2h-2zM81 360h2v2h-2z"/><path fill="#ecf8e4" d="M111 264h2v2h-2zM109 266h2v2h-2zM133 270h2v2h-2zM109 274h2v2h-2zM139 274h2v2h-2zM111 280h2v2h-2zM35 298h2v2h-2zM39 300h2v2h-2zM131 304h2v2h-2zM133 306h2v2h-2zM145 316h2v2h-2zM19 320h2v2h-2zM151 320h2v2h-2zM39 326h2v2h-2zM47 326h4v2h-4zM49 332h2v2h-2zM61 332h2v2h-2zM45 336h2v2h-2zM59 352h2v2h-2zM99 352h2v2h-2zM63 354h2v2h-2zM99 356h2v2h-2zM75 358h2v2h-2zM97 358h2v2h-2zM87 360h6v2h-6z"/><path fill="#ecf8e0" d="M113 264h8v2h-8zM125 266h2v2h-2zM109 268h2v2h-2zM129 268h2v2h-2zM109 270h2v2h-2zM109 272h2v2h-2zM147 280h2v2h-2zM113 284h2v2h-2zM161 288h2v2h-2zM165 290h2v2h-2zM23 294h2v2h-2zM45 304h2v2h-2zM53 312h2v2h-2zM55 316h2v2h-2zM55 320h2v2h-2zM155 322h2v2h-2zM31 324h2v2h-2zM159 324h2v2h-2zM41 326h6v2h-6zM163 326h2v2h-2zM51 332h2v2h-2zM59 332h2v2h-2zM47 334h2v2h-2zM69 334h2v2h-2zM75 336h2v2h-2zM45 338h2v2h-2zM47 342h2v2h-2zM91 344h2v2h-2zM53 348h2v2h-2zM99 354h2v2h-2zM69 356h2v2h-2z"/><path fill="#e8f8e8" d="M121 264h2v2h-2zM127 266h2v2h-2zM131 268h2v2h-2zM109 276h2v2h-2zM145 278h2v2h-2zM111 282h2v2h-2zM155 284h2v2h-2zM113 286h2v2h-2zM159 286h2v2h-2zM129 302h2v2h-2zM137 310h2v2h-2zM55 314h2v2h-2zM55 322h2v2h-2zM29 324h2v2h-2zM53 324h2v2h-2zM37 326h2v2h-2zM51 326h2v2h-2zM47 332h2v2h-2zM63 332h2v2h-2zM45 334h2v2h-2zM71 334h2v2h-2zM81 338h2v2h-2zM85 340h2v2h-2zM55 350h2v2h-2zM83 360h2v2h-2zM93 360h2v2h-2z"/><path fill="#cce8f0" d="M131 264h2v2h-2zM115 292h2v2h-2zM117 294h2v2h-2zM119 296h2v2h-2zM121 298h2v2h-2zM51 304h2v2h-2zM143 318h2v2h-2zM155 326h2v2h-2zM81 362h2v2h-2z"/><path fill="#f0f8dc" d="M111 266h2v2h-2zM123 266h2v2h-2zM135 272h2v2h-2zM111 278h2v2h-2zM153 284h2v2h-2zM115 286h2v2h-2zM157 286h2v2h-2zM117 288h2v2h-2zM119 290h2v2h-2zM121 292h2v2h-2zM123 294h2v2h-2zM29 296h2v2h-2zM125 296h2v2h-2zM47 306h2v2h-2zM51 310h2v2h-2zM143 314h2v2h-2zM55 318h2v2h-2zM25 322h2v2h-2zM53 322h2v2h-2zM51 324h2v2h-2zM55 332h2v2h-2zM49 344h2v2h-2zM51 346h2v2h-2zM93 346h2v2h-2zM95 348h2v2h-2z"/><path fill="#f4f8d8" d="M113 266h2v2h-2zM111 268h2v2h-2zM113 282h2v2h-2zM33 298h2v2h-2zM47 336h2v2h-2z"/><path fill="#f4fcd4" d="M115 266h2v2h-2zM119 266h4v2h-4zM111 270h2v2h-2zM111 274h2v2h-2zM111 276h2v2h-2zM159 288h2v2h-2zM163 290h2v2h-2zM19 294h2v2h-2zM27 296h2v2h-2zM37 300h2v2h-2zM131 302h2v2h-2zM133 304h2v2h-2zM135 306h2v2h-2zM137 308h2v2h-2zM139 310h2v2h-2zM53 314h2v2h-2zM17 318h2v2h-2zM53 320h2v2h-2zM153 320h2v2h-2zM27 322h2v2h-2zM157 322h2v2h-2zM35 324h2v2h-2zM161 324h2v2h-2zM165 326h2v2h-2zM65 334h2v2h-2zM73 336h2v2h-2zM47 338h2v2h-2zM47 340h2v2h-2zM97 354h2v2h-2zM71 356h2v2h-2zM79 358h2v2h-2zM93 358h2v2h-2z"/><path fill="#f4fcd0" d="M117 266h2v2h-2zM111 272h2v2h-2zM133 272h2v2h-2zM139 276h2v2h-2zM145 280h2v2h-2zM151 284h2v2h-2zM155 286h2v2h-2zM17 294h2v2h-2zM147 316h2v2h-2zM51 322h2v2h-2zM47 324h2v2h-2zM51 334h2v2h-2zM89 344h2v2h-2zM55 348h2v2h-2z"/><path fill="#a4d0e4" d="M143 266h2v2h-2zM101 282h2v2h-2zM123 308h2v2h-2zM89 336h2v2h-2zM109 348h2v2h-2z"/><path fill="#f8fcd0" d="M113 268h2v2h-2zM125 268h2v2h-2zM113 280h2v2h-2zM43 304h2v2h-2zM53 316h2v2h-2zM53 318h2v2h-2zM37 324h2v2h-2zM49 342h2v2h-2zM95 350h2v2h-2zM81 358h2v2h-2zM91 358h2v2h-2z"/><path fill="#f8fcc8" d="M115 268h2v2h-2zM123 268h2v2h-2zM113 270h2v2h-2zM113 278h2v2h-2zM25 296h2v2h-2zM127 296h2v2h-2zM39 302h2v2h-2zM45 306h2v2h-2zM49 310h2v2h-2zM29 322h2v2h-2zM55 334h2v2h-2zM61 334h2v2h-2zM85 342h2v2h-2zM59 350h2v2h-2zM85 358h4v2h-4z"/><path fill="#fcfcc4" d="M117 268h4v2h-4zM127 270h2v2h-2zM113 272h2v2h-2zM131 272h2v2h-2zM113 274h2v2h-2zM137 276h2v2h-2zM143 280h2v2h-2zM115 282h2v2h-2zM149 284h2v2h-2zM153 286h2v2h-2zM157 288h2v2h-2zM161 290h2v2h-2zM165 292h2v2h-2zM131 300h2v2h-2zM143 312h2v2h-2zM51 320h2v2h-2zM155 320h2v2h-2zM159 322h2v2h-2zM163 324h2v2h-2zM51 336h2v2h-2zM93 356h2v2h-2z"/><path fill="#fcfcc8" d="M121 268h2v2h-2zM113 276h2v2h-2zM129 298h2v2h-2zM35 300h2v2h-2zM47 308h2v2h-2zM19 318h2v2h-2zM151 318h2v2h-2zM49 322h2v2h-2zM57 334h4v2h-4zM49 338h2v2h-2zM49 340h2v2h-2zM81 340h2v2h-2zM63 352h2v2h-2zM95 352h2v2h-2zM95 354h2v2h-2z"/><path fill="#f0f8d8" d="M127 268h2v2h-2zM143 278h2v2h-2zM149 282h2v2h-2zM21 294h2v2h-2zM127 298h2v2h-2zM129 300h2v2h-2zM41 302h2v2h-2zM49 308h2v2h-2zM141 312h2v2h-2zM149 318h2v2h-2zM33 324h2v2h-2zM49 334h2v2h-2zM67 334h2v2h-2zM79 338h2v2h-2zM87 342h2v2h-2zM57 350h2v2h-2zM65 354h2v2h-2zM97 356h2v2h-2zM77 358h2v2h-2zM95 358h2v2h-2z"/><path fill="#fcffc0" d="M115 270h2v2h-2zM23 296h2v2h-2zM139 308h2v2h-2zM31 322h2v2h-2zM69 336h2v2h-2z"/><path fill="#fffcbc" d="M117 270h2v2h-2zM123 270h2v2h-2zM115 272h2v2h-2zM129 272h2v2h-2zM115 278h2v2h-2zM151 286h2v2h-2zM155 288h2v2h-2zM159 290h2v2h-2zM125 292h2v2h-2zM127 294h2v2h-2zM21 296h2v2h-2zM129 296h2v2h-2zM49 312h2v2h-2zM49 320h2v2h-2zM33 322h2v2h-2zM45 322h2v2h-2zM53 336h2v2h-2zM67 336h2v2h-2zM51 338h2v2h-2zM51 340h2v2h-2zM79 340h2v2h-2zM83 342h2v2h-2zM53 344h2v2h-2zM55 346h2v2h-2zM89 346h2v2h-2zM91 348h2v2h-2zM61 350h2v2h-2zM65 352h2v2h-2zM93 352h2v2h-2zM93 354h2v2h-2zM77 356h2v2h-2zM91 356h2v2h-2z"/><path fill="#fffcb8" d="M119 270h4v2h-4zM115 274h2v2h-2zM115 276h2v2h-2zM135 276h2v2h-2zM141 280h2v2h-2zM147 284h2v2h-2zM163 292h2v2h-2zM19 296h2v2h-2zM131 298h2v2h-2zM33 300h2v2h-2zM37 302h2v2h-2zM43 306h2v2h-2zM47 310h2v2h-2zM147 314h2v2h-2zM17 316h2v2h-2zM21 318h2v2h-2zM153 318h2v2h-2zM165 324h2v2h-2zM55 336h2v2h-2zM89 356h2v2h-2z"/><path fill="#ffffc0" d="M125 270h2v2h-2zM133 274h2v2h-2zM139 278h2v2h-2zM117 284h2v2h-2zM119 286h2v2h-2zM121 288h2v2h-2zM29 298h2v2h-2zM41 304h2v2h-2zM135 304h2v2h-2zM137 306h2v2h-2zM51 316h2v2h-2zM149 316h2v2h-2zM51 318h2v2h-2zM25 320h2v2h-2zM47 322h2v2h-2zM75 338h2v2h-2zM51 342h2v2h-2zM87 344h2v2h-2zM57 348h2v2h-2zM93 350h2v2h-2zM69 354h2v2h-2z"/><path fill="#f8fccc" d="M129 270h2v2h-2zM135 274h2v2h-2zM141 278h2v2h-2zM147 282h2v2h-2zM115 284h2v2h-2zM117 286h2v2h-2zM119 288h2v2h-2zM121 290h2v2h-2zM123 292h2v2h-2zM125 294h2v2h-2zM31 298h2v2h-2zM51 312h2v2h-2zM145 314h2v2h-2zM23 320h2v2h-2zM39 324h8v2h-8zM53 334h2v2h-2zM63 334h2v2h-2zM49 336h2v2h-2zM71 336h2v2h-2zM77 338h2v2h-2zM51 344h2v2h-2zM53 346h2v2h-2zM91 346h2v2h-2zM93 348h2v2h-2zM67 354h2v2h-2zM73 356h2v2h-2zM95 356h2v2h-2zM83 358h2v2h-2zM89 358h2v2h-2z"/><path fill="#f4fcd8" d="M131 270h2v2h-2zM137 274h2v2h-2zM21 320h2v2h-2zM49 324h2v2h-2zM83 340h2v2h-2zM61 352h2v2h-2zM97 352h2v2h-2z"/><path fill="#fff8b4" d="M117 272h2v2h-2zM127 272h2v2h-2zM137 278h2v2h-2zM117 282h2v2h-2zM143 282h2v2h-2zM119 284h2v2h-2zM121 286h2v2h-2zM123 288h2v2h-2zM17 296h2v2h-2zM27 298h2v2h-2zM133 300h2v2h-2zM135 302h2v2h-2zM145 312h2v2h-2zM49 314h2v2h-2zM49 316h2v2h-2zM49 318h2v2h-2zM27 320h2v2h-2zM47 320h2v2h-2zM37 322h6v2h-6zM57 336h8v2h-8zM53 338h2v2h-2zM53 342h2v2h-2zM85 344h2v2h-2zM59 348h2v2h-2zM91 350h2v2h-2zM91 354h2v2h-2zM81 356h8v2h-8z"/><path fill="#fff4b0" d="M119 272h8v2h-8zM117 274h2v2h-2zM129 274h2v2h-2zM117 276h2v2h-2zM133 276h2v2h-2zM117 278h2v2h-2zM117 280h2v2h-2zM139 280h2v2h-2zM145 284h2v2h-2zM149 286h2v2h-2zM153 288h2v2h-2zM157 290h2v2h-2zM127 292h2v2h-2zM161 292h2v2h-2zM129 294h2v2h-2zM25 298h2v2h-2zM31 300h2v2h-2zM39 304h2v2h-2zM139 306h2v2h-2zM141 308h2v2h-2zM23 318h2v2h-2zM71 338h2v2h-2zM53 340h2v2h-2zM77 340h2v2h-2zM81 342h2v2h-2zM55 344h2v2h-2zM57 346h2v2h-2zM87 346h2v2h-2zM89 348h2v2h-2zM63 350h2v2h-2zM67 352h2v2h-2zM91 352h2v2h-2zM73 354h2v2h-2z"/><path fill="#e0f4f4" d="M107 274h2v2h-2zM147 278h2v2h-2zM161 286h2v2h-2zM27 294h2v2h-2zM37 298h2v2h-2zM41 300h2v2h-2zM131 306h2v2h-2zM55 326h2v2h-2zM59 330h2v2h-2zM43 332h2v2h-2zM67 332h2v2h-2zM79 360h2v2h-2z"/><path fill="#fff0ac" d="M119 274h2v2h-2zM119 282h2v2h-2zM141 282h2v2h-2zM133 298h2v2h-2zM41 306h2v2h-2zM155 318h2v2h-2zM159 320h2v2h-2z"/><path fill="#fff0a4" d="M121 274h2v2h-2zM119 276h2v2h-2zM47 316h2v2h-2zM43 320h2v2h-2z"/><path fill="#ffeca4" d="M123 274h4v2h-4zM129 276h2v2h-2zM119 278h2v2h-2zM133 278h2v2h-2zM119 280h2v2h-2zM121 282h2v2h-2zM143 284h2v2h-2zM129 292h2v2h-2zM159 292h2v2h-2zM131 294h2v2h-2zM163 294h2v2h-2zM21 298h2v2h-2zM29 300h2v2h-2zM137 302h2v2h-2zM37 304h2v2h-2zM147 312h2v2h-2zM17 314h2v2h-2zM25 318h2v2h-2zM33 320h2v2h-2zM59 338h2v2h-2zM67 338h2v2h-2zM79 342h2v2h-2zM57 344h2v2h-2zM59 346h2v2h-2zM85 346h2v2h-2zM87 348h2v2h-2zM65 350h2v2h-2zM77 354h2v2h-2zM85 354h2v2h-2z"/><path fill="#fff0a8" d="M127 274h2v2h-2zM131 276h2v2h-2zM137 280h2v2h-2zM121 284h2v2h-2zM123 286h2v2h-2zM147 286h2v2h-2zM125 288h2v2h-2zM151 288h2v2h-2zM127 290h2v2h-2zM155 290h2v2h-2zM23 298h2v2h-2zM135 300h2v2h-2zM43 308h2v2h-2zM45 310h2v2h-2zM47 314h2v2h-2zM149 314h2v2h-2zM47 318h2v2h-2zM31 320h2v2h-2zM57 338h2v2h-2zM69 338h2v2h-2zM55 340h2v2h-2zM75 340h2v2h-2zM55 342h2v2h-2zM83 344h2v2h-2zM61 348h2v2h-2zM89 350h2v2h-2zM69 352h2v2h-2zM89 352h2v2h-2zM75 354h2v2h-2zM87 354h2v2h-2z"/><path fill="#fff8b8" d="M131 274h2v2h-2zM45 308h2v2h-2zM157 320h2v2h-2zM35 322h2v2h-2zM43 322h2v2h-2zM161 322h2v2h-2zM65 336h2v2h-2zM73 338h2v2h-2zM71 354h2v2h-2zM79 356h2v2h-2z"/><path fill="#ffe8a0" d="M121 276h2v2h-2zM127 276h2v2h-2zM131 278h2v2h-2zM125 286h2v2h-2zM145 286h2v2h-2zM17 298h2v2h-2zM45 312h2v2h-2zM153 316h2v2h-2zM37 320h4v2h-4zM63 338h2v2h-2zM57 340h2v2h-2zM73 340h2v2h-2zM71 352h2v2h-2zM87 352h2v2h-2z"/><path fill="#ffe89c" d="M123 276h4v2h-4zM121 278h2v2h-2zM129 278h2v2h-2zM121 280h2v2h-2zM133 280h2v2h-2zM123 282h2v2h-2zM137 282h2v2h-2zM141 284h2v2h-2zM127 288h2v2h-2zM129 290h2v2h-2zM153 290h2v2h-2zM157 292h2v2h-2zM135 298h2v2h-2zM27 300h2v2h-2zM39 306h2v2h-2zM45 316h2v2h-2zM27 318h2v2h-2zM157 318h2v2h-2zM161 320h2v2h-2zM57 342h2v2h-2zM81 344h2v2h-2zM63 348h2v2h-2zM87 350h2v2h-2z"/><path fill="#f0f8e0" d="M141 276h2v2h-2zM53 332h2v2h-2zM57 332h2v2h-2zM97 350h2v2h-2z"/><path fill="#ffe498" d="M123 278h6v2h-6zM123 280h2v2h-2zM125 284h2v2h-2zM127 286h2v2h-2zM143 286h2v2h-2zM147 288h2v2h-2zM133 294h2v2h-2zM161 294h2v2h-2zM137 300h2v2h-2zM41 308h2v2h-2zM151 314h2v2h-2zM43 318h2v2h-2zM59 340h2v2h-2zM71 340h2v2h-2zM59 344h2v2h-2zM61 346h2v2h-2zM83 346h2v2h-2zM85 348h2v2h-2zM73 352h2v2h-2zM85 352h2v2h-2z"/><path fill="#fff4ac" d="M135 278h2v2h-2zM165 294h2v2h-2zM131 296h2v2h-2zM35 302h2v2h-2zM47 312h2v2h-2zM19 316h2v2h-2zM151 316h2v2h-2zM29 320h2v2h-2zM45 320h2v2h-2zM163 322h2v2h-2zM55 338h2v2h-2zM89 354h2v2h-2z"/><path fill="#bce4f0" d="M105 280h2v2h-2zM161 282h2v2h-2zM25 290h2v2h-2zM29 292h2v2h-2zM67 328h2v2h-2zM31 330h2v2h-2zM33 332h2v2h-2zM109 356h2v2h-2zM77 362h2v2h-2z"/><path fill="#ffffbc" d="M115 280h2v2h-2zM145 282h2v2h-2zM123 290h2v2h-2z"/><path fill="#ffe494" d="M125 280h8v2h-8zM125 282h2v2h-2zM135 282h2v2h-2zM139 284h2v2h-2zM129 288h2v2h-2zM151 290h2v2h-2zM135 296h2v2h-2zM165 296h2v2h-2zM25 300h2v2h-2zM31 302h2v2h-2zM139 302h2v2h-2zM35 304h2v2h-2zM19 314h2v2h-2zM23 316h2v2h-2zM29 318h2v2h-2zM59 342h2v2h-2zM85 350h2v2h-2z"/><path fill="#ffeca0" d="M135 280h2v2h-2zM139 282h2v2h-2zM123 284h2v2h-2zM149 288h2v2h-2zM133 296h2v2h-2zM19 298h2v2h-2zM33 302h2v2h-2zM139 304h2v2h-2zM141 306h2v2h-2zM143 308h2v2h-2zM145 310h2v2h-2zM21 316h2v2h-2zM45 318h2v2h-2zM35 320h2v2h-2zM41 320h2v2h-2zM165 322h2v2h-2zM61 338h2v2h-2zM65 338h2v2h-2zM79 354h6v2h-6z"/><path fill="#ccecf4" d="M153 280h2v2h-2zM53 306h2v2h-2zM57 310h2v2h-2zM61 326h2v2h-2z"/><path fill="#80b8d4" d="M25 282h2v2h-2zM31 284h2v2h-2zM41 288h2v2h-2zM67 304h2v2h-2z"/><path fill="#ffe090" d="M127 282h2v2h-2zM133 282h2v2h-2zM137 284h2v2h-2zM129 286h2v2h-2zM141 286h2v2h-2zM145 288h2v2h-2zM155 292h2v2h-2zM141 304h2v2h-2zM43 312h2v2h-2zM155 316h2v2h-2zM41 318h2v2h-2zM163 320h2v2h-2zM75 342h2v2h-2zM79 344h2v2h-2zM65 348h2v2h-2zM69 350h2v2h-2z"/><path fill="#fce090" d="M129 282h4v2h-4zM129 284h2v2h-2zM149 290h2v2h-2zM133 292h2v2h-2zM137 298h2v2h-2zM23 300h2v2h-2zM143 306h2v2h-2zM145 308h2v2h-2zM147 310h2v2h-2zM43 316h2v2h-2zM31 318h2v2h-2zM159 318h2v2h-2zM63 340h6v2h-6zM77 352h6v2h-6z"/><path fill="#e8f8e4" d="M151 282h2v2h-2zM135 308h2v2h-2zM45 340h2v2h-2zM85 360h2v2h-2z"/><path fill="#ffe094" d="M127 284h2v2h-2zM131 290h2v2h-2zM149 312h2v2h-2zM61 340h2v2h-2zM69 340h2v2h-2zM75 352h2v2h-2zM83 352h2v2h-2z"/><path fill="#fcdc8c" d="M131 284h6v2h-6zM131 286h2v2h-2zM139 286h2v2h-2zM131 288h2v2h-2zM143 288h2v2h-2zM133 290h2v2h-2zM135 294h2v2h-2zM159 294h2v2h-2zM17 300h2v2h-2zM21 300h2v2h-2zM139 300h2v2h-2zM29 302h2v2h-2zM39 308h2v2h-2zM41 310h2v2h-2zM43 314h2v2h-2zM25 316h2v2h-2zM33 318h2v2h-2zM37 318h4v2h-4zM61 342h2v2h-2zM61 344h2v2h-2zM63 346h2v2h-2zM81 346h2v2h-2zM83 348h2v2h-2zM83 350h2v2h-2z"/><path fill="#d8f0f8" d="M159 284h2v2h-2zM117 292h2v2h-2zM29 294h2v2h-2zM119 294h2v2h-2zM121 296h2v2h-2zM57 312h2v2h-2zM59 318h2v2h-2zM151 322h2v2h-2zM63 330h2v2h-2zM41 338h2v2h-2zM45 344h2v2h-2zM49 348h2v2h-2z"/><path fill="#78b0d0" d="M41 286h2v2h-2zM109 306h2v2h-2zM111 308h2v2h-2zM105 340h2v2h-2zM63 364h2v2h-2zM123 364h2v2h-2z"/><path fill="#fcd888" d="M133 286h6v2h-6zM133 288h2v2h-2zM147 290h2v2h-2zM135 292h2v2h-2zM153 292h2v2h-2zM137 296h2v2h-2zM33 304h2v2h-2zM21 314h2v2h-2zM41 316h2v2h-2zM35 318h2v2h-2zM77 344h2v2h-2zM67 348h2v2h-2z"/><path fill="#fcd484" d="M135 288h6v2h-6zM135 290h2v2h-2zM145 290h2v2h-2zM151 292h2v2h-2zM137 294h2v2h-2zM157 294h2v2h-2zM139 298h2v2h-2zM27 302h2v2h-2zM41 312h2v2h-2zM27 316h2v2h-2zM157 316h2v2h-2zM161 318h2v2h-2zM165 320h2v2h-2zM65 342h2v2h-2zM71 342h2v2h-2zM63 344h2v2h-2zM65 346h2v2h-2zM79 346h2v2h-2zM81 348h2v2h-2zM73 350h2v2h-2zM79 350h2v2h-2z"/><path fill="#fcd488" d="M141 288h2v2h-2zM141 302h2v2h-2zM153 314h2v2h-2zM63 342h2v2h-2zM81 350h2v2h-2z"/><path fill="#88c0dc" d="M101 290h2v2h-2zM109 296h2v2h-2zM111 298h2v2h-2zM113 300h2v2h-2zM149 332h2v2h-2zM163 338h2v2h-2zM31 342h2v2h-2zM33 344h2v2h-2zM35 346h2v2h-2zM109 346h2v2h-2zM115 366h2v2h-2zM99 372h2v2h-2zM105 372h2v2h-2z"/><path fill="#fff8b0" d="M125 290h2v2h-2zM137 304h2v2h-2zM143 310h2v2h-2z"/><path fill="#fcd080" d="M137 290h2v2h-2zM143 290h2v2h-2zM137 292h2v2h-2zM161 296h2v2h-2zM31 304h2v2h-2zM35 306h2v2h-2zM145 306h2v2h-2zM19 312h2v2h-2zM151 312h2v2h-2zM23 314h2v2h-2zM39 316h2v2h-2zM67 342h2v2h-2zM65 344h2v2h-2zM75 344h2v2h-2zM69 348h2v2h-2zM79 348h2v2h-2zM77 350h2v2h-2z"/><path fill="#fccc80" d="M139 290h4v2h-4zM149 292h2v2h-2zM139 296h2v2h-2zM39 310h2v2h-2zM149 310h2v2h-2z"/><path fill="#ffe898" d="M131 292h2v2h-2zM43 310h2v2h-2zM45 314h2v2h-2zM77 342h2v2h-2zM67 350h2v2h-2z"/><path fill="#fccc7c" d="M139 292h2v2h-2zM139 294h2v2h-2zM155 294h2v2h-2zM165 298h2v2h-2zM141 300h2v2h-2zM25 302h2v2h-2zM37 308h2v2h-2zM147 308h2v2h-2zM17 310h2v2h-2zM29 316h2v2h-2zM73 344h2v2h-2zM67 346h2v2h-2zM77 346h2v2h-2zM71 348h2v2h-2z"/><path fill="#fcc878" d="M141 292h6v2h-6zM141 298h2v2h-2zM19 302h6v2h-6zM143 302h2v2h-2zM39 312h2v2h-2zM39 314h2v2h-2zM155 314h2v2h-2zM31 316h6v2h-6zM69 344h4v2h-4zM69 346h2v2h-2zM75 346h2v2h-2zM73 348h4v2h-4z"/><path fill="#fcc87c" d="M147 292h2v2h-2zM17 302h2v2h-2zM37 316h2v2h-2zM67 344h2v2h-2zM77 348h2v2h-2z"/><path fill="#fcc478" d="M141 294h2v2h-2zM153 294h2v2h-2zM159 296h2v2h-2zM29 304h2v2h-2zM33 306h2v2h-2zM21 312h2v2h-2zM25 314h2v2h-2zM163 318h2v2h-2zM71 346h4v2h-4z"/><path fill="#fcc074" d="M143 294h2v2h-2zM151 294h2v2h-2zM145 304h2v2h-2zM17 308h2v2h-2zM35 308h2v2h-2zM19 310h2v2h-2zM37 310h2v2h-2z"/><path fill="#fcbc70" d="M145 294h4v2h-4zM143 296h2v2h-2zM157 296h2v2h-2zM143 298h2v2h-2zM27 304h2v2h-2zM17 306h2v2h-2zM147 306h2v2h-2zM37 312h2v2h-2zM27 314h2v2h-2z"/><path fill="#fcc070" d="M149 294h2v2h-2zM163 298h2v2h-2zM143 300h2v2h-2zM17 304h2v2h-2zM153 312h2v2h-2zM37 314h2v2h-2z"/><path fill="#fcc474" d="M141 296h2v2h-2zM159 316h2v2h-2z"/><path fill="#fcb868" d="M145 296h2v2h-2zM161 298h2v2h-2zM21 304h4v2h-4zM19 308h2v2h-2zM35 310h2v2h-2zM31 314h4v2h-4zM161 316h2v2h-2z"/><path fill="#fcb464" d="M147 296h2v2h-2zM29 306h2v2h-2zM25 312h2v2h-2z"/><path fill="#fcb064" d="M149 296h4v2h-4zM165 300h2v2h-2zM147 304h2v2h-2z"/><path fill="#fcb468" d="M153 296h2v2h-2zM145 298h2v2h-2zM145 300h2v2h-2zM19 306h2v2h-2zM33 308h2v2h-2zM21 310h2v2h-2zM35 312h2v2h-2z"/><path fill="#fcb86c" d="M155 296h2v2h-2zM145 302h2v2h-2zM19 304h2v2h-2zM25 304h2v2h-2zM29 314h2v2h-2zM35 314h2v2h-2zM157 314h2v2h-2zM165 318h2v2h-2z"/><path fill="#fcd88c" d="M163 296h2v2h-2zM19 300h2v2h-2zM73 342h2v2h-2zM71 350h2v2h-2z"/><path fill="#fcac60" d="M147 298h2v2h-2zM147 302h2v2h-2zM23 306h6v2h-6zM149 306h2v2h-2zM31 308h2v2h-2zM23 310h2v2h-2zM27 312h6v2h-6zM163 316h2v2h-2z"/><path fill="#fca45c" d="M149 298h2v2h-2zM155 298h2v2h-2zM163 300h2v2h-2zM25 308h4v2h-4zM27 310h4v2h-4z"/><path fill="#fca05c" d="M151 298h4v2h-4zM149 304h2v2h-2z"/><path fill="#fca85c" d="M157 298h2v2h-2zM23 308h2v2h-2zM29 308h2v2h-2zM25 310h2v2h-2zM31 310h2v2h-2z"/><path fill="#fcb060" d="M159 298h2v2h-2zM21 306h2v2h-2zM21 308h2v2h-2zM33 310h2v2h-2zM33 312h2v2h-2zM155 312h2v2h-2z"/><path fill="#fca860" d="M147 300h2v2h-2zM151 308h2v2h-2zM153 310h2v2h-2zM159 314h2v2h-2z"/><path fill="#fc9c58" d="M149 300h2v2h-2zM161 300h2v2h-2zM149 302h2v2h-2zM157 312h2v2h-2zM165 316h2v2h-2z"/><path fill="#f89454" d="M151 300h2v2h-2zM159 300h2v2h-2zM165 302h2v2h-2zM153 308h2v2h-2zM155 310h2v2h-2z"/><path fill="#f89054" d="M153 300h6v2h-6zM151 302h2v2h-2zM151 304h2v2h-2z"/><path fill="#fcffc4" d="M133 302h2v2h-2zM141 310h2v2h-2zM51 314h2v2h-2zM75 356h2v2h-2z"/><path fill="#f88850" d="M153 302h2v2h-2zM163 302h2v2h-2zM153 306h2v2h-2z"/><path fill="#f8804c" d="M155 302h2v2h-2zM161 302h2v2h-2zM161 312h2v2h-2zM165 314h2v2h-2z"/><path fill="#f87c4c" d="M157 302h4v2h-4z"/><path fill="#fcd084" d="M143 304h2v2h-2zM41 314h2v2h-2zM69 342h2v2h-2zM75 350h2v2h-2z"/><path fill="#f8844c" d="M153 304h2v2h-2zM155 308h2v2h-2zM157 310h2v2h-2z"/><path fill="#f47848" d="M155 304h2v2h-2zM165 304h2v2h-2zM155 306h2v2h-2zM159 310h2v2h-2z"/><path fill="#f47044" d="M157 304h2v2h-2zM163 304h2v2h-2z"/><path fill="#f46c44" d="M159 304h4v2h-4zM157 306h2v2h-2zM161 310h2v2h-2zM165 312h2v2h-2z"/><path fill="#fcbc6c" d="M31 306h2v2h-2zM149 308h2v2h-2zM151 310h2v2h-2zM23 312h2v2h-2z"/><path fill="#fcdc90" d="M37 306h2v2h-2zM17 312h2v2h-2z"/><path fill="#fc9858" d="M151 306h2v2h-2zM161 314h2v2h-2z"/><path fill="#f06840" d="M159 306h2v2h-2zM165 306h2v2h-2z"/><path fill="#f06440" d="M161 306h4v2h-4zM161 308h2v2h-2zM163 310h2v2h-2z"/><path fill="#f47444" d="M157 308h2v2h-2z"/><path fill="#f46840" d="M159 308h2v2h-2z"/><path fill="#ec603c" d="M163 308h4v2h-4z"/><path fill="#f0603c" d="M165 310h2v2h-2z"/><path fill="#f88c50" d="M159 312h2v2h-2zM163 314h2v2h-2z"/><path fill="#f47448" d="M163 312h2v2h-2z"/><path fill="#c4e8f0" d="M21 324h2v2h-2zM87 338h2v2h-2z"/><path fill="#d4f0f4" d="M95 362h2v2h-2z"/></g></g>
<text x="92.3" y="245.7" font-size="7.4" text-anchor="middle" font-weight="bold" fill="#000">No risk factors</text>
<path d="M23.2,374.6 V368.6 H161.4 V374.6 M57.6,368.6 V374.6 M92.2,368.6 V374.6 M126.8,368.6 V374.6" fill="none" stroke="#222" stroke-width="0.9"/>
<text x="40.45" y="374.1" font-size="5.4" text-anchor="middle" fill="#222">Summer</text>
<text x="74.95" y="374.1" font-size="5.4" text-anchor="middle" fill="#222">Fall</text>
<text x="109.45" y="374.1" font-size="5.4" text-anchor="middle" fill="#222">Winter</text>
<text x="143.95" y="374.1" font-size="5.4" text-anchor="middle" fill="#222">Spring</text>
<text x="93.1" y="385.6" font-size="6.7" text-anchor="middle" font-weight="bold" fill="#000">Birthdate</text>
<defs><clipPath id="hc2"><rect x="175" y="248" width="138" height="120"/></clipPath><filter id="hb2" x="169" y="242" width="150" height="132" filterUnits="userSpaceOnUse"><feGaussianBlur stdDeviation="0.6"/></filter></defs>
<g clip-path="url(#hc2)"><g filter="url(#hb2)" shape-rendering="crispEdges"><path fill="#5488bc" d="M169 242h32v2h-32zM169 244h32v2h-32zM169 246h32v2h-32zM225 250h2v2h-2zM295 250h2v2h-2zM225 252h2v2h-2zM299 252h2v2h-2zM225 254h2v2h-2zM225 256h2v2h-2zM305 256h2v2h-2zM223 258h2v2h-2zM311 258h2v2h-2zM195 260h6v2h-6zM231 270h2v2h-2zM171 272h2v2h-2zM233 272h2v2h-2zM177 274h4v2h-4zM183 276h4v2h-4zM189 278h2v2h-2zM235 278h2v2h-2zM197 280h2v2h-2zM217 292h2v2h-2zM223 296h2v2h-2zM245 296h2v2h-2zM225 298h2v2h-2zM247 300h2v2h-2zM247 302h2v2h-2zM241 314h2v2h-2zM243 316h2v2h-2zM263 316h2v2h-2zM265 318h2v2h-2zM245 320h2v2h-2zM267 320h2v2h-2zM247 322h2v2h-2zM269 322h2v2h-2zM271 324h2v2h-2zM287 336h2v2h-2zM273 338h2v2h-2zM289 338h2v2h-2zM279 342h2v2h-2zM295 342h2v2h-2zM297 344h2v2h-2zM285 346h2v2h-2zM299 346h2v2h-2zM297 358h2v2h-2zM317 358h2v2h-2zM187 362h2v2h-2zM299 362h2v2h-2zM191 364h2v2h-2zM301 364h2v2h-2zM195 366h2v2h-2zM301 366h2v2h-2zM199 368h2v2h-2zM303 368h2v2h-2z"/><path fill="#5488c0" d="M201 242h4v2h-4zM201 244h4v2h-4zM201 246h4v2h-4zM291 248h2v2h-2zM301 254h2v2h-2zM187 260h8v2h-8zM201 260h4v2h-4zM193 262h12v2h-12zM197 264h8v2h-8zM203 266h2v2h-2zM169 272h2v2h-2zM235 276h2v2h-2zM235 280h2v2h-2zM243 292h2v2h-2zM219 294h2v2h-2zM247 298h2v2h-2zM227 300h2v2h-2zM231 302h2v2h-2zM261 314h2v2h-2zM243 318h2v2h-2zM249 324h2v2h-2zM269 336h2v2h-2zM275 340h2v2h-2zM293 340h2v2h-2zM281 344h2v2h-2zM181 358h2v2h-2zM185 360h2v2h-2zM297 360h2v2h-2z"/><path fill="#5888c0" d="M205 242h4v2h-4zM315 242h4v2h-4zM205 244h2v2h-2zM317 244h2v2h-2zM205 246h2v2h-2zM303 256h2v2h-2zM181 260h6v2h-6zM205 260h2v2h-2zM187 262h6v2h-6zM205 262h2v2h-2zM193 264h4v2h-4zM205 264h4v2h-4zM199 266h4v2h-4zM205 266h4v2h-4zM203 268h6v2h-6zM233 270h2v2h-2zM175 274h2v2h-2zM241 316h2v2h-2zM245 322h2v2h-2zM291 338h2v2h-2zM299 344h2v2h-2zM189 362h2v2h-2zM193 364h2v2h-2zM299 364h2v2h-2zM197 366h2v2h-2zM201 368h2v2h-2zM301 368h2v2h-2z"/><path fill="#588cc0" d="M209 242h6v2h-6zM303 242h12v2h-12zM207 244h8v2h-8zM307 244h10v2h-10zM207 246h8v2h-8zM309 246h10v2h-10zM227 248h2v2h-2zM289 248h2v2h-2zM227 250h2v2h-2zM293 250h2v2h-2zM227 252h2v2h-2zM295 252h4v2h-4zM227 254h2v2h-2zM299 254h2v2h-2zM227 256h2v2h-2zM301 256h2v2h-2zM225 258h2v2h-2zM307 258h4v2h-4zM169 260h12v2h-12zM207 260h8v2h-8zM169 262h18v2h-18zM207 262h8v2h-8zM177 264h16v2h-16zM209 264h6v2h-6zM183 266h16v2h-16zM209 266h8v2h-8zM189 268h14v2h-14zM209 268h8v2h-8zM235 272h2v2h-2zM171 274h4v2h-4zM235 274h2v2h-2zM179 276h4v2h-4zM185 278h4v2h-4zM237 278h2v2h-2zM193 280h4v2h-4zM237 280h2v2h-2zM219 282h6v2h-6zM215 292h2v2h-2zM245 292h2v2h-2zM217 294h2v2h-2zM245 294h2v2h-2zM221 296h2v2h-2zM247 296h2v2h-2zM223 298h2v2h-2zM225 300h2v2h-2zM249 300h2v2h-2zM229 302h2v2h-2zM249 302h2v2h-2zM239 314h2v2h-2zM263 314h2v2h-2zM265 316h2v2h-2zM241 318h2v2h-2zM267 318h2v2h-2zM243 320h2v2h-2zM269 320h2v2h-2zM243 322h2v2h-2zM271 322h2v2h-2zM247 324h2v2h-2zM273 324h2v2h-2zM267 336h2v2h-2zM289 336h2v2h-2zM271 338h2v2h-2zM293 338h2v2h-2zM273 340h2v2h-2zM295 340h2v2h-2zM277 342h2v2h-2zM297 342h2v2h-2zM279 344h2v2h-2zM301 344h2v2h-2zM283 346h2v2h-2zM301 346h4v2h-4zM183 358h2v2h-2zM295 358h2v2h-2zM187 360h2v2h-2zM295 360h2v2h-2zM191 362h2v2h-2zM297 362h2v2h-2zM195 364h2v2h-2zM297 364h2v2h-2zM199 366h2v2h-2zM299 366h2v2h-2zM203 368h2v2h-2zM299 368h2v2h-2z"/><path fill="#5c90c0" d="M215 242h4v2h-4zM299 242h4v2h-4zM215 244h2v2h-2zM303 244h4v2h-4zM215 246h2v2h-2zM307 246h2v2h-2zM291 250h2v2h-2zM297 254h2v2h-2zM215 260h2v2h-2zM215 262h2v2h-2zM169 264h8v2h-8zM215 264h4v2h-4zM177 266h6v2h-6zM217 266h2v2h-2zM183 268h6v2h-6zM217 268h2v2h-2zM169 274h2v2h-2zM177 276h2v2h-2zM237 276h2v2h-2zM183 278h2v2h-2zM191 280h2v2h-2zM215 282h4v2h-4zM225 282h4v2h-4zM219 284h10v2h-10zM223 286h6v2h-6zM227 288h4v2h-4zM213 292h2v2h-2zM247 294h2v2h-2zM219 296h2v2h-2zM221 298h2v2h-2zM249 298h2v2h-2zM251 302h2v2h-2zM239 316h2v2h-2zM269 318h2v2h-2zM241 320h2v2h-2zM271 320h2v2h-2zM273 322h2v2h-2zM245 324h2v2h-2zM275 324h2v2h-2zM291 336h2v2h-2zM269 338h2v2h-2zM275 342h2v2h-2zM299 342h2v2h-2zM281 346h2v2h-2zM293 358h2v2h-2zM295 362h2v2h-2zM297 366h2v2h-2zM181 370h8v2h-8zM181 372h12v2h-12z"/><path fill="#5c90c4" d="M219 242h2v2h-2zM297 242h2v2h-2zM217 244h2v2h-2zM299 244h4v2h-4zM217 246h2v2h-2zM303 246h4v2h-4zM229 248h2v2h-2zM287 248h2v2h-2zM293 252h2v2h-2zM299 256h2v2h-2zM227 258h2v2h-2zM305 258h2v2h-2zM217 260h2v2h-2zM217 262h2v2h-2zM219 264h2v2h-2zM171 266h6v2h-6zM219 266h2v2h-2zM179 268h4v2h-4zM219 268h4v2h-4zM235 270h2v2h-2zM237 274h2v2h-2zM175 276h2v2h-2zM213 282h2v2h-2zM229 282h2v2h-2zM217 284h2v2h-2zM229 284h2v2h-2zM219 286h4v2h-4zM229 286h2v2h-2zM223 288h4v2h-4zM231 288h2v2h-2zM227 290h6v2h-6zM215 294h2v2h-2zM223 300h2v2h-2zM251 300h2v2h-2zM227 302h2v2h-2zM237 314h2v2h-2zM265 314h2v2h-2zM267 316h2v2h-2zM239 318h2v2h-2zM265 336h2v2h-2zM295 338h2v2h-2zM271 340h2v2h-2zM297 340h2v2h-2zM277 344h2v2h-2zM303 344h2v2h-2zM185 358h2v2h-2zM189 360h2v2h-2zM293 360h2v2h-2zM193 362h2v2h-2zM197 364h2v2h-2zM295 364h2v2h-2zM201 366h2v2h-2zM205 368h2v2h-2zM297 368h2v2h-2zM179 370h2v2h-2zM189 370h4v2h-4zM317 370h2v2h-2zM179 372h2v2h-2zM193 372h4v2h-4zM317 372h2v2h-2z"/><path fill="#6094c4" d="M221 242h2v2h-2zM291 242h4v2h-4zM221 244h2v2h-2zM295 244h4v2h-4zM219 246h4v2h-4zM297 246h4v2h-4zM285 248h2v2h-2zM229 252h2v2h-2zM291 252h2v2h-2zM229 254h2v2h-2zM295 254h2v2h-2zM303 258h2v2h-2zM219 260h4v2h-4zM221 262h2v2h-2zM221 264h2v2h-2zM221 266h4v2h-4zM171 268h6v2h-6zM223 268h2v2h-2zM237 272h2v2h-2zM173 276h2v2h-2zM239 276h2v2h-2zM179 278h2v2h-2zM187 280h2v2h-2zM239 280h2v2h-2zM207 282h4v2h-4zM231 282h2v2h-2zM211 284h4v2h-4zM231 284h4v2h-4zM215 286h4v2h-4zM233 286h2v2h-2zM219 288h2v2h-2zM233 288h4v2h-4zM221 290h4v2h-4zM235 290h2v2h-2zM211 292h2v2h-2zM247 292h2v2h-2zM213 294h2v2h-2zM217 296h2v2h-2zM219 298h2v2h-2zM251 298h2v2h-2zM253 300h2v2h-2zM225 302h2v2h-2zM253 302h2v2h-2zM239 304h6v2h-6zM241 306h6v2h-6zM243 308h6v2h-6zM245 310h6v2h-6zM247 312h6v2h-6zM235 314h2v2h-2zM237 316h2v2h-2zM269 316h2v2h-2zM271 318h2v2h-2zM239 320h2v2h-2zM273 320h2v2h-2zM275 322h2v2h-2zM243 324h2v2h-2zM277 324h2v2h-2zM259 326h10v2h-10zM263 328h8v2h-8zM267 330h6v2h-6zM271 332h4v2h-4zM275 334h2v2h-2zM263 336h2v2h-2zM293 336h2v2h-2zM267 338h2v2h-2zM297 338h2v2h-2zM269 340h2v2h-2zM299 340h2v2h-2zM273 342h2v2h-2zM301 342h2v2h-2zM275 344h2v2h-2zM169 346h2v2h-2zM279 346h2v2h-2zM303 354h2v2h-2zM169 356h2v2h-2zM303 356h6v2h-6zM187 358h2v2h-2zM291 358h2v2h-2zM191 360h2v2h-2zM291 360h2v2h-2zM195 362h2v2h-2zM293 362h2v2h-2zM199 364h2v2h-2zM293 364h2v2h-2zM203 366h2v2h-2zM207 368h2v2h-2zM295 368h2v2h-2zM173 370h4v2h-4zM193 370h4v2h-4zM311 370h4v2h-4zM173 372h4v2h-4zM199 372h4v2h-4zM311 372h4v2h-4z"/><path fill="#6098c4" d="M223 242h2v2h-2zM289 242h2v2h-2zM293 244h2v2h-2zM295 246h2v2h-2zM287 250h2v2h-2zM293 254h2v2h-2zM297 256h2v2h-2zM229 258h2v2h-2zM317 260h2v2h-2zM223 264h2v2h-2zM169 268h2v2h-2zM225 268h2v2h-2zM171 276h2v2h-2zM233 282h2v2h-2zM209 284h2v2h-2zM213 286h2v2h-2zM235 286h2v2h-2zM217 288h2v2h-2zM237 290h2v2h-2zM249 294h2v2h-2zM221 300h2v2h-2zM245 304h2v2h-2zM247 306h2v2h-2zM249 308h2v2h-2zM243 310h2v2h-2zM251 310h2v2h-2zM245 312h2v2h-2zM253 312h2v2h-2zM267 314h2v2h-2zM237 318h2v2h-2zM239 322h2v2h-2zM269 326h2v2h-2zM261 328h2v2h-2zM271 328h2v2h-2zM265 330h2v2h-2zM273 330h2v2h-2zM269 332h2v2h-2zM275 332h2v2h-2zM273 334h2v2h-2zM277 334h4v2h-4zM305 344h2v2h-2zM307 346h2v2h-2zM295 348h2v2h-2zM297 350h4v2h-4zM299 352h4v2h-4zM299 354h4v2h-4zM305 354h2v2h-2zM171 356h2v2h-2zM301 356h2v2h-2zM309 356h2v2h-2zM293 366h2v2h-2zM171 370h2v2h-2zM197 370h2v2h-2zM309 370h2v2h-2zM171 372h2v2h-2zM309 372h2v2h-2z"/><path fill="#6498c8" d="M225 242h2v2h-2zM287 242h2v2h-2zM291 244h2v2h-2zM223 246h2v2h-2zM293 246h2v2h-2zM231 248h2v2h-2zM283 248h2v2h-2zM289 252h2v2h-2zM301 258h2v2h-2zM223 260h2v2h-2zM315 260h2v2h-2zM317 262h2v2h-2zM225 264h2v2h-2zM225 266h2v2h-2zM227 268h2v2h-2zM237 270h2v2h-2zM317 270h2v2h-2zM239 274h2v2h-2zM169 276h2v2h-2zM177 278h2v2h-2zM185 280h2v2h-2zM241 280h2v2h-2zM203 282h2v2h-2zM207 284h2v2h-2zM235 284h2v2h-2zM211 286h2v2h-2zM215 288h2v2h-2zM237 288h2v2h-2zM209 292h2v2h-2zM215 296h2v2h-2zM251 296h2v2h-2zM255 302h2v2h-2zM237 304h2v2h-2zM247 304h2v2h-2zM239 306h2v2h-2zM249 306h2v2h-2zM241 308h2v2h-2zM251 308h2v2h-2zM241 310h2v2h-2zM253 310h2v2h-2zM243 312h2v2h-2zM255 312h2v2h-2zM235 316h2v2h-2zM237 320h2v2h-2zM277 322h2v2h-2zM241 324h2v2h-2zM279 324h2v2h-2zM255 326h2v2h-2zM271 326h2v2h-2zM259 328h2v2h-2zM273 328h2v2h-2zM263 330h2v2h-2zM275 330h2v2h-2zM267 332h2v2h-2zM279 332h2v2h-2zM271 334h2v2h-2zM281 334h2v2h-2zM295 336h2v2h-2zM265 338h2v2h-2zM301 340h2v2h-2zM271 342h2v2h-2zM303 342h2v2h-2zM169 344h2v2h-2zM277 346h2v2h-2zM291 348h2v2h-2zM297 348h4v2h-4zM293 350h2v2h-2zM301 350h2v2h-2zM295 352h2v2h-2zM303 352h4v2h-4zM169 354h2v2h-2zM297 354h2v2h-2zM307 354h2v2h-2zM173 356h2v2h-2zM299 356h2v2h-2zM311 356h2v2h-2zM289 358h2v2h-2zM291 362h2v2h-2zM205 366h2v2h-2zM209 368h2v2h-2zM293 368h2v2h-2zM169 370h2v2h-2zM199 370h2v2h-2zM307 370h2v2h-2zM169 372h2v2h-2zM205 372h2v2h-2zM307 372h2v2h-2z"/><path fill="#689cc8" d="M227 242h2v2h-2zM283 242h2v2h-2zM287 244h2v2h-2zM281 248h2v2h-2zM231 258h2v2h-2zM299 258h2v2h-2zM311 260h2v2h-2zM227 264h2v2h-2zM317 264h2v2h-2zM229 268h2v2h-2zM315 270h2v2h-2zM239 272h2v2h-2zM173 278h2v2h-2zM211 288h2v2h-2zM215 290h2v2h-2zM241 290h2v2h-2zM207 292h2v2h-2zM251 294h2v2h-2zM213 296h2v2h-2zM233 304h2v2h-2zM235 306h2v2h-2zM237 308h2v2h-2zM239 310h2v2h-2zM269 314h2v2h-2zM237 322h2v2h-2zM239 324h2v2h-2zM253 326h2v2h-2zM279 330h2v2h-2zM263 332h2v2h-2zM281 332h2v2h-2zM267 334h2v2h-2zM297 336h2v2h-2zM263 338h2v2h-2zM305 342h2v2h-2zM305 350h2v2h-2zM173 354h2v2h-2zM311 354h2v2h-2zM287 358h2v2h-2zM289 362h2v2h-2zM211 368h2v2h-2zM291 368h2v2h-2zM203 370h2v2h-2zM303 370h2v2h-2zM209 372h2v2h-2zM303 372h2v2h-2z"/><path fill="#6ca0cc" d="M229 242h2v2h-2zM283 244h2v2h-2zM287 246h2v2h-2zM289 254h2v2h-2zM311 262h2v2h-2zM229 264h2v2h-2zM239 270h2v2h-2zM317 272h2v2h-2zM243 280h2v2h-2zM243 290h2v2h-2zM231 314h2v2h-2zM275 318h2v2h-2zM253 328h2v2h-2zM279 328h2v2h-2zM265 340h2v2h-2zM271 344h2v2h-2zM311 346h2v2h-2zM285 348h2v2h-2zM305 348h2v2h-2zM287 350h2v2h-2zM173 352h2v2h-2zM179 356h2v2h-2zM293 356h2v2h-2zM317 356h2v2h-2zM213 368h2v2h-2zM289 368h2v2h-2zM207 370h2v2h-2z"/><path fill="#70a8cc" d="M231 242h2v2h-2zM283 246h2v2h-2zM281 250h2v2h-2zM231 264h2v2h-2zM311 264h2v2h-2zM241 272h2v2h-2zM315 272h2v2h-2zM177 280h2v2h-2zM193 282h2v2h-2zM197 284h2v2h-2zM205 288h2v2h-2zM209 290h2v2h-2zM245 290h2v2h-2zM253 294h2v2h-2zM219 302h2v2h-2zM255 304h2v2h-2zM257 306h2v2h-2zM259 308h2v2h-2zM261 310h2v2h-2zM235 312h2v2h-2zM263 312h2v2h-2zM279 320h2v2h-2zM279 326h2v2h-2zM287 332h2v2h-2zM261 334h2v2h-2zM289 334h2v2h-2zM257 336h2v2h-2zM303 338h2v2h-2zM169 340h2v2h-2zM171 342h2v2h-2zM173 344h2v2h-2zM175 346h2v2h-2zM173 350h2v2h-2zM179 354h2v2h-2zM193 358h2v2h-2zM197 360h2v2h-2zM285 360h2v2h-2zM201 362h2v2h-2zM215 368h2v2h-2zM287 368h2v2h-2z"/><path fill="#74acd0" d="M233 242h2v2h-2zM273 242h2v2h-2zM277 244h2v2h-2zM231 246h2v2h-2zM281 246h2v2h-2zM275 248h2v2h-2zM235 250h2v2h-2zM279 250h2v2h-2zM235 252h2v2h-2zM235 254h2v2h-2zM235 256h2v2h-2zM289 256h2v2h-2zM235 258h2v2h-2zM231 260h2v2h-2zM303 260h2v2h-2zM305 262h2v2h-2zM233 264h2v2h-2zM309 264h2v2h-2zM235 266h2v2h-2zM311 266h2v2h-2zM315 268h2v2h-2zM241 270h2v2h-2zM313 272h2v2h-2zM243 274h2v2h-2zM317 274h2v2h-2zM245 278h2v2h-2zM173 280h2v2h-2zM245 280h2v2h-2zM189 282h2v2h-2zM193 284h2v2h-2zM243 284h2v2h-2zM199 286h2v2h-2zM245 286h2v2h-2zM203 288h2v2h-2zM205 290h2v2h-2zM247 290h2v2h-2zM253 292h2v2h-2zM209 296h2v2h-2zM217 302h2v2h-2zM261 302h2v2h-2zM225 304h2v2h-2zM257 304h2v2h-2zM227 306h2v2h-2zM259 306h2v2h-2zM229 308h2v2h-2zM261 308h2v2h-2zM231 310h2v2h-2zM263 310h2v2h-2zM233 312h2v2h-2zM265 312h2v2h-2zM273 314h2v2h-2zM229 316h2v2h-2zM231 320h2v2h-2zM283 322h2v2h-2zM285 324h2v2h-2zM243 326h2v2h-2zM247 328h2v2h-2zM285 328h2v2h-2zM251 330h2v2h-2zM287 330h2v2h-2zM255 332h2v2h-2zM289 332h2v2h-2zM259 334h2v2h-2zM255 336h2v2h-2zM169 338h2v2h-2zM259 338h2v2h-2zM305 338h2v2h-2zM171 340h2v2h-2zM307 340h2v2h-2zM173 342h2v2h-2zM265 342h2v2h-2zM175 344h2v2h-2zM177 346h2v2h-2zM271 346h2v2h-2zM173 348h2v2h-2zM279 348h2v2h-2zM311 348h2v2h-2zM175 350h2v2h-2zM313 350h2v2h-2zM179 352h2v2h-2zM317 352h2v2h-2zM181 354h2v2h-2zM185 356h2v2h-2zM287 356h2v2h-2zM195 358h2v2h-2zM199 360h2v2h-2zM283 360h2v2h-2zM203 362h2v2h-2zM207 364h2v2h-2zM285 364h2v2h-2zM285 366h2v2h-2zM217 368h2v2h-2zM285 368h2v2h-2zM213 370h2v2h-2zM293 370h2v2h-2zM219 372h2v2h-2zM293 372h2v2h-2z"/><path fill="#78b0d4" d="M235 242h2v2h-2zM269 242h2v2h-2zM273 244h2v2h-2zM233 246h2v2h-2zM277 246h2v2h-2zM277 250h2v2h-2zM281 252h2v2h-2zM287 256h2v2h-2zM291 258h2v2h-2zM233 260h2v2h-2zM301 260h2v2h-2zM303 262h2v2h-2zM235 264h2v2h-2zM237 266h2v2h-2zM309 266h2v2h-2zM237 268h2v2h-2zM309 270h2v2h-2zM243 272h2v2h-2zM311 272h2v2h-2zM315 274h2v2h-2zM171 280h2v2h-2zM187 282h2v2h-2zM191 284h2v2h-2zM245 284h2v2h-2zM195 286h2v2h-2zM247 288h2v2h-2zM203 290h2v2h-2zM201 292h2v2h-2zM255 294h2v2h-2zM257 296h2v2h-2zM259 298h2v2h-2zM213 300h2v2h-2zM261 300h2v2h-2zM223 304h2v2h-2zM259 304h2v2h-2zM225 306h2v2h-2zM261 306h2v2h-2zM227 308h2v2h-2zM263 308h2v2h-2zM229 310h2v2h-2zM265 310h2v2h-2zM231 312h2v2h-2zM267 312h2v2h-2zM227 314h2v2h-2zM229 318h2v2h-2zM279 318h2v2h-2zM231 322h2v2h-2zM233 324h2v2h-2zM241 326h2v2h-2zM283 326h2v2h-2zM245 328h2v2h-2zM287 328h2v2h-2zM249 330h2v2h-2zM289 330h2v2h-2zM253 332h2v2h-2zM291 332h2v2h-2zM303 336h2v2h-2zM257 338h2v2h-2zM261 340h2v2h-2zM311 342h2v2h-2zM267 344h2v2h-2zM313 344h2v2h-2zM315 346h2v2h-2zM175 348h2v2h-2zM277 348h2v2h-2zM313 348h2v2h-2zM177 350h2v2h-2zM315 350h2v2h-2zM181 352h2v2h-2zM183 354h2v2h-2zM187 356h2v2h-2zM285 356h2v2h-2zM281 358h2v2h-2zM283 362h2v2h-2zM209 364h2v2h-2zM283 364h2v2h-2zM283 366h2v2h-2zM219 368h2v2h-2zM283 368h2v2h-2zM217 370h2v2h-2zM291 370h2v2h-2zM223 372h2v2h-2zM289 372h2v2h-2z"/><path fill="#80b4d4" d="M237 242h2v2h-2zM265 242h2v2h-2zM237 252h2v2h-2zM279 252h2v2h-2zM237 254h2v2h-2zM237 258h2v2h-2zM237 264h2v2h-2zM239 268h2v2h-2zM243 270h2v2h-2zM307 270h2v2h-2zM193 286h2v2h-2zM197 288h2v2h-2zM249 288h2v2h-2zM201 290h2v2h-2zM199 292h2v2h-2zM255 292h2v2h-2zM209 298h2v2h-2zM263 306h2v2h-2zM265 308h2v2h-2zM227 310h2v2h-2zM267 310h2v2h-2zM269 312h2v2h-2zM283 320h2v2h-2zM297 334h2v2h-2zM259 340h2v2h-2zM315 344h2v2h-2zM317 346h2v2h-2zM275 348h2v2h-2zM315 348h2v2h-2zM183 352h2v2h-2zM189 356h2v2h-2zM283 356h2v2h-2zM281 362h2v2h-2zM281 366h2v2h-2zM221 368h2v2h-2zM281 368h2v2h-2zM287 370h2v2h-2z"/><path fill="#84bcd8" d="M239 242h2v2h-2zM261 242h2v2h-2zM267 244h2v2h-2zM239 264h2v2h-2zM307 268h2v2h-2zM315 276h2v2h-2zM179 282h2v2h-2zM247 282h2v2h-2zM185 284h2v2h-2zM201 294h2v2h-2zM263 304h2v2h-2zM265 306h2v2h-2zM267 308h2v2h-2zM225 310h2v2h-2zM269 310h2v2h-2zM271 312h2v2h-2zM277 314h2v2h-2zM225 316h2v2h-2zM227 320h2v2h-2zM287 322h2v2h-2zM229 324h2v2h-2zM239 328h2v2h-2zM291 328h2v2h-2zM243 330h2v2h-2zM307 336h2v2h-2zM175 340h2v2h-2zM261 342h2v2h-2zM181 346h2v2h-2zM273 348h2v2h-2zM317 348h2v2h-2zM185 352h2v2h-2zM281 356h2v2h-2zM223 368h2v2h-2zM223 370h2v2h-2z"/><path fill="#8cc0dc" d="M241 242h2v2h-2zM259 242h2v2h-2zM239 244h2v2h-2zM263 244h2v2h-2zM269 246h2v2h-2zM241 248h2v2h-2zM267 248h2v2h-2zM271 250h2v2h-2zM275 252h2v2h-2zM279 254h2v2h-2zM293 260h2v2h-2zM239 262h2v2h-2zM299 264h2v2h-2zM241 266h2v2h-2zM305 268h2v2h-2zM245 270h2v2h-2zM307 272h2v2h-2zM247 274h2v2h-2zM313 276h2v2h-2zM249 278h2v2h-2zM317 278h2v2h-2zM175 282h2v2h-2zM181 284h2v2h-2zM187 286h2v2h-2zM251 286h2v2h-2zM253 290h2v2h-2zM257 292h2v2h-2zM259 294h2v2h-2zM203 296h2v2h-2zM261 296h2v2h-2zM209 300h2v2h-2zM217 304h2v2h-2zM265 304h2v2h-2zM267 306h2v2h-2zM221 308h2v2h-2zM269 308h2v2h-2zM223 310h2v2h-2zM271 310h2v2h-2zM225 312h2v2h-2zM273 312h2v2h-2zM223 314h2v2h-2zM281 316h2v2h-2zM225 318h2v2h-2zM283 318h2v2h-2zM291 324h2v2h-2zM233 326h2v2h-2zM237 328h2v2h-2zM293 328h2v2h-2zM241 330h2v2h-2zM295 330h2v2h-2zM245 332h2v2h-2zM299 332h2v2h-2zM249 334h2v2h-2zM173 336h2v2h-2zM249 336h2v2h-2zM309 336h2v2h-2zM175 338h2v2h-2zM253 338h2v2h-2zM311 338h2v2h-2zM313 340h2v2h-2zM265 346h2v2h-2zM181 348h2v2h-2zM271 348h2v2h-2zM273 350h2v2h-2zM187 352h2v2h-2zM275 352h2v2h-2zM277 354h2v2h-2zM193 356h2v2h-2zM279 356h2v2h-2zM201 358h2v2h-2zM205 360h2v2h-2zM277 360h2v2h-2zM209 362h2v2h-2zM219 366h2v2h-2zM277 366h2v2h-2zM225 368h2v2h-2zM277 368h2v2h-2zM227 370h2v2h-2zM281 370h2v2h-2zM233 372h2v2h-2zM279 372h2v2h-2z"/><path fill="#90c4dc" d="M243 242h2v2h-2zM257 242h2v2h-2zM241 244h2v2h-2zM259 244h4v2h-4zM239 246h2v2h-2zM267 246h2v2h-2zM265 248h2v2h-2zM241 250h2v2h-2zM241 256h2v2h-2zM241 258h2v2h-2zM239 260h2v2h-2zM241 262h2v2h-2zM295 262h2v2h-2zM241 264h2v2h-2zM301 266h2v2h-2zM303 270h2v2h-2zM309 274h2v2h-2zM173 282h2v2h-2zM249 282h2v2h-2zM185 286h2v2h-2zM191 288h2v2h-2zM195 290h2v2h-2zM195 292h2v2h-2zM199 294h2v2h-2zM263 298h2v2h-2zM265 300h2v2h-2zM211 302h2v2h-2zM267 302h2v2h-2zM279 314h2v2h-2zM223 316h2v2h-2zM225 320h2v2h-2zM289 322h2v2h-2zM291 326h2v2h-2zM235 328h2v2h-2zM297 330h2v2h-2zM169 334h2v2h-2zM303 334h2v2h-2zM177 340h2v2h-2zM179 342h2v2h-2zM259 342h2v2h-2zM181 344h2v2h-2zM183 346h2v2h-2zM185 350h2v2h-2zM191 354h2v2h-2zM277 362h2v2h-2zM215 364h2v2h-2zM277 364h2v2h-2zM221 366h2v2h-2zM227 368h2v2h-2zM275 368h2v2h-2zM279 370h2v2h-2zM235 372h2v2h-2zM277 372h2v2h-2z"/><path fill="#94c8e0" d="M245 242h2v2h-2zM255 242h2v2h-2zM265 246h2v2h-2zM243 248h2v2h-2zM263 248h2v2h-2zM269 250h2v2h-2zM241 252h2v2h-2zM273 252h2v2h-2zM241 254h2v2h-2zM277 254h2v2h-2zM291 260h2v2h-2zM297 264h2v2h-2zM243 268h2v2h-2zM247 272h2v2h-2zM305 272h2v2h-2zM249 276h2v2h-2zM315 278h2v2h-2zM251 284h2v2h-2zM189 288h2v2h-2zM267 304h2v2h-2zM269 306h2v2h-2zM271 308h2v2h-2zM221 310h2v2h-2zM273 310h2v2h-2zM223 312h2v2h-2zM275 312h2v2h-2zM221 314h2v2h-2zM223 318h2v2h-2zM285 318h2v2h-2zM231 326h2v2h-2zM295 328h2v2h-2zM247 334h2v2h-2zM175 336h2v2h-2zM251 338h2v2h-2zM313 338h2v2h-2zM315 340h2v2h-2zM317 342h2v2h-2zM261 344h2v2h-2zM269 348h2v2h-2zM271 350h2v2h-2zM189 352h2v2h-2zM273 352h2v2h-2zM275 354h2v2h-2zM207 360h2v2h-2zM275 366h2v2h-2zM277 370h2v2h-2zM273 372h2v2h-2z"/><path fill="#98c8e0" d="M247 242h2v2h-2zM253 242h2v2h-2zM243 244h2v2h-2zM257 244h2v2h-2zM241 246h2v2h-2zM263 246h2v2h-2zM241 260h2v2h-2zM293 262h2v2h-2zM243 266h2v2h-2zM299 266h2v2h-2zM311 276h2v2h-2zM251 280h2v2h-2zM169 282h2v2h-2zM177 284h2v2h-2zM183 286h2v2h-2zM193 290h2v2h-2zM255 290h2v2h-2zM201 296h2v2h-2zM207 300h2v2h-2zM215 304h2v2h-2zM217 306h2v2h-2zM219 308h2v2h-2zM225 324h2v2h-2zM293 324h2v2h-2zM293 326h2v2h-2zM233 328h2v2h-2zM299 330h2v2h-2zM169 332h2v2h-2zM171 334h2v2h-2zM305 334h2v2h-2zM247 336h2v2h-2zM311 336h2v2h-2zM177 338h2v2h-2zM187 350h2v2h-2zM193 354h2v2h-2zM203 358h2v2h-2zM275 360h2v2h-2zM275 362h2v2h-2zM217 364h2v2h-2zM275 364h2v2h-2zM229 368h2v2h-2zM273 368h2v2h-2zM231 370h2v2h-2zM239 372h2v2h-2z"/><path fill="#98cce0" d="M249 242h4v2h-4zM261 248h2v2h-2zM243 258h2v2h-2zM289 260h2v2h-2zM253 286h2v2h-2zM193 292h2v2h-2zM197 294h2v2h-2zM261 294h2v2h-2zM283 316h2v2h-2zM223 320h2v2h-2zM237 330h2v2h-2zM303 332h2v2h-2zM257 342h2v2h-2zM263 346h2v2h-2zM223 366h2v2h-2zM275 370h2v2h-2zM241 372h2v2h-2zM271 372h2v2h-2z"/><path fill="#80b8d8" d="M263 242h2v2h-2zM269 244h2v2h-2zM235 246h2v2h-2zM273 246h2v2h-2zM271 248h2v2h-2zM275 250h2v2h-2zM285 256h2v2h-2zM289 258h2v2h-2zM235 260h2v2h-2zM297 260h2v2h-2zM303 264h2v2h-2zM239 266h2v2h-2zM309 268h2v2h-2zM245 274h2v2h-2zM313 274h2v2h-2zM247 278h2v2h-2zM181 282h2v2h-2zM187 284h2v2h-2zM247 284h2v2h-2zM211 300h2v2h-2zM221 304h2v2h-2zM223 306h2v2h-2zM225 308h2v2h-2zM225 314h2v2h-2zM227 318h2v2h-2zM281 318h2v2h-2zM229 322h2v2h-2zM287 326h2v2h-2zM241 328h2v2h-2zM245 330h2v2h-2zM249 332h2v2h-2zM295 332h2v2h-2zM253 334h2v2h-2zM255 338h2v2h-2zM313 342h2v2h-2zM181 350h2v2h-2zM277 350h2v2h-2zM279 352h2v2h-2zM187 354h2v2h-2zM281 354h2v2h-2zM279 358h2v2h-2zM211 364h2v2h-2zM281 364h2v2h-2zM221 370h2v2h-2zM227 372h2v2h-2zM285 372h2v2h-2z"/><path fill="#7cb4d4" d="M267 242h2v2h-2zM235 244h2v2h-2zM271 244h2v2h-2zM275 246h2v2h-2zM237 248h2v2h-2zM273 248h2v2h-2zM237 250h2v2h-2zM283 254h2v2h-2zM237 256h2v2h-2zM299 260h2v2h-2zM235 262h2v2h-2zM301 262h2v2h-2zM305 264h2v2h-2zM307 266h2v2h-2zM311 268h2v2h-2zM317 276h2v2h-2zM247 280h2v2h-2zM183 282h4v2h-4zM245 282h2v2h-2zM189 284h2v2h-2zM247 286h2v2h-2zM249 290h2v2h-2zM203 294h2v2h-2zM215 302h2v2h-2zM263 302h2v2h-2zM261 304h2v2h-2zM229 312h2v2h-2zM275 314h2v2h-2zM227 316h2v2h-2zM229 320h2v2h-2zM285 322h2v2h-2zM231 324h2v2h-2zM287 324h2v2h-2zM239 326h2v2h-2zM285 326h2v2h-2zM243 328h2v2h-2zM247 330h2v2h-2zM291 330h2v2h-2zM251 332h2v2h-2zM293 332h2v2h-2zM255 334h2v2h-2zM169 336h2v2h-2zM253 336h2v2h-2zM305 336h2v2h-2zM171 338h2v2h-2zM307 338h2v2h-2zM173 340h2v2h-2zM175 342h2v2h-2zM263 342h2v2h-2zM177 344h2v2h-2zM179 346h2v2h-2zM269 346h2v2h-2zM177 348h2v2h-2zM179 350h2v2h-2zM279 350h2v2h-2zM317 350h2v2h-2zM281 352h2v2h-2zM185 354h2v2h-2zM283 354h2v2h-2zM197 358h2v2h-2zM201 360h2v2h-2zM281 360h2v2h-2zM205 362h2v2h-2zM215 366h2v2h-2zM219 370h2v2h-2zM289 370h2v2h-2zM225 372h2v2h-2zM287 372h2v2h-2z"/><path fill="#74b0d0" d="M271 242h2v2h-2zM233 244h2v2h-2zM275 244h2v2h-2zM279 246h2v2h-2zM285 254h2v2h-2zM293 258h2v2h-2zM233 262h2v2h-2zM313 268h2v2h-2zM243 282h2v2h-2zM197 286h2v2h-2zM201 288h2v2h-2zM205 294h2v2h-2zM211 298h2v2h-2zM281 320h2v2h-2zM293 334h2v2h-2zM281 350h2v2h-2zM283 352h2v2h-2zM285 354h2v2h-2zM213 366h2v2h-2zM215 370h2v2h-2zM221 372h2v2h-2zM291 372h2v2h-2z"/><path fill="#70a8d0" d="M275 242h2v2h-2zM231 244h2v2h-2zM279 244h2v2h-2zM235 248h2v2h-2zM277 248h2v2h-2zM287 254h2v2h-2zM295 258h2v2h-2zM305 260h2v2h-2zM231 262h2v2h-2zM307 262h2v2h-2zM233 266h2v2h-2zM313 266h2v2h-2zM235 268h2v2h-2zM317 268h2v2h-2zM311 270h2v2h-2zM243 276h2v2h-2zM175 280h2v2h-2zM191 282h2v2h-2zM241 282h2v2h-2zM201 286h2v2h-2zM243 286h2v2h-2zM203 292h2v2h-2zM207 294h2v2h-2zM255 296h2v2h-2zM213 298h2v2h-2zM257 298h2v2h-2zM215 300h2v2h-2zM227 304h2v2h-2zM229 306h2v2h-2zM231 308h2v2h-2zM233 310h2v2h-2zM229 314h2v2h-2zM231 318h2v2h-2zM277 318h2v2h-2zM233 322h2v2h-2zM235 324h2v2h-2zM245 326h2v2h-2zM249 328h2v2h-2zM283 328h2v2h-2zM253 330h2v2h-2zM285 330h2v2h-2zM257 332h2v2h-2zM301 336h2v2h-2zM263 340h2v2h-2zM269 344h2v2h-2zM311 344h2v2h-2zM313 346h2v2h-2zM171 348h2v2h-2zM281 348h2v2h-2zM309 348h2v2h-2zM283 350h2v2h-2zM311 350h2v2h-2zM177 352h2v2h-2zM285 352h2v2h-2zM315 352h2v2h-2zM287 354h2v2h-2zM317 354h2v2h-2zM183 356h2v2h-2zM289 356h2v2h-2zM285 362h2v2h-2zM211 366h2v2h-2zM211 370h2v2h-2zM295 370h2v2h-2zM217 372h2v2h-2zM295 372h2v2h-2z"/><path fill="#6ca4cc" d="M277 242h4v2h-4zM229 244h2v2h-2zM281 244h2v2h-2zM229 246h2v2h-2zM285 246h2v2h-2zM279 248h2v2h-2zM233 250h2v2h-2zM233 252h2v2h-2zM285 252h2v2h-2zM233 254h2v2h-2zM233 256h2v2h-2zM291 256h2v2h-2zM233 258h2v2h-2zM297 258h2v2h-2zM229 260h2v2h-2zM307 260h2v2h-2zM229 262h2v2h-2zM309 262h2v2h-2zM313 264h2v2h-2zM231 266h2v2h-2zM315 266h4v2h-4zM233 268h2v2h-2zM313 270h2v2h-2zM241 274h2v2h-2zM169 278h2v2h-2zM243 278h2v2h-2zM179 280h2v2h-2zM195 282h2v2h-2zM239 282h2v2h-2zM199 284h2v2h-2zM241 284h2v2h-2zM203 286h2v2h-2zM241 286h2v2h-2zM207 288h2v2h-2zM243 288h2v2h-2zM211 290h2v2h-2zM205 292h2v2h-2zM251 292h2v2h-2zM211 296h2v2h-2zM255 298h2v2h-2zM217 300h2v2h-2zM257 300h2v2h-2zM259 302h2v2h-2zM229 304h2v2h-2zM253 304h2v2h-2zM231 306h2v2h-2zM255 306h2v2h-2zM233 308h2v2h-2zM257 308h2v2h-2zM235 310h2v2h-2zM259 310h2v2h-2zM237 312h2v2h-2zM261 312h2v2h-2zM271 314h2v2h-2zM231 316h2v2h-2zM273 316h2v2h-2zM233 318h2v2h-2zM233 320h2v2h-2zM235 322h2v2h-2zM281 322h2v2h-2zM237 324h2v2h-2zM283 324h2v2h-2zM247 326h4v2h-4zM277 326h2v2h-2zM251 328h2v2h-2zM281 328h2v2h-2zM255 330h2v2h-2zM283 330h2v2h-2zM259 332h2v2h-2zM285 332h2v2h-2zM263 334h2v2h-2zM287 334h2v2h-2zM299 336h2v2h-2zM261 338h2v2h-2zM305 340h2v2h-2zM267 342h2v2h-2zM307 342h2v2h-2zM309 344h2v2h-2zM273 346h2v2h-2zM169 348h2v2h-2zM283 348h2v2h-2zM307 348h2v2h-2zM171 350h2v2h-2zM285 350h2v2h-2zM309 350h2v2h-2zM175 352h2v2h-2zM287 352h4v2h-4zM311 352h4v2h-4zM177 354h2v2h-2zM289 354h4v2h-4zM315 354h2v2h-2zM181 356h2v2h-2zM291 356h2v2h-2zM285 358h2v2h-2zM287 362h2v2h-2zM205 364h2v2h-2zM287 364h2v2h-2zM209 366h2v2h-2zM287 366h2v2h-2zM209 370h2v2h-2zM297 370h4v2h-4zM213 372h4v2h-4zM297 372h4v2h-4z"/><path fill="#68a0cc" d="M281 242h2v2h-2zM227 246h2v2h-2zM233 248h2v2h-2zM283 250h2v2h-2zM293 256h2v2h-2zM227 260h2v2h-2zM309 260h2v2h-2zM315 264h2v2h-2zM231 268h2v2h-2zM171 278h2v2h-2zM197 282h2v2h-2zM201 284h2v2h-2zM239 284h2v2h-2zM205 286h2v2h-2zM209 288h2v2h-2zM241 288h2v2h-2zM213 290h2v2h-2zM209 294h2v2h-2zM253 296h2v2h-2zM215 298h2v2h-2zM221 302h2v2h-2zM231 304h2v2h-2zM233 306h2v2h-2zM235 308h2v2h-2zM237 310h2v2h-2zM277 320h2v2h-2zM257 330h2v2h-2zM281 330h2v2h-2zM261 332h2v2h-2zM283 332h2v2h-2zM265 334h2v2h-2zM259 336h2v2h-2zM301 338h2v2h-2zM169 342h2v2h-2zM171 344h2v2h-2zM173 346h2v2h-2zM169 350h2v2h-2zM307 350h2v2h-2zM175 354h2v2h-2zM313 354h2v2h-2zM191 358h2v2h-2zM195 360h2v2h-2zM287 360h2v2h-2zM199 362h2v2h-2zM289 366h2v2h-2zM301 370h2v2h-2zM211 372h2v2h-2zM301 372h2v2h-2z"/><path fill="#649cc8" d="M285 242h2v2h-2zM225 244h2v2h-2zM289 244h2v2h-2zM225 246h2v2h-2zM291 246h2v2h-2zM231 250h2v2h-2zM285 250h2v2h-2zM231 252h2v2h-2zM231 254h2v2h-2zM291 254h2v2h-2zM231 256h2v2h-2zM295 256h2v2h-2zM225 260h2v2h-2zM313 260h2v2h-2zM225 262h2v2h-2zM315 262h2v2h-2zM227 266h2v2h-2zM175 278h2v2h-2zM241 278h2v2h-2zM183 280h2v2h-2zM201 282h2v2h-2zM235 282h2v2h-2zM205 284h2v2h-2zM237 284h2v2h-2zM209 286h2v2h-2zM237 286h2v2h-2zM213 288h2v2h-2zM239 288h2v2h-2zM217 290h2v2h-2zM239 290h2v2h-2zM249 292h2v2h-2zM211 294h2v2h-2zM217 298h2v2h-2zM253 298h2v2h-2zM219 300h2v2h-2zM255 300h2v2h-2zM223 302h2v2h-2zM235 304h2v2h-2zM249 304h2v2h-2zM237 306h2v2h-2zM251 306h2v2h-2zM239 308h2v2h-2zM253 308h2v2h-2zM255 310h2v2h-2zM241 312h2v2h-2zM257 312h2v2h-2zM233 314h2v2h-2zM271 316h2v2h-2zM235 318h2v2h-2zM273 318h2v2h-2zM275 320h2v2h-2zM273 326h2v2h-2zM257 328h2v2h-2zM275 328h2v2h-2zM261 330h2v2h-2zM277 330h2v2h-2zM265 332h2v2h-2zM269 334h2v2h-2zM283 334h2v2h-2zM261 336h2v2h-2zM299 338h2v2h-2zM267 340h2v2h-2zM273 344h2v2h-2zM307 344h2v2h-2zM171 346h2v2h-2zM309 346h2v2h-2zM289 348h2v2h-2zM301 348h2v2h-2zM291 350h2v2h-2zM303 350h2v2h-2zM169 352h2v2h-2zM293 352h2v2h-2zM307 352h2v2h-2zM171 354h2v2h-2zM295 354h2v2h-2zM309 354h2v2h-2zM175 356h2v2h-2zM297 356h2v2h-2zM313 356h2v2h-2zM189 358h2v2h-2zM193 360h2v2h-2zM289 360h2v2h-2zM197 362h2v2h-2zM201 364h2v2h-2zM291 364h2v2h-2zM291 366h2v2h-2zM201 370h2v2h-2zM305 370h2v2h-2zM207 372h2v2h-2zM305 372h2v2h-2z"/><path fill="#5c94c4" d="M295 242h2v2h-2zM219 244h2v2h-2zM301 246h2v2h-2zM229 250h2v2h-2zM289 250h2v2h-2zM229 256h2v2h-2zM219 262h2v2h-2zM169 266h2v2h-2zM177 268h2v2h-2zM181 278h2v2h-2zM239 278h2v2h-2zM189 280h2v2h-2zM211 282h2v2h-2zM215 284h2v2h-2zM231 286h2v2h-2zM221 288h2v2h-2zM225 290h2v2h-2zM233 290h2v2h-2zM249 296h2v2h-2zM241 322h2v2h-2zM305 346h2v2h-2zM295 366h2v2h-2zM177 370h2v2h-2zM315 370h2v2h-2zM177 372h2v2h-2zM197 372h2v2h-2zM315 372h2v2h-2z"/><path fill="#6498c4" d="M223 244h2v2h-2zM223 262h2v2h-2zM205 282h2v2h-2zM219 290h2v2h-2zM257 326h2v2h-2zM277 332h2v2h-2zM293 348h2v2h-2zM295 350h2v2h-2zM297 352h2v2h-2zM203 372h2v2h-2z"/><path fill="#68a0c8" d="M227 244h2v2h-2zM285 244h2v2h-2zM289 246h2v2h-2zM287 252h2v2h-2zM227 262h2v2h-2zM313 262h2v2h-2zM229 266h2v2h-2zM241 276h2v2h-2zM181 280h2v2h-2zM199 282h2v2h-2zM237 282h2v2h-2zM203 284h2v2h-2zM207 286h2v2h-2zM239 286h2v2h-2zM257 302h2v2h-2zM251 304h2v2h-2zM253 306h2v2h-2zM255 308h2v2h-2zM257 310h2v2h-2zM239 312h2v2h-2zM259 312h2v2h-2zM233 316h2v2h-2zM235 320h2v2h-2zM279 322h2v2h-2zM281 324h2v2h-2zM251 326h2v2h-2zM275 326h2v2h-2zM255 328h2v2h-2zM277 328h2v2h-2zM259 330h2v2h-2zM285 334h2v2h-2zM303 340h2v2h-2zM269 342h2v2h-2zM275 346h2v2h-2zM287 348h2v2h-2zM303 348h2v2h-2zM289 350h2v2h-2zM171 352h2v2h-2zM291 352h2v2h-2zM309 352h2v2h-2zM293 354h2v2h-2zM177 356h2v2h-2zM295 356h2v2h-2zM315 356h2v2h-2zM203 364h2v2h-2zM289 364h2v2h-2zM207 366h2v2h-2zM205 370h2v2h-2z"/><path fill="#84b8d8" d="M237 244h2v2h-2zM239 248h2v2h-2zM281 254h2v2h-2zM237 262h2v2h-2zM299 262h2v2h-2zM305 266h2v2h-2zM309 272h2v2h-2zM191 286h2v2h-2zM249 286h2v2h-2zM195 288h2v2h-2zM199 290h2v2h-2zM251 290h2v2h-2zM257 294h2v2h-2zM205 296h2v2h-2zM259 296h2v2h-2zM261 298h2v2h-2zM263 300h2v2h-2zM227 312h2v2h-2zM279 316h2v2h-2zM289 324h2v2h-2zM237 326h2v2h-2zM293 330h2v2h-2zM299 334h2v2h-2zM171 336h2v2h-2zM251 336h2v2h-2zM173 338h2v2h-2zM309 338h2v2h-2zM311 340h2v2h-2zM267 346h2v2h-2zM179 348h2v2h-2zM191 356h2v2h-2zM199 358h2v2h-2zM203 360h2v2h-2zM279 360h2v2h-2zM207 362h2v2h-2zM217 366h2v2h-2zM279 368h2v2h-2zM285 370h2v2h-2zM229 372h2v2h-2zM283 372h2v2h-2z"/><path fill="#9ccce4" d="M245 244h2v2h-2zM255 244h2v2h-2zM259 246h2v2h-2zM245 248h2v2h-2zM255 248h2v2h-2zM259 248h2v2h-2zM243 252h2v2h-2zM271 252h2v2h-2zM243 254h2v2h-2zM275 254h2v2h-2zM279 256h2v2h-2zM283 258h2v2h-2zM243 262h2v2h-2zM295 264h2v2h-2zM301 270h2v2h-2zM249 274h2v2h-2zM251 278h2v2h-2zM251 282h2v2h-2zM181 286h2v2h-2zM203 298h2v2h-2zM267 300h2v2h-2zM209 302h2v2h-2zM221 312h2v2h-2zM281 314h2v2h-2zM221 316h2v2h-2zM223 322h2v2h-2zM297 328h2v2h-2zM245 334h2v2h-2zM181 342h2v2h-2zM183 344h2v2h-2zM185 346h2v2h-2zM185 348h2v2h-2zM191 352h2v2h-2zM275 356h2v2h-2zM273 358h2v2h-2zM213 362h2v2h-2zM273 366h2v2h-2zM233 370h2v2h-2zM243 372h2v2h-2zM269 372h2v2h-2z"/><path fill="#a0d0e4" d="M247 244h8v2h-8zM245 250h2v2h-2zM265 250h2v2h-2zM245 256h2v2h-2zM245 258h2v2h-2zM287 260h2v2h-2zM291 262h2v2h-2zM297 266h2v2h-2zM245 268h2v2h-2zM303 272h2v2h-2zM309 276h2v2h-2zM313 278h2v2h-2zM173 284h2v2h-2zM253 284h2v2h-2zM179 286h2v2h-2zM185 288h2v2h-2zM199 296h2v2h-2zM269 302h2v2h-2zM213 304h2v2h-2zM269 304h2v2h-2zM215 306h2v2h-2zM271 306h2v2h-2zM217 308h2v2h-2zM273 308h2v2h-2zM219 310h2v2h-2zM275 310h2v2h-2zM277 312h2v2h-2zM221 318h2v2h-2zM289 320h2v2h-2zM223 324h2v2h-2zM227 326h2v2h-2zM295 326h2v2h-2zM231 328h2v2h-2zM169 330h2v2h-2zM235 330h2v2h-2zM301 330h2v2h-2zM171 332h2v2h-2zM239 332h2v2h-2zM305 332h2v2h-2zM173 334h2v2h-2zM307 334h2v2h-2zM177 336h2v2h-2zM245 336h2v2h-2zM313 336h2v2h-2zM249 338h2v2h-2zM315 338h2v2h-2zM317 340h2v2h-2zM259 344h2v2h-2zM189 350h2v2h-2zM269 350h2v2h-2zM271 352h2v2h-2zM195 354h2v2h-2zM205 358h2v2h-2zM209 360h2v2h-2zM273 360h2v2h-2zM273 362h2v2h-2zM219 364h2v2h-2zM273 364h2v2h-2zM225 366h2v2h-2zM231 368h2v2h-2zM235 370h2v2h-2zM271 370h2v2h-2zM245 372h4v2h-4zM265 372h4v2h-4z"/><path fill="#88bcd8" d="M265 244h2v2h-2zM237 246h2v2h-2zM271 246h2v2h-2zM269 248h2v2h-2zM239 250h2v2h-2zM273 250h2v2h-2zM277 252h2v2h-2zM239 256h2v2h-2zM239 258h2v2h-2zM237 260h2v2h-2zM295 260h2v2h-2zM301 264h2v2h-2zM241 268h2v2h-2zM305 270h2v2h-2zM245 272h2v2h-2zM311 274h2v2h-2zM247 276h2v2h-2zM189 286h2v2h-2zM251 288h2v2h-2zM197 292h2v2h-2zM207 298h2v2h-2zM213 302h2v2h-2zM265 302h2v2h-2zM219 304h2v2h-2zM221 306h2v2h-2zM223 308h2v2h-2zM285 320h2v2h-2zM227 322h2v2h-2zM235 326h2v2h-2zM289 326h2v2h-2zM247 332h2v2h-2zM297 332h2v2h-2zM251 334h2v2h-2zM257 340h2v2h-2zM177 342h2v2h-2zM179 344h2v2h-2zM317 344h2v2h-2zM183 350h2v2h-2zM275 350h2v2h-2zM277 352h2v2h-2zM189 354h2v2h-2zM279 354h2v2h-2zM279 362h2v2h-2zM213 364h2v2h-2zM279 364h2v2h-2zM279 366h2v2h-2zM283 370h2v2h-2zM231 372h2v2h-2zM281 372h2v2h-2z"/><path fill="#9cd0e4" d="M243 246h2v2h-2zM257 246h2v2h-2zM257 248h2v2h-2zM243 260h2v2h-2zM317 280h2v2h-2zM255 288h2v2h-2zM191 290h2v2h-2zM253 340h2v2h-2zM267 348h2v2h-2zM273 354h2v2h-2zM271 368h2v2h-2zM273 370h2v2h-2z"/><path fill="#a4d4e4" d="M245 246h2v2h-2zM255 246h2v2h-2zM245 266h2v2h-2zM299 268h2v2h-2zM171 284h2v2h-2zM257 290h2v2h-2zM191 292h2v2h-2zM195 294h2v2h-2zM205 300h2v2h-2zM219 314h2v2h-2zM287 318h2v2h-2zM295 324h2v2h-2zM299 328h2v2h-2zM243 334h2v2h-2zM179 338h2v2h-2zM199 356h2v2h-2zM273 356h2v2h-2zM249 372h2v2h-2zM263 372h2v2h-2z"/><path fill="#a8d8e8" d="M247 246h8v2h-8zM247 250h2v2h-2zM253 250h2v2h-2zM261 250h2v2h-2zM247 256h2v2h-2zM245 260h2v2h-2zM245 262h2v2h-2zM289 262h2v2h-2zM295 266h2v2h-2zM311 278h2v2h-2zM315 280h2v2h-2zM253 282h2v2h-2zM177 286h2v2h-2zM183 288h2v2h-2zM261 292h2v2h-2zM263 294h2v2h-2zM265 296h2v2h-2zM201 298h2v2h-2zM267 298h2v2h-2zM269 300h2v2h-2zM207 302h2v2h-2zM271 304h2v2h-2zM217 310h2v2h-2zM283 314h2v2h-2zM219 316h2v2h-2zM221 322h2v2h-2zM225 326h2v2h-2zM297 326h2v2h-2zM233 330h2v2h-2zM307 332h2v2h-2zM175 334h2v2h-2zM183 342h2v2h-2zM185 344h2v2h-2zM187 346h2v2h-2zM265 348h2v2h-2zM267 350h2v2h-2zM269 352h2v2h-2zM271 358h2v2h-2zM221 364h2v2h-2zM271 364h2v2h-2zM227 366h2v2h-2zM239 370h2v2h-2z"/><path fill="#9ccce0" d="M261 246h2v2h-2zM243 250h2v2h-2zM267 250h2v2h-2zM243 256h2v2h-2zM243 264h2v2h-2zM301 268h2v2h-2zM247 270h2v2h-2zM307 274h2v2h-2zM175 284h2v2h-2zM187 288h2v2h-2zM259 292h2v2h-2zM263 296h2v2h-2zM265 298h2v2h-2zM291 322h2v2h-2zM229 326h2v2h-2zM241 332h2v2h-2zM179 340h2v2h-2zM197 356h2v2h-2z"/><path fill="#4474b4" d="M169 248h48v2h-48zM311 248h8v2h-8zM169 250h48v2h-48zM313 250h6v2h-6zM169 252h48v2h-48zM315 252h4v2h-4zM169 254h48v2h-48zM169 256h48v2h-48zM173 258h34v2h-34zM191 270h30v2h-30zM195 272h26v2h-26zM201 274h22v2h-22zM205 276h20v2h-20zM209 278h18v2h-18z"/><path fill="#4878b4" d="M217 248h2v2h-2zM307 248h2v2h-2zM217 250h2v2h-2zM309 250h4v2h-4zM217 252h2v2h-2zM311 252h4v2h-4zM217 254h2v2h-2zM315 254h2v2h-2zM217 256h2v2h-2zM317 256h2v2h-2zM169 258h2v2h-2zM209 258h4v2h-4zM185 270h6v2h-6zM221 270h2v2h-2zM191 272h4v2h-4zM221 272h4v2h-4zM195 274h4v2h-4zM223 274h4v2h-4zM201 276h4v2h-4zM225 276h2v2h-2zM205 278h4v2h-4zM227 278h2v2h-2zM215 280h10v2h-10zM229 292h4v2h-4zM233 294h2v2h-2zM177 364h2v2h-2zM315 364h2v2h-2zM177 366h8v2h-8zM315 366h4v2h-4zM179 368h8v2h-8zM317 368h2v2h-2z"/><path fill="#487cb8" d="M219 248h2v2h-2zM219 250h2v2h-2zM219 252h2v2h-2zM309 252h2v2h-2zM219 254h2v2h-2zM219 256h2v2h-2zM315 256h2v2h-2zM223 270h2v2h-2zM187 272h2v2h-2zM225 272h2v2h-2zM193 274h2v2h-2zM227 274h2v2h-2zM197 276h2v2h-2zM229 278h2v2h-2zM211 280h2v2h-2zM227 292h2v2h-2zM235 292h2v2h-2zM229 294h2v2h-2zM237 296h2v2h-2zM235 298h4v2h-4zM239 300h2v2h-2zM255 318h2v2h-2zM255 320h4v2h-4zM257 322h4v2h-4zM171 360h4v2h-4zM309 360h4v2h-4zM177 362h2v2h-2zM315 362h2v2h-2zM173 364h2v2h-2zM181 364h2v2h-2zM311 364h2v2h-2zM185 366h2v2h-2z"/><path fill="#4c7cb8" d="M221 248h2v2h-2zM301 248h4v2h-4zM221 250h2v2h-2zM303 250h4v2h-4zM307 252h2v2h-2zM309 254h4v2h-4zM221 256h2v2h-2zM313 256h2v2h-2zM215 258h4v2h-4zM177 270h6v2h-6zM225 270h2v2h-2zM183 272h4v2h-4zM227 272h2v2h-2zM189 274h4v2h-4zM229 274h2v2h-2zM195 276h2v2h-2zM229 276h2v2h-2zM199 278h4v2h-4zM207 280h4v2h-4zM227 280h2v2h-2zM225 292h2v2h-2zM237 292h2v2h-2zM227 294h2v2h-2zM237 294h2v2h-2zM229 296h4v2h-4zM239 296h2v2h-2zM233 298h2v2h-2zM239 298h4v2h-4zM235 300h4v2h-4zM241 300h2v2h-2zM249 314h6v2h-6zM249 316h10v2h-10zM251 318h4v2h-4zM257 318h4v2h-4zM253 320h2v2h-2zM259 320h4v2h-4zM253 322h4v2h-4zM261 322h4v2h-4zM259 324h6v2h-6zM169 358h4v2h-4zM305 358h6v2h-6zM169 360h2v2h-2zM175 360h4v2h-4zM305 360h4v2h-4zM313 360h4v2h-4zM169 362h4v2h-4zM179 362h4v2h-4zM307 362h4v2h-4zM317 362h2v2h-2zM171 364h2v2h-2zM183 364h2v2h-2zM309 364h2v2h-2zM171 366h4v2h-4zM187 366h2v2h-2zM309 366h4v2h-4zM173 368h4v2h-4zM189 368h4v2h-4zM311 368h4v2h-4z"/><path fill="#5080bc" d="M223 248h2v2h-2zM223 250h2v2h-2zM303 252h2v2h-2zM223 256h2v2h-2zM309 256h2v2h-2zM317 258h2v2h-2zM171 270h2v2h-2zM231 274h2v2h-2zM189 276h2v2h-2zM195 278h2v2h-2zM233 278h2v2h-2zM203 280h2v2h-2zM231 280h2v2h-2zM221 292h2v2h-2zM241 294h2v2h-2zM229 298h2v2h-2zM243 298h2v2h-2zM231 300h2v2h-2zM245 314h2v2h-2zM257 314h2v2h-2zM247 318h2v2h-2zM249 320h2v2h-2zM267 324h2v2h-2zM283 336h2v2h-2zM277 338h2v2h-2zM283 342h2v2h-2zM291 342h2v2h-2zM293 344h2v2h-2zM291 346h6v2h-6zM301 358h2v2h-2zM313 358h2v2h-2zM303 362h2v2h-2zM191 366h2v2h-2zM305 366h2v2h-2zM169 368h2v2h-2zM195 368h2v2h-2zM307 368h2v2h-2z"/><path fill="#5484bc" d="M225 248h2v2h-2zM293 248h2v2h-2zM303 254h2v2h-2zM313 258h2v2h-2zM173 272h2v2h-2zM233 274h2v2h-2zM191 278h2v2h-2zM199 280h2v2h-2zM221 294h2v2h-2zM243 294h2v2h-2zM245 298h2v2h-2zM229 300h2v2h-2zM233 302h2v2h-2zM259 314h2v2h-2zM245 318h2v2h-2zM251 324h2v2h-2zM271 336h2v2h-2zM285 336h2v2h-2zM277 340h2v2h-2zM291 340h2v2h-2zM283 344h2v2h-2zM287 346h2v2h-2zM179 358h2v2h-2zM299 358h2v2h-2zM183 360h2v2h-2zM299 360h2v2h-2zM301 362h2v2h-2zM303 366h2v2h-2z"/><path fill="#a4d0e4" d="M247 248h2v2h-2zM253 248h2v2h-2z"/><path fill="#a4d4e8" d="M249 248h4v2h-4zM263 250h2v2h-2zM245 252h2v2h-2zM269 252h2v2h-2zM245 254h2v2h-2zM273 254h2v2h-2zM277 256h2v2h-2zM281 258h2v2h-2zM293 264h2v2h-2zM249 272h2v2h-2zM305 274h2v2h-2zM251 276h2v2h-2zM255 286h2v2h-2zM189 290h2v2h-2zM221 320h2v2h-2zM255 342h2v2h-2zM261 346h2v2h-2zM187 348h2v2h-2zM271 366h2v2h-2zM233 368h2v2h-2zM269 368h2v2h-2zM237 370h2v2h-2zM251 372h2v2h-2zM261 372h2v2h-2z"/><path fill="#5084bc" d="M295 248h2v2h-2zM297 250h4v2h-4zM223 252h2v2h-2zM301 252h2v2h-2zM223 254h2v2h-2zM305 254h2v2h-2zM307 256h2v2h-2zM221 258h2v2h-2zM315 258h2v2h-2zM169 270h2v2h-2zM229 270h2v2h-2zM175 272h4v2h-4zM231 272h2v2h-2zM181 274h4v2h-4zM187 276h2v2h-2zM233 276h2v2h-2zM193 278h2v2h-2zM201 280h2v2h-2zM233 280h2v2h-2zM219 292h2v2h-2zM241 292h2v2h-2zM223 294h2v2h-2zM225 296h2v2h-2zM243 296h2v2h-2zM227 298h2v2h-2zM245 300h2v2h-2zM235 302h2v2h-2zM245 302h2v2h-2zM243 314h2v2h-2zM245 316h2v2h-2zM261 316h2v2h-2zM263 318h2v2h-2zM247 320h2v2h-2zM265 320h2v2h-2zM249 322h2v2h-2zM267 322h2v2h-2zM253 324h2v2h-2zM269 324h2v2h-2zM273 336h2v2h-2zM275 338h2v2h-2zM287 338h2v2h-2zM279 340h2v2h-2zM289 340h2v2h-2zM281 342h2v2h-2zM293 342h2v2h-2zM285 344h2v2h-2zM295 344h2v2h-2zM289 346h2v2h-2zM297 346h2v2h-2zM177 358h2v2h-2zM315 358h2v2h-2zM181 360h2v2h-2zM301 360h2v2h-2zM185 362h2v2h-2zM189 364h2v2h-2zM303 364h2v2h-2zM193 366h2v2h-2zM197 368h2v2h-2zM305 368h2v2h-2z"/><path fill="#5080b8" d="M297 248h2v2h-2zM301 250h2v2h-2zM307 254h2v2h-2zM219 258h2v2h-2zM173 270h2v2h-2zM179 272h2v2h-2zM185 274h2v2h-2zM191 276h2v2h-2zM239 292h2v2h-2zM227 296h2v2h-2zM237 302h2v2h-2zM243 302h2v2h-2zM259 316h2v2h-2zM261 318h2v2h-2zM263 320h2v2h-2zM251 322h2v2h-2zM255 324h2v2h-2zM275 336h2v2h-2zM281 336h2v2h-2zM285 338h2v2h-2zM281 340h2v2h-2zM287 340h2v2h-2zM289 342h2v2h-2zM287 344h2v2h-2zM175 358h2v2h-2zM179 360h2v2h-2zM303 360h2v2h-2zM317 360h2v2h-2zM183 362h2v2h-2zM187 364h2v2h-2zM305 364h2v2h-2z"/><path fill="#4c80b8" d="M299 248h2v2h-2zM221 252h2v2h-2zM305 252h2v2h-2zM221 254h2v2h-2zM311 256h2v2h-2zM175 270h2v2h-2zM227 270h2v2h-2zM181 272h2v2h-2zM229 272h2v2h-2zM187 274h2v2h-2zM193 276h2v2h-2zM231 276h2v2h-2zM197 278h2v2h-2zM231 278h2v2h-2zM205 280h2v2h-2zM229 280h2v2h-2zM223 292h2v2h-2zM225 294h2v2h-2zM239 294h2v2h-2zM241 296h2v2h-2zM231 298h2v2h-2zM233 300h2v2h-2zM243 300h2v2h-2zM239 302h4v2h-4zM247 314h2v2h-2zM255 314h2v2h-2zM247 316h2v2h-2zM249 318h2v2h-2zM251 320h2v2h-2zM265 322h2v2h-2zM257 324h2v2h-2zM265 324h2v2h-2zM277 336h4v2h-4zM279 338h6v2h-6zM283 340h4v2h-4zM285 342h4v2h-4zM289 344h4v2h-4zM173 358h2v2h-2zM303 358h2v2h-2zM311 358h2v2h-2zM305 362h2v2h-2zM169 364h2v2h-2zM185 364h2v2h-2zM307 364h2v2h-2zM169 366h2v2h-2zM189 366h2v2h-2zM307 366h2v2h-2zM171 368h2v2h-2zM193 368h2v2h-2zM309 368h2v2h-2z"/><path fill="#4878b8" d="M305 248h2v2h-2zM307 250h2v2h-2zM313 254h2v2h-2zM213 258h2v2h-2zM183 270h2v2h-2zM189 272h2v2h-2zM199 276h2v2h-2zM227 276h2v2h-2zM203 278h2v2h-2zM213 280h2v2h-2zM225 280h2v2h-2zM233 292h2v2h-2zM231 294h2v2h-2zM235 294h2v2h-2zM233 296h4v2h-4zM173 362h4v2h-4zM311 362h4v2h-4zM175 364h2v2h-2zM179 364h2v2h-2zM313 364h2v2h-2zM317 364h2v2h-2zM175 366h2v2h-2zM313 366h2v2h-2zM177 368h2v2h-2zM187 368h2v2h-2zM315 368h2v2h-2z"/><path fill="#4478b4" d="M309 248h2v2h-2zM317 254h2v2h-2zM171 258h2v2h-2zM207 258h2v2h-2zM199 274h2v2h-2z"/><path fill="#acd8e8" d="M249 250h4v2h-4zM255 250h6v2h-6zM247 252h6v2h-6zM267 252h2v2h-2zM247 254h4v2h-4zM247 258h2v2h-2zM285 260h2v2h-2zM247 268h2v2h-2zM249 270h2v2h-2zM301 272h2v2h-2zM307 276h2v2h-2zM175 286h2v2h-2zM257 288h2v2h-2zM187 290h2v2h-2zM271 302h2v2h-2zM211 304h2v2h-2zM213 306h2v2h-2zM273 306h2v2h-2zM215 308h2v2h-2zM275 308h2v2h-2zM277 310h2v2h-2zM279 312h2v2h-2zM291 320h2v2h-2zM221 324h2v2h-2zM169 328h2v2h-2zM301 328h2v2h-2zM237 332h2v2h-2zM241 334h2v2h-2zM179 336h2v2h-2zM315 336h2v2h-2zM247 338h2v2h-2zM317 338h2v2h-2zM251 340h2v2h-2zM257 344h2v2h-2zM191 350h2v2h-2zM197 354h2v2h-2zM201 356h2v2h-2zM211 360h2v2h-2zM271 360h2v2h-2zM271 362h2v2h-2zM269 366h2v2h-2zM235 368h2v2h-2zM267 368h2v2h-2zM241 370h2v2h-2zM267 370h2v2h-2z"/><path fill="#88c0dc" d="M239 252h2v2h-2zM239 254h2v2h-2zM283 256h2v2h-2zM297 262h2v2h-2zM249 284h2v2h-2zM197 290h2v2h-2zM301 334h2v2h-2zM315 342h2v2h-2zM225 370h2v2h-2z"/><path fill="#b4dcec" d="M253 252h2v2h-2zM263 252h2v2h-2zM269 254h2v2h-2zM249 256h2v2h-2zM283 260h2v2h-2zM247 264h2v2h-2zM293 266h2v2h-2zM297 270h2v2h-2zM309 278h2v2h-2zM313 280h2v2h-2zM257 286h2v2h-2zM179 288h2v2h-2zM185 290h2v2h-2zM217 312h2v2h-2zM287 316h2v2h-2zM219 320h2v2h-2zM219 322h2v2h-2zM295 322h2v2h-2zM299 326h2v2h-2zM171 328h2v2h-2zM303 328h2v2h-2zM235 332h2v2h-2zM309 332h2v2h-2zM183 340h2v2h-2zM253 342h2v2h-2zM259 346h2v2h-2zM263 348h2v2h-2zM265 350h2v2h-2zM267 352h2v2h-2zM199 354h2v2h-2zM269 358h2v2h-2zM223 364h2v2h-2zM269 364h2v2h-2zM267 366h2v2h-2zM263 368h2v2h-2zM245 370h4v2h-4zM261 370h2v2h-2z"/><path fill="#b8e0ec" d="M255 252h8v2h-8zM273 256h2v2h-2zM249 258h2v2h-2zM277 258h2v2h-2zM285 262h2v2h-2zM289 264h2v2h-2zM295 268h2v2h-2zM299 272h2v2h-2zM253 276h2v2h-2zM305 276h2v2h-2zM255 280h2v2h-2zM255 282h2v2h-2zM317 282h2v2h-2zM169 286h2v2h-2zM259 288h2v2h-2zM187 292h2v2h-2zM263 292h2v2h-2zM265 294h2v2h-2zM267 296h2v2h-2zM199 298h2v2h-2zM269 298h2v2h-2zM271 300h2v2h-2zM205 302h2v2h-2zM273 304h2v2h-2zM211 306h2v2h-2zM275 306h2v2h-2zM213 308h2v2h-2zM277 308h2v2h-2zM279 310h2v2h-2zM281 312h2v2h-2zM285 314h2v2h-2zM217 316h2v2h-2zM293 320h2v2h-2zM219 324h2v2h-2zM175 330h2v2h-2zM229 330h2v2h-2zM307 330h2v2h-2zM177 332h2v2h-2zM313 334h2v2h-2zM181 336h2v2h-2zM241 336h2v2h-2zM317 336h2v2h-2zM245 338h2v2h-2zM249 340h2v2h-2zM187 344h2v2h-2zM193 350h2v2h-2zM203 356h2v2h-2zM269 356h2v2h-2zM209 358h2v2h-2zM213 360h2v2h-2zM269 360h2v2h-2zM269 362h2v2h-2zM231 366h2v2h-2zM261 368h2v2h-2zM249 370h10v2h-10z"/><path fill="#b0dcec" d="M265 252h2v2h-2zM279 258h2v2h-2zM287 262h2v2h-2zM247 266h2v2h-2zM303 274h2v2h-2zM173 286h2v2h-2zM181 288h2v2h-2zM259 290h2v2h-2zM193 294h2v2h-2zM203 300h2v2h-2zM217 314h2v2h-2zM219 318h2v2h-2zM289 318h2v2h-2zM297 324h2v2h-2zM223 326h2v2h-2zM173 330h2v2h-2zM231 330h2v2h-2zM305 330h2v2h-2zM177 334h2v2h-2zM311 334h2v2h-2zM181 338h2v2h-2zM189 348h2v2h-2zM195 352h2v2h-2zM269 354h2v2h-2zM217 362h2v2h-2zM229 366h2v2h-2zM237 368h2v2h-2zM265 368h2v2h-2zM243 370h2v2h-2zM263 370h2v2h-2z"/><path fill="#70acd0" d="M283 252h2v2h-2zM195 284h2v2h-2zM245 288h2v2h-2zM207 290h2v2h-2zM259 300h2v2h-2zM275 316h2v2h-2zM281 326h2v2h-2zM291 334h2v2h-2zM309 342h2v2h-2zM283 358h2v2h-2z"/><path fill="#b4e0ec" d="M251 254h2v2h-2zM247 260h2v2h-2zM247 262h2v2h-2zM251 272h2v2h-2zM171 286h2v2h-2zM209 304h2v2h-2zM215 310h2v2h-2zM225 328h2v2h-2zM239 334h2v2h-2zM185 342h2v2h-2zM189 346h2v2h-2zM239 368h2v2h-2zM259 370h2v2h-2z"/><path fill="#bce0f0" d="M253 254h2v2h-2zM251 256h2v2h-2zM281 260h2v2h-2zM257 284h2v2h-2zM217 318h2v2h-2zM301 326h2v2h-2zM223 328h2v2h-2z"/><path fill="#c4e4f0" d="M255 254h2v2h-2zM263 254h2v2h-2zM251 258h2v2h-2zM249 262h2v2h-2zM283 262h2v2h-2zM315 282h2v2h-2zM259 286h2v2h-2zM181 290h2v2h-2zM185 292h2v2h-2zM197 298h2v2h-2zM207 304h2v2h-2zM275 304h2v2h-2zM209 306h2v2h-2zM277 306h2v2h-2zM211 308h2v2h-2zM279 308h2v2h-2zM213 310h2v2h-2zM281 310h2v2h-2zM283 312h2v2h-2zM289 316h2v2h-2zM297 322h2v2h-2zM217 324h2v2h-2zM171 326h2v2h-2zM219 326h2v2h-2zM175 328h2v2h-2zM221 328h2v2h-2zM231 332h2v2h-2zM181 334h2v2h-2zM183 336h2v2h-2zM187 342h2v2h-2zM189 344h2v2h-2zM191 346h2v2h-2zM195 350h2v2h-2zM205 356h2v2h-2zM267 356h2v2h-2zM215 360h2v2h-2zM267 360h2v2h-2zM263 366h2v2h-2zM247 368h10v2h-10z"/><path fill="#c8e8f0" d="M257 254h6v2h-6zM269 256h2v2h-2zM279 260h2v2h-2zM285 264h2v2h-2zM289 266h2v2h-2zM251 268h2v2h-2zM253 272h2v2h-2zM297 272h2v2h-2zM255 276h2v2h-2zM257 282h2v2h-2zM173 288h2v2h-2zM265 292h2v2h-2zM189 294h2v2h-2zM267 294h2v2h-2zM193 296h2v2h-2zM269 296h2v2h-2zM271 298h2v2h-2zM273 300h2v2h-2zM287 314h2v2h-2zM215 316h2v2h-2zM295 320h2v2h-2zM169 324h2v2h-2zM303 326h2v2h-2zM307 328h2v2h-2zM179 330h2v2h-2zM225 330h2v2h-2zM181 332h2v2h-2zM239 336h2v2h-2zM243 338h2v2h-2zM247 340h2v2h-2zM253 344h2v2h-2zM193 348h2v2h-2zM199 352h2v2h-2zM265 354h2v2h-2zM211 358h2v2h-2zM221 362h2v2h-2zM235 366h2v2h-2zM261 366h2v2h-2z"/><path fill="#c0e4f0" d="M265 254h2v2h-2zM271 256h2v2h-2zM275 258h2v2h-2zM249 260h2v2h-2zM249 264h2v2h-2zM287 264h2v2h-2zM249 266h2v2h-2zM293 268h2v2h-2zM295 270h2v2h-2zM253 274h2v2h-2zM301 274h2v2h-2zM255 278h2v2h-2zM307 278h2v2h-2zM311 280h2v2h-2zM175 288h2v2h-2zM261 290h2v2h-2zM201 300h2v2h-2zM215 312h2v2h-2zM215 314h2v2h-2zM291 318h2v2h-2zM217 320h2v2h-2zM217 322h2v2h-2zM305 328h2v2h-2zM177 330h2v2h-2zM227 330h2v2h-2zM309 330h2v2h-2zM179 332h2v2h-2zM237 334h2v2h-2zM315 334h2v2h-2zM185 340h2v2h-2zM251 342h2v2h-2zM257 346h2v2h-2zM261 348h2v2h-2zM263 350h2v2h-2zM265 352h2v2h-2zM201 354h2v2h-2zM267 358h2v2h-2zM267 362h2v2h-2zM233 366h2v2h-2zM243 368h4v2h-4zM257 368h2v2h-2z"/><path fill="#bce0ec" d="M267 254h2v2h-2zM291 266h2v2h-2zM249 268h2v2h-2zM251 270h2v2h-2zM177 288h2v2h-2zM183 290h2v2h-2zM191 294h2v2h-2zM195 296h2v2h-2zM273 302h2v2h-2zM169 326h2v2h-2zM221 326h2v2h-2zM173 328h2v2h-2zM233 332h2v2h-2zM311 332h2v2h-2zM179 334h2v2h-2zM183 338h2v2h-2zM255 344h2v2h-2zM191 348h2v2h-2zM197 352h2v2h-2zM267 354h2v2h-2zM219 362h2v2h-2zM225 364h2v2h-2zM267 364h2v2h-2zM265 366h2v2h-2zM241 368h2v2h-2z"/><path fill="#acdce8" d="M271 254h2v2h-2zM291 264h2v2h-2zM297 268h2v2h-2zM251 274h2v2h-2zM189 292h2v2h-2zM197 296h2v2h-2zM227 328h2v2h-2zM243 336h2v2h-2zM271 356h2v2h-2zM207 358h2v2h-2zM265 370h2v2h-2z"/><path fill="#c4e8f0" d="M253 256h2v2h-2zM303 276h2v2h-2zM203 302h2v2h-2zM313 332h2v2h-2zM227 364h2v2h-2zM265 364h2v2h-2z"/><path fill="#cce8f4" d="M255 256h2v2h-2zM267 256h2v2h-2zM273 258h2v2h-2zM251 260h2v2h-2zM251 266h2v2h-2zM291 268h2v2h-2zM253 270h2v2h-2zM293 270h2v2h-2zM299 274h2v2h-2zM305 278h2v2h-2zM313 282h2v2h-2zM317 284h2v2h-2zM171 288h2v2h-2zM179 290h2v2h-2zM263 290h2v2h-2zM183 292h2v2h-2zM275 302h2v2h-2zM213 312h2v2h-2zM215 318h2v2h-2zM217 326h2v2h-2zM177 328h2v2h-2zM219 328h2v2h-2zM311 330h2v2h-2zM317 334h2v2h-2zM259 348h2v2h-2zM261 350h2v2h-2zM263 352h2v2h-2zM203 354h2v2h-2zM265 362h2v2h-2zM237 366h2v2h-2z"/><path fill="#d4ecf4" d="M257 256h4v2h-4zM263 256h4v2h-4zM271 258h2v2h-2zM283 264h2v2h-2zM287 266h2v2h-2zM295 272h2v2h-2zM255 274h2v2h-2zM301 276h2v2h-2zM257 278h2v2h-2zM261 286h2v2h-2zM177 290h2v2h-2zM187 294h2v2h-2zM191 296h2v2h-2zM195 298h2v2h-2zM277 304h2v2h-2zM207 306h2v2h-2zM279 306h2v2h-2zM209 308h2v2h-2zM281 308h2v2h-2zM283 310h2v2h-2zM291 316h2v2h-2zM299 322h2v2h-2zM171 324h2v2h-2zM215 326h2v2h-2zM305 326h2v2h-2zM179 328h2v2h-2zM217 328h2v2h-2zM309 328h2v2h-2zM233 334h2v2h-2zM237 336h2v2h-2zM245 340h2v2h-2zM189 342h2v2h-2zM191 344h2v2h-2zM193 346h2v2h-2zM263 354h2v2h-2zM213 358h2v2h-2zM239 366h2v2h-2zM257 366h2v2h-2z"/><path fill="#d8f0f4" d="M261 256h2v2h-2zM255 258h2v2h-2zM253 260h2v2h-2zM279 262h2v2h-2zM253 268h2v2h-2zM307 280h2v2h-2zM259 282h2v2h-2zM311 282h2v2h-2zM315 284h2v2h-2zM181 292h2v2h-2zM267 292h2v2h-2zM269 294h2v2h-2zM201 302h2v2h-2zM213 316h2v2h-2zM303 324h2v2h-2zM175 326h2v2h-2zM183 330h2v2h-2zM313 330h2v2h-2zM227 332h2v2h-2zM241 338h2v2h-2zM201 352h2v2h-2zM263 362h2v2h-2zM231 364h2v2h-2zM261 364h2v2h-2zM241 366h2v2h-2zM255 366h2v2h-2z"/><path fill="#b0dce8" d="M275 256h2v2h-2zM253 278h2v2h-2zM255 284h2v2h-2zM175 332h2v2h-2z"/><path fill="#94c4e0" d="M281 256h2v2h-2zM303 268h2v2h-2zM171 282h2v2h-2zM179 284h2v2h-2zM253 288h2v2h-2zM287 320h2v2h-2zM225 322h2v2h-2zM243 332h2v2h-2zM301 332h2v2h-2zM255 340h2v2h-2zM183 348h2v2h-2zM277 356h2v2h-2zM275 358h2v2h-2zM211 362h2v2h-2zM229 370h2v2h-2zM237 372h2v2h-2zM275 372h2v2h-2z"/><path fill="#d0ecf4" d="M253 258h2v2h-2zM277 260h2v2h-2zM251 262h2v2h-2zM251 264h2v2h-2zM169 288h2v2h-2zM199 300h2v2h-2zM205 304h2v2h-2zM211 310h2v2h-2zM285 312h2v2h-2zM213 314h2v2h-2zM293 318h2v2h-2zM215 320h2v2h-2zM215 322h2v2h-2zM215 324h2v2h-2zM181 330h2v2h-2zM223 330h2v2h-2zM183 332h2v2h-2zM229 332h2v2h-2zM315 332h2v2h-2zM183 334h2v2h-2zM185 336h2v2h-2zM187 340h2v2h-2zM249 342h2v2h-2zM255 346h2v2h-2zM197 350h2v2h-2zM207 356h2v2h-2zM265 356h2v2h-2zM265 358h2v2h-2zM217 360h2v2h-2zM265 360h2v2h-2zM223 362h2v2h-2zM229 364h2v2h-2zM263 364h2v2h-2zM259 366h2v2h-2z"/><path fill="#e0f4f8" d="M257 258h2v2h-2zM267 258h2v2h-2zM255 260h2v2h-2zM273 260h2v2h-2zM281 264h2v2h-2zM285 266h2v2h-2zM255 270h2v2h-2zM259 280h2v2h-2zM261 284h2v2h-2zM317 286h2v2h-2zM173 290h2v2h-2zM185 294h2v2h-2zM197 300h2v2h-2zM277 302h2v2h-2zM203 304h2v2h-2zM209 310h2v2h-2zM287 312h2v2h-2zM295 318h2v2h-2zM213 320h2v2h-2zM177 326h2v2h-2zM213 326h2v2h-2zM311 328h2v2h-2zM185 330h2v2h-2zM219 330h2v2h-2zM231 334h2v2h-2zM187 336h2v2h-2zM189 340h2v2h-2zM253 346h2v2h-2zM199 350h2v2h-2zM233 364h2v2h-2zM259 364h2v2h-2zM247 366h6v2h-6z"/><path fill="#e0f4f4" d="M259 258h2v2h-2zM277 262h2v2h-2zM293 272h2v2h-2zM313 284h2v2h-2zM179 292h2v2h-2zM279 304h2v2h-2zM205 306h2v2h-2zM207 308h2v2h-2zM211 314h2v2h-2zM173 324h2v2h-2zM315 330h2v2h-2zM225 332h2v2h-2zM235 336h2v2h-2zM247 342h2v2h-2zM215 358h2v2h-2zM261 362h2v2h-2z"/><path fill="#e4f4f0" d="M261 258h4v2h-4zM257 260h2v2h-2zM271 260h2v2h-2zM255 262h2v2h-2zM255 264h2v2h-2zM255 266h2v2h-2zM283 266h2v2h-2zM255 268h2v2h-2zM287 268h2v2h-2zM257 274h2v2h-2zM259 278h2v2h-2zM263 286h2v2h-2zM171 290h2v2h-2zM199 302h2v2h-2zM293 316h2v2h-2zM211 324h2v2h-2zM305 324h2v2h-2zM211 326h2v2h-2zM187 330h2v2h-2zM189 338h2v2h-2zM239 338h2v2h-2zM243 340h2v2h-2zM193 344h2v2h-2zM195 346h2v2h-2zM255 348h2v2h-2zM259 352h2v2h-2zM207 354h2v2h-2zM211 356h2v2h-2zM221 360h2v2h-2zM227 362h2v2h-2zM235 364h2v2h-2zM257 364h2v2h-2z"/><path fill="#e4f4f4" d="M265 258h2v2h-2zM299 276h2v2h-2zM305 280h2v2h-2zM309 282h2v2h-2zM189 296h2v2h-2zM193 298h2v2h-2zM281 306h2v2h-2zM283 308h2v2h-2zM285 310h2v2h-2zM169 322h2v2h-2zM301 322h2v2h-2zM183 328h2v2h-2zM213 328h2v2h-2zM187 332h2v2h-2zM187 334h2v2h-2zM191 342h2v2h-2zM197 348h2v2h-2zM203 352h2v2h-2zM261 354h2v2h-2z"/><path fill="#dcf0f8" d="M269 258h2v2h-2zM253 262h2v2h-2zM253 264h2v2h-2zM253 266h2v2h-2zM291 270h2v2h-2zM297 274h2v2h-2zM257 276h2v2h-2zM303 278h2v2h-2zM263 288h2v2h-2zM265 290h2v2h-2zM273 298h2v2h-2zM275 300h2v2h-2zM211 312h2v2h-2zM213 318h2v2h-2zM297 320h2v2h-2zM213 322h2v2h-2zM213 324h2v2h-2zM307 326h2v2h-2zM181 328h2v2h-2zM215 328h2v2h-2zM185 332h2v2h-2zM251 344h2v2h-2zM259 350h2v2h-2zM205 354h2v2h-2zM209 356h2v2h-2zM263 356h2v2h-2zM263 358h2v2h-2zM219 360h2v2h-2zM263 360h2v2h-2zM225 362h2v2h-2zM243 366h4v2h-4zM253 366h2v2h-2z"/><path fill="#90c4e0" d="M285 258h2v2h-2zM205 298h2v2h-2zM239 330h2v2h-2zM195 356h2v2h-2z"/><path fill="#88bcdc" d="M287 258h2v2h-2zM303 266h2v2h-2zM249 280h2v2h-2zM177 282h2v2h-2zM183 284h2v2h-2zM193 288h2v2h-2zM263 344h2v2h-2zM277 358h2v2h-2z"/><path fill="#e8f8e8" d="M259 260h2v2h-2zM269 260h2v2h-2zM257 262h2v2h-2zM311 284h2v2h-2zM275 298h2v2h-2zM195 300h2v2h-2zM277 300h2v2h-2zM201 304h2v2h-2zM211 318h2v2h-2zM211 320h2v2h-2zM299 320h2v2h-2zM175 324h2v2h-2zM209 326h2v2h-2zM189 330h2v2h-2zM189 332h2v2h-2zM189 334h2v2h-2zM189 336h2v2h-2zM201 350h2v2h-2zM259 362h2v2h-2zM237 364h2v2h-2zM255 364h2v2h-2z"/><path fill="#ecf8e4" d="M261 260h2v2h-2zM267 260h2v2h-2zM273 262h2v2h-2zM257 264h2v2h-2zM281 266h2v2h-2zM285 268h2v2h-2zM257 270h2v2h-2zM291 272h2v2h-2zM259 276h2v2h-2zM297 276h2v2h-2zM261 280h2v2h-2zM303 280h2v2h-2zM307 282h2v2h-2zM263 284h2v2h-2zM187 296h2v2h-2zM191 298h2v2h-2zM279 302h2v2h-2zM203 306h2v2h-2zM205 308h2v2h-2zM207 310h2v2h-2zM289 312h2v2h-2zM171 322h2v2h-2zM209 324h2v2h-2zM181 326h2v2h-2zM187 328h2v2h-2zM209 328h2v2h-2zM233 336h2v2h-2zM191 340h2v2h-2zM245 342h2v2h-2zM251 346h2v2h-2zM259 354h2v2h-2zM217 358h2v2h-2zM229 362h2v2h-2zM239 364h2v2h-2zM253 364h2v2h-2z"/><path fill="#ecf8e0" d="M263 260h4v2h-4zM259 262h2v2h-2zM277 264h2v2h-2zM257 266h2v2h-2zM257 268h2v2h-2zM175 292h2v2h-2zM281 304h2v2h-2zM283 306h2v2h-2zM285 308h2v2h-2zM287 310h2v2h-2zM209 314h2v2h-2zM297 318h2v2h-2zM303 322h2v2h-2zM307 324h2v2h-2zM207 326h2v2h-2zM311 326h2v2h-2zM191 330h2v2h-2zM213 330h2v2h-2zM191 332h2v2h-2zM221 332h2v2h-2zM227 334h2v2h-2zM237 338h2v2h-2zM241 340h2v2h-2zM193 342h2v2h-2zM199 348h2v2h-2zM205 352h2v2h-2zM257 352h2v2h-2zM213 356h2v2h-2zM223 360h2v2h-2zM259 360h2v2h-2zM257 362h2v2h-2zM251 364h2v2h-2z"/><path fill="#d8f0f8" d="M275 260h2v2h-2zM289 268h2v2h-2zM255 272h2v2h-2zM175 290h2v2h-2zM271 296h2v2h-2zM289 314h2v2h-2zM221 330h2v2h-2zM317 332h2v2h-2zM185 334h2v2h-2zM187 338h2v2h-2zM257 348h2v2h-2zM261 352h2v2h-2z"/><path fill="#f0f8d8" d="M261 262h2v2h-2zM259 264h2v2h-2zM275 264h2v2h-2zM279 266h2v2h-2zM261 278h2v2h-2zM299 278h2v2h-2zM263 282h2v2h-2zM309 284h2v2h-2zM265 286h2v2h-2zM267 288h2v2h-2zM269 290h2v2h-2zM173 292h2v2h-2zM271 292h2v2h-2zM207 312h2v2h-2zM209 316h2v2h-2zM295 316h2v2h-2zM209 320h2v2h-2zM207 324h2v2h-2zM191 328h2v2h-2zM205 328h2v2h-2zM193 330h2v2h-2zM211 330h2v2h-2zM219 332h2v2h-2zM191 336h2v2h-2zM231 362h2v2h-2zM245 364h4v2h-4z"/><path fill="#f4fcd4" d="M263 262h6v2h-6zM259 266h2v2h-2zM259 268h2v2h-2zM259 270h2v2h-2zM289 272h2v2h-2zM295 276h2v2h-2zM171 292h2v2h-2zM185 296h2v2h-2zM275 296h2v2h-2zM277 298h2v2h-2zM193 300h2v2h-2zM199 304h2v2h-2zM293 314h2v2h-2zM209 318h2v2h-2zM301 320h2v2h-2zM173 322h2v2h-2zM185 326h2v2h-2zM193 328h2v2h-2zM203 328h2v2h-2zM195 330h2v2h-2zM209 330h2v2h-2zM225 334h2v2h-2zM231 336h2v2h-2zM193 340h2v2h-2zM257 354h2v2h-2zM219 358h2v2h-2zM225 360h2v2h-2zM257 360h2v2h-2zM255 362h2v2h-2z"/><path fill="#f4fcd8" d="M269 262h2v2h-2zM283 268h2v2h-2zM259 272h2v2h-2zM273 294h2v2h-2zM205 326h2v2h-2zM193 332h2v2h-2zM247 344h2v2h-2zM203 350h2v2h-2z"/><path fill="#f0f8dc" d="M271 262h2v2h-2zM287 270h2v2h-2zM259 274h2v2h-2zM293 274h2v2h-2zM313 286h2v2h-2zM317 288h2v2h-2zM181 294h2v2h-2zM197 302h2v2h-2zM209 322h2v2h-2zM177 324h2v2h-2zM183 326h2v2h-2zM189 328h2v2h-2zM207 328h2v2h-2zM315 328h2v2h-2zM191 334h2v2h-2zM191 338h2v2h-2zM195 344h2v2h-2zM197 346h2v2h-2zM253 348h2v2h-2zM255 350h2v2h-2zM259 356h2v2h-2zM259 358h2v2h-2zM243 364h2v2h-2zM249 364h2v2h-2z"/><path fill="#e8f4ec" d="M275 262h2v2h-2zM279 264h2v2h-2zM289 270h2v2h-2zM257 272h2v2h-2zM295 274h2v2h-2zM301 278h2v2h-2zM261 282h2v2h-2zM315 286h2v2h-2zM265 288h2v2h-2zM267 290h2v2h-2zM177 292h2v2h-2zM269 292h2v2h-2zM183 294h2v2h-2zM271 294h2v2h-2zM273 296h2v2h-2zM209 312h2v2h-2zM211 322h2v2h-2zM309 326h2v2h-2zM185 328h2v2h-2zM211 328h2v2h-2zM313 328h2v2h-2zM317 330h2v2h-2zM223 332h2v2h-2zM229 334h2v2h-2zM249 344h2v2h-2zM261 356h2v2h-2zM261 358h2v2h-2z"/><path fill="#ccecf4" d="M281 262h2v2h-2zM259 284h2v2h-2zM173 326h2v2h-2z"/><path fill="#a8d4e8" d="M245 264h2v2h-2zM299 270h2v2h-2zM253 280h2v2h-2zM169 284h2v2h-2zM219 312h2v2h-2zM285 316h2v2h-2zM293 322h2v2h-2zM229 328h2v2h-2zM171 330h2v2h-2zM303 330h2v2h-2zM173 332h2v2h-2zM309 334h2v2h-2zM181 340h2v2h-2zM193 352h2v2h-2zM271 354h2v2h-2zM215 362h2v2h-2zM269 370h2v2h-2zM253 372h8v2h-8z"/><path fill="#f4fcd0" d="M261 264h2v2h-2zM273 264h2v2h-2zM261 276h2v2h-2zM301 280h2v2h-2zM179 294h2v2h-2zM189 298h2v2h-2zM279 300h2v2h-2zM201 306h2v2h-2zM205 310h2v2h-2zM291 312h2v2h-2zM169 320h2v2h-2zM305 322h2v2h-2zM309 324h2v2h-2zM313 326h2v2h-2zM195 328h2v2h-2zM201 328h2v2h-2zM317 328h2v2h-2zM197 330h2v2h-2zM193 334h2v2h-2zM243 342h2v2h-2zM207 352h2v2h-2zM233 362h2v2h-2z"/><path fill="#f8fcc8" d="M263 264h2v2h-2zM271 264h2v2h-2zM261 266h2v2h-2zM261 274h2v2h-2zM303 282h2v2h-2zM195 302h2v2h-2zM285 306h2v2h-2zM201 326h2v2h-2zM197 344h2v2h-2zM253 350h2v2h-2z"/><path fill="#fcfcc4" d="M265 264h6v2h-6zM261 268h2v2h-2zM261 270h2v2h-2zM261 272h2v2h-2zM287 272h2v2h-2zM271 290h2v2h-2zM273 292h2v2h-2zM297 316h2v2h-2zM207 318h2v2h-2zM181 324h2v2h-2zM199 326h2v2h-2zM195 334h2v2h-2zM237 362h2v2h-2z"/><path fill="#78b0d0" d="M307 264h2v2h-2zM257 334h2v2h-2z"/><path fill="#ffffc0" d="M263 266h2v2h-2zM283 270h2v2h-2zM313 288h2v2h-2zM317 290h2v2h-2zM175 294h2v2h-2zM277 296h2v2h-2zM279 298h2v2h-2zM197 304h2v2h-2zM295 314h2v2h-2zM205 322h2v2h-2zM307 322h2v2h-2zM311 324h2v2h-2zM315 326h2v2h-2zM199 332h2v2h-2zM195 336h2v2h-2zM233 338h2v2h-2zM217 356h2v2h-2zM255 358h2v2h-2zM239 362h2v2h-2zM247 362h2v2h-2z"/><path fill="#fffcbc" d="M265 266h2v2h-2zM273 266h2v2h-2zM263 268h2v2h-2zM289 274h2v2h-2zM263 276h2v2h-2zM295 278h2v2h-2zM305 284h2v2h-2zM181 296h2v2h-2zM281 300h2v2h-2zM199 306h2v2h-2zM201 308h2v2h-2zM203 310h2v2h-2zM293 312h2v2h-2zM177 322h2v2h-2zM183 324h2v2h-2zM201 324h2v2h-2zM201 332h2v2h-2zM211 332h2v2h-2zM197 334h2v2h-2zM221 334h2v2h-2zM227 336h2v2h-2zM195 338h2v2h-2zM237 340h2v2h-2zM197 342h2v2h-2zM241 342h2v2h-2zM247 346h2v2h-2zM203 348h2v2h-2zM209 352h2v2h-2zM253 352h2v2h-2zM213 354h2v2h-2zM223 358h2v2h-2zM253 360h2v2h-2zM241 362h6v2h-6z"/><path fill="#fffcb8" d="M267 266h6v2h-6zM277 268h2v2h-2zM263 270h2v2h-2zM263 272h2v2h-2zM285 272h2v2h-2zM263 274h2v2h-2zM265 280h2v2h-2zM301 282h2v2h-2zM173 294h2v2h-2zM283 302h2v2h-2zM291 310h2v2h-2zM205 314h2v2h-2zM301 318h2v2h-2zM205 320h2v2h-2zM203 332h8v2h-8zM199 344h2v2h-2zM201 346h2v2h-2zM249 348h2v2h-2zM251 350h2v2h-2z"/><path fill="#fcffc4" d="M275 266h2v2h-2zM293 276h2v2h-2zM263 278h2v2h-2zM275 294h2v2h-2zM191 300h2v2h-2zM205 312h2v2h-2zM303 320h2v2h-2zM203 324h2v2h-2zM191 326h2v2h-2zM197 326h2v2h-2zM245 344h2v2h-2zM205 350h2v2h-2z"/><path fill="#f8fccc" d="M277 266h2v2h-2zM281 268h2v2h-2zM291 274h2v2h-2zM297 278h2v2h-2zM263 280h2v2h-2zM265 284h2v2h-2zM307 284h2v2h-2zM311 286h2v2h-2zM169 292h2v2h-2zM283 304h2v2h-2zM287 308h2v2h-2zM289 310h2v2h-2zM207 314h2v2h-2zM299 318h2v2h-2zM205 324h2v2h-2zM187 326h2v2h-2zM199 330h8v2h-8zM195 332h2v2h-2zM193 336h2v2h-2zM193 338h2v2h-2zM239 340h2v2h-2zM195 342h2v2h-2zM199 346h2v2h-2zM251 348h2v2h-2zM255 352h2v2h-2zM211 354h2v2h-2zM257 356h2v2h-2zM257 358h2v2h-2zM235 362h2v2h-2zM253 362h2v2h-2z"/><path fill="#fff8b4" d="M265 268h2v2h-2zM275 268h2v2h-2zM281 270h2v2h-2zM291 276h2v2h-2zM265 278h2v2h-2zM297 280h2v2h-2zM271 288h2v2h-2zM311 288h2v2h-2zM273 290h2v2h-2zM315 290h2v2h-2zM275 292h2v2h-2zM171 294h2v2h-2zM185 298h2v2h-2zM189 300h2v2h-2zM205 316h2v2h-2zM169 318h2v2h-2zM205 318h2v2h-2zM173 320h2v2h-2zM305 320h2v2h-2zM203 322h2v2h-2zM199 324h2v2h-2zM313 324h2v2h-2zM317 326h2v2h-2zM199 334h2v2h-2zM219 334h2v2h-2zM197 336h2v2h-2zM197 340h2v2h-2zM243 344h2v2h-2zM207 350h2v2h-2zM253 354h2v2h-2zM253 358h2v2h-2zM231 360h2v2h-2zM251 360h2v2h-2z"/><path fill="#fff4b0" d="M267 268h2v2h-2zM265 270h2v2h-2zM279 270h2v2h-2zM293 278h2v2h-2zM267 282h2v2h-2zM303 284h2v2h-2zM307 286h2v2h-2zM169 294h2v2h-2zM277 294h2v2h-2zM179 296h2v2h-2zM279 296h2v2h-2zM195 304h2v2h-2zM203 312h2v2h-2zM179 322h2v2h-2zM187 324h2v2h-2zM197 324h2v2h-2zM217 334h2v2h-2zM225 336h2v2h-2zM197 338h2v2h-2zM253 356h2v2h-2zM225 358h2v2h-2zM233 360h2v2h-2zM249 360h2v2h-2z"/><path fill="#fff4ac" d="M269 268h6v2h-6zM265 272h2v2h-2zM283 272h2v2h-2zM265 274h2v2h-2zM265 276h2v2h-2zM299 282h2v2h-2zM281 298h2v2h-2zM297 314h2v2h-2zM203 320h2v2h-2zM201 322h2v2h-2zM189 324h8v2h-8zM201 334h2v2h-2zM235 340h2v2h-2zM239 342h2v2h-2zM211 352h2v2h-2zM215 354h2v2h-2z"/><path fill="#fcffc0" d="M279 268h2v2h-2zM299 280h2v2h-2zM265 282h2v2h-2zM187 298h2v2h-2zM171 320h2v2h-2zM193 326h4v2h-4zM213 332h2v2h-2zM195 340h2v2h-2zM255 354h2v2h-2zM249 362h2v2h-2z"/><path fill="#fff0a8" d="M267 270h2v2h-2zM277 270h2v2h-2zM285 274h2v2h-2zM289 276h2v2h-2zM267 280h2v2h-2zM295 280h2v2h-2zM269 284h2v2h-2zM271 286h2v2h-2zM177 296h2v2h-2zM183 298h2v2h-2zM283 300h2v2h-2zM191 302h2v2h-2zM285 302h2v2h-2zM199 308h2v2h-2zM295 312h2v2h-2zM203 314h2v2h-2zM203 318h2v2h-2zM303 318h2v2h-2zM175 320h2v2h-2zM181 322h2v2h-2zM203 334h2v2h-2zM215 334h2v2h-2zM199 336h2v2h-2zM201 344h2v2h-2zM203 346h2v2h-2zM247 348h2v2h-2zM249 350h2v2h-2zM251 358h2v2h-2zM235 360h2v2h-2zM247 360h2v2h-2z"/><path fill="#ffeca4" d="M269 270h2v2h-2zM275 270h2v2h-2zM267 272h2v2h-2zM281 272h2v2h-2zM267 278h2v2h-2zM291 278h2v2h-2zM301 284h2v2h-2zM305 286h2v2h-2zM309 288h2v2h-2zM275 290h2v2h-2zM187 300h2v2h-2zM287 304h2v2h-2zM289 306h2v2h-2zM291 308h2v2h-2zM293 310h2v2h-2zM203 316h2v2h-2zM171 318h2v2h-2zM307 320h2v2h-2zM199 322h2v2h-2zM311 322h2v2h-2zM315 324h2v2h-2zM205 334h2v2h-2zM213 334h2v2h-2zM199 338h2v2h-2zM229 338h2v2h-2zM199 340h2v2h-2zM241 344h2v2h-2zM209 350h2v2h-2zM251 354h2v2h-2zM251 356h2v2h-2zM239 360h6v2h-6z"/><path fill="#ffeca0" d="M271 270h4v2h-4zM267 274h2v2h-2zM267 276h2v2h-2zM277 292h2v2h-2zM279 294h2v2h-2zM175 296h2v2h-2zM201 320h2v2h-2zM183 322h2v2h-2zM207 334h6v2h-6zM201 336h2v2h-2zM233 340h2v2h-2zM217 354h2v2h-2zM249 358h2v2h-2z"/><path fill="#f8fcd0" d="M285 270h2v2h-2zM315 288h2v2h-2zM281 302h2v2h-2zM203 308h2v2h-2zM207 322h2v2h-2zM179 324h2v2h-2zM203 326h2v2h-2zM197 328h4v2h-4zM207 330h2v2h-2zM217 332h2v2h-2zM235 338h2v2h-2zM249 346h2v2h-2zM201 348h2v2h-2zM215 356h2v2h-2z"/><path fill="#ffe89c" d="M269 272h2v2h-2zM279 272h2v2h-2zM283 274h2v2h-2zM293 280h2v2h-2zM269 282h2v2h-2zM271 284h2v2h-2zM173 296h2v2h-2zM281 296h2v2h-2zM181 298h2v2h-2zM283 298h2v2h-2zM193 304h2v2h-2zM301 316h2v2h-2zM177 320h2v2h-2zM197 322h2v2h-2zM221 336h2v2h-2zM201 342h2v2h-2zM243 346h2v2h-2zM207 348h2v2h-2zM249 352h2v2h-2zM229 358h2v2h-2z"/><path fill="#ffe494" d="M271 272h6v2h-6zM269 274h2v2h-2zM281 274h2v2h-2zM269 276h2v2h-2zM285 276h2v2h-2zM269 278h2v2h-2zM277 290h2v2h-2zM169 296h4v2h-4zM297 312h2v2h-2zM201 316h2v2h-2zM173 318h2v2h-2zM305 318h2v2h-2zM199 320h2v2h-2zM309 320h2v2h-2zM187 322h2v2h-2zM193 322h2v2h-2zM313 322h2v2h-2zM219 336h2v2h-2zM231 358h2v2h-2z"/><path fill="#ffe498" d="M277 272h2v2h-2zM289 278h2v2h-2zM269 280h2v2h-2zM299 284h2v2h-2zM273 286h2v2h-2zM303 286h2v2h-2zM275 288h2v2h-2zM307 288h2v2h-2zM311 290h2v2h-2zM315 292h2v2h-2zM185 300h2v2h-2zM285 300h2v2h-2zM189 302h2v2h-2zM195 306h2v2h-2zM197 308h2v2h-2zM199 310h2v2h-2zM201 314h2v2h-2zM299 314h2v2h-2zM169 316h2v2h-2zM201 318h2v2h-2zM195 322h2v2h-2zM317 324h2v2h-2zM203 336h2v2h-2zM201 338h2v2h-2zM201 340h2v2h-2zM203 344h2v2h-2zM205 346h2v2h-2zM245 348h2v2h-2zM247 350h2v2h-2zM249 354h2v2h-2zM249 356h2v2h-2zM247 358h2v2h-2z"/><path fill="#fcdc90" d="M271 274h2v2h-2zM225 338h2v2h-2z"/><path fill="#fcd888" d="M273 274h6v2h-6zM271 276h2v2h-2zM271 278h2v2h-2zM271 280h2v2h-2zM293 282h2v2h-2zM297 284h2v2h-2zM277 288h2v2h-2zM313 292h2v2h-2zM317 294h2v2h-2zM177 298h2v2h-2zM285 298h2v2h-2zM183 300h2v2h-2zM187 302h2v2h-2zM171 316h2v2h-2zM303 316h2v2h-2zM175 318h2v2h-2zM181 320h2v2h-2zM209 336h6v2h-6zM203 340h2v2h-2zM241 346h2v2h-2zM209 348h2v2h-2zM247 354h2v2h-2zM237 358h6v2h-6z"/><path fill="#fcdc8c" d="M279 274h2v2h-2zM283 276h2v2h-2zM287 278h2v2h-2zM273 284h2v2h-2zM275 286h2v2h-2zM301 286h2v2h-2zM305 288h2v2h-2zM309 290h2v2h-2zM283 296h2v2h-2zM191 304h2v2h-2zM199 312h2v2h-2zM199 318h2v2h-2zM197 320h2v2h-2zM207 336h2v2h-2zM215 336h2v2h-2zM203 338h2v2h-2zM203 342h2v2h-2zM247 352h2v2h-2zM247 356h2v2h-2zM235 358h2v2h-2zM243 358h2v2h-2z"/><path fill="#fff8b0" d="M287 274h2v2h-2zM299 316h2v2h-2zM309 322h2v2h-2zM231 338h2v2h-2zM219 356h2v2h-2z"/><path fill="#7cb0d4" d="M245 276h2v2h-2zM169 280h2v2h-2zM199 288h2v2h-2zM207 296h2v2h-2zM277 316h2v2h-2zM295 334h2v2h-2zM309 340h2v2h-2z"/><path fill="#fcd080" d="M273 276h2v2h-2zM279 276h2v2h-2zM273 280h2v2h-2zM275 284h2v2h-2zM299 286h2v2h-2zM303 288h2v2h-2zM281 292h2v2h-2zM175 298h2v2h-2zM183 320h2v2h-2zM233 342h2v2h-2zM237 344h2v2h-2zM213 350h2v2h-2zM217 352h2v2h-2z"/><path fill="#fccc7c" d="M275 276h4v2h-4zM273 278h2v2h-2zM283 278h2v2h-2zM287 280h2v2h-2zM291 282h2v2h-2zM277 286h2v2h-2zM311 292h2v2h-2zM173 298h2v2h-2zM181 300h2v2h-2zM189 304h2v2h-2zM291 304h2v2h-2zM299 312h2v2h-2zM177 318h2v2h-2zM185 320h2v2h-2zM193 320h2v2h-2zM221 338h2v2h-2zM205 340h2v2h-2zM205 342h2v2h-2zM245 352h2v2h-2zM245 354h2v2h-2zM229 356h2v2h-2zM243 356h2v2h-2z"/><path fill="#fcd484" d="M281 276h2v2h-2zM285 278h2v2h-2zM289 280h2v2h-2zM273 282h2v2h-2zM279 290h2v2h-2zM287 300h2v2h-2zM193 306h2v2h-2zM195 308h2v2h-2zM197 310h2v2h-2zM199 314h2v2h-2zM301 314h2v2h-2zM199 316h2v2h-2zM307 318h2v2h-2zM195 320h2v2h-2zM311 320h2v2h-2zM315 322h2v2h-2zM205 338h2v2h-2zM223 338h2v2h-2zM229 340h2v2h-2zM207 346h2v2h-2zM243 348h2v2h-2zM221 354h2v2h-2zM227 356h2v2h-2zM245 356h2v2h-2z"/><path fill="#ffe8a0" d="M287 276h2v2h-2zM297 282h2v2h-2zM201 312h2v2h-2zM237 342h2v2h-2zM213 352h2v2h-2z"/><path fill="#fcc878" d="M275 278h2v2h-2zM281 278h2v2h-2zM275 280h2v2h-2zM315 294h2v2h-2zM169 298h4v2h-4zM185 302h2v2h-2zM173 316h2v2h-2zM187 320h6v2h-6zM227 340h2v2h-2zM239 346h2v2h-2zM211 348h2v2h-2zM223 354h2v2h-2z"/><path fill="#fcc478" d="M277 278h4v2h-4zM277 284h2v2h-2zM281 290h2v2h-2zM197 316h2v2h-2zM305 316h2v2h-2zM317 322h2v2h-2zM207 344h2v2h-2zM243 350h2v2h-2z"/><path fill="#cce8f0" d="M257 280h2v2h-2zM309 280h2v2h-2zM261 288h2v2h-2zM301 324h2v2h-2zM235 334h2v2h-2zM185 338h2v2h-2z"/><path fill="#fcc074" d="M277 280h2v2h-2zM277 282h2v2h-2zM279 286h2v2h-2zM305 290h2v2h-2zM283 292h2v2h-2zM179 300h2v2h-2zM195 310h2v2h-2zM179 318h2v2h-2zM195 318h2v2h-2zM231 342h2v2h-2zM235 344h2v2h-2zM215 350h2v2h-2zM219 352h2v2h-2z"/><path fill="#fcbc70" d="M279 280h4v2h-4zM287 282h2v2h-2zM279 284h2v2h-2zM281 288h2v2h-2zM309 292h2v2h-2zM285 294h2v2h-2zM213 338h4v2h-4zM207 342h2v2h-2zM243 352h2v2h-2zM235 356h4v2h-4z"/><path fill="#fcc070" d="M283 280h2v2h-2zM289 300h2v2h-2zM193 308h2v2h-2zM211 338h2v2h-2zM217 338h2v2h-2zM207 340h2v2h-2zM243 354h2v2h-2zM233 356h2v2h-2zM239 356h2v2h-2z"/><path fill="#fcc474" d="M285 280h2v2h-2zM289 282h2v2h-2zM293 284h2v2h-2zM297 286h2v2h-2zM301 288h2v2h-2zM287 298h2v2h-2zM191 306h2v2h-2zM197 314h2v2h-2zM309 318h2v2h-2zM313 320h2v2h-2zM209 338h2v2h-2zM219 338h2v2h-2zM209 346h2v2h-2zM241 348h2v2h-2zM231 356h2v2h-2zM241 356h2v2h-2z"/><path fill="#fce090" d="M291 280h2v2h-2zM281 294h2v2h-2zM291 306h2v2h-2zM293 308h2v2h-2zM217 336h2v2h-2zM235 342h2v2h-2zM215 352h2v2h-2zM225 356h2v2h-2zM233 358h2v2h-2z"/><path fill="#ffe090" d="M271 282h2v2h-2zM279 292h2v2h-2zM179 298h2v2h-2zM289 304h2v2h-2zM295 310h2v2h-2zM179 320h2v2h-2zM205 336h2v2h-2zM231 340h2v2h-2zM239 344h2v2h-2zM211 350h2v2h-2zM219 354h2v2h-2zM245 358h2v2h-2z"/><path fill="#fcc87c" d="M275 282h2v2h-2zM279 288h2v2h-2zM285 296h2v2h-2zM293 306h2v2h-2zM295 308h2v2h-2zM297 310h2v2h-2zM197 312h2v2h-2zM169 314h2v2h-2zM207 338h2v2h-2z"/><path fill="#fcbc6c" d="M279 282h2v2h-2zM291 284h2v2h-2zM291 302h2v2h-2zM303 314h2v2h-2zM225 340h2v2h-2zM225 354h2v2h-2z"/><path fill="#fcb868" d="M281 282h4v2h-4zM281 286h2v2h-2zM287 296h2v2h-2zM293 304h2v2h-2zM195 312h2v2h-2zM195 316h2v2h-2zM237 346h2v2h-2zM213 348h2v2h-2z"/><path fill="#fcb86c" d="M285 282h2v2h-2zM295 286h2v2h-2zM299 288h2v2h-2zM283 290h2v2h-2zM313 294h2v2h-2zM177 300h2v2h-2zM183 302h2v2h-2zM187 304h2v2h-2zM171 314h2v2h-2zM175 316h2v2h-2zM181 318h2v2h-2zM193 318h2v2h-2z"/><path fill="#ffe094" d="M295 282h2v2h-2zM287 302h2v2h-2zM189 322h4v2h-4z"/><path fill="#f4f8d8" d="M305 282h2v2h-2z"/><path fill="#fff8b8" d="M267 284h2v2h-2zM269 286h2v2h-2zM193 302h2v2h-2zM285 304h2v2h-2zM287 306h2v2h-2zM289 308h2v2h-2zM185 324h2v2h-2z"/><path fill="#fcb468" d="M281 284h2v2h-2zM289 284h2v2h-2zM303 290h2v2h-2zM317 296h2v2h-2zM295 306h2v2h-2zM301 312h2v2h-2zM209 340h2v2h-2zM209 344h2v2h-2zM241 350h2v2h-2zM241 354h2v2h-2z"/><path fill="#fcb064" d="M283 284h6v2h-6zM283 286h2v2h-2zM293 286h2v2h-2zM283 288h2v2h-2zM297 288h2v2h-2zM307 292h2v2h-2zM289 298h2v2h-2zM175 300h2v2h-2zM189 306h2v2h-2zM297 308h2v2h-2zM169 312h2v2h-2zM183 318h2v2h-2zM191 318h2v2h-2zM311 318h2v2h-2zM209 342h2v2h-2zM233 344h2v2h-2zM217 350h2v2h-2zM241 352h2v2h-2z"/><path fill="#fccc80" d="M295 284h2v2h-2zM307 290h2v2h-2zM283 294h2v2h-2zM289 302h2v2h-2zM197 318h2v2h-2z"/><path fill="#fcfcc8" d="M267 286h2v2h-2zM269 288h2v2h-2zM177 294h2v2h-2zM183 296h2v2h-2zM207 316h2v2h-2zM207 320h2v2h-2zM175 322h2v2h-2zM189 326h2v2h-2zM197 332h2v2h-2zM215 332h2v2h-2zM223 334h2v2h-2zM229 336h2v2h-2zM221 358h2v2h-2zM227 360h2v2h-2zM255 360h2v2h-2zM251 362h2v2h-2z"/><path fill="#fca860" d="M285 286h2v2h-2zM285 288h2v2h-2zM185 304h2v2h-2zM173 314h2v2h-2zM193 316h2v2h-2z"/><path fill="#fca85c" d="M287 286h4v2h-4zM295 288h2v2h-2zM213 340h2v2h-2zM237 354h2v2h-2z"/><path fill="#fcac60" d="M291 286h2v2h-2zM285 290h2v2h-2zM301 290h2v2h-2zM287 294h2v2h-2zM311 294h2v2h-2zM169 300h6v2h-6zM291 300h2v2h-2zM181 302h2v2h-2zM191 308h2v2h-2zM177 316h2v2h-2zM185 318h6v2h-6zM211 340h2v2h-2zM221 340h2v2h-2zM229 354h2v2h-2zM239 354h2v2h-2z"/><path fill="#ffffbc" d="M309 286h2v2h-2zM255 356h2v2h-2zM229 360h2v2h-2z"/><path fill="#fff0a4" d="M273 288h2v2h-2zM313 290h2v2h-2zM317 292h2v2h-2zM223 336h2v2h-2zM221 356h2v2h-2zM227 358h2v2h-2zM237 360h2v2h-2zM245 360h2v2h-2z"/><path fill="#fca05c" d="M287 288h2v2h-2zM293 288h2v2h-2zM287 290h2v2h-2zM299 290h2v2h-2zM193 314h2v2h-2zM317 320h2v2h-2zM217 340h2v2h-2zM231 344h2v2h-2zM213 346h2v2h-2zM237 348h2v2h-2zM219 350h2v2h-2zM233 354h2v2h-2z"/><path fill="#fc9c58" d="M289 288h4v2h-4zM289 294h2v2h-2zM309 294h2v2h-2zM291 298h2v2h-2zM295 304h2v2h-2zM187 306h2v2h-2zM171 312h2v2h-2zM303 312h2v2h-2zM191 316h2v2h-2zM309 316h2v2h-2zM313 318h2v2h-2z"/><path fill="#e4f4ec" d="M169 290h2v2h-2zM211 316h2v2h-2zM179 326h2v2h-2zM217 330h2v2h-2zM257 350h2v2h-2zM261 360h2v2h-2z"/><path fill="#f89858" d="M289 290h2v2h-2zM289 292h2v2h-2zM183 304h2v2h-2zM297 306h2v2h-2zM175 314h2v2h-2zM213 342h2v2h-2zM237 352h2v2h-2z"/><path fill="#f89454" d="M291 290h2v2h-2zM295 290h2v2h-2zM291 296h2v2h-2zM313 296h2v2h-2zM293 300h2v2h-2zM169 302h2v2h-2zM177 302h2v2h-2zM189 308h2v2h-2zM299 308h2v2h-2zM169 310h2v2h-2zM301 310h2v2h-2zM181 316h2v2h-2zM189 316h2v2h-2zM213 344h2v2h-2zM233 346h2v2h-2zM217 348h2v2h-2zM237 350h2v2h-2z"/><path fill="#f89054" d="M293 290h2v2h-2zM301 292h2v2h-2zM307 294h2v2h-2zM175 302h2v2h-2zM191 312h2v2h-2zM191 314h2v2h-2zM183 316h2v2h-2zM215 342h2v2h-2zM223 342h2v2h-2zM229 344h2v2h-2zM215 346h2v2h-2zM235 348h2v2h-2zM221 350h2v2h-2zM227 352h2v2h-2zM235 352h2v2h-2z"/><path fill="#fc9858" d="M297 290h2v2h-2zM303 292h2v2h-2zM191 310h2v2h-2zM225 342h2v2h-2zM225 352h2v2h-2z"/><path fill="#fcb464" d="M285 292h2v2h-2zM299 310h2v2h-2zM195 314h2v2h-2zM307 316h2v2h-2zM315 320h2v2h-2zM223 340h2v2h-2zM229 342h2v2h-2zM211 346h2v2h-2zM239 348h2v2h-2zM221 352h2v2h-2zM227 354h2v2h-2z"/><path fill="#fca45c" d="M287 292h2v2h-2zM305 292h2v2h-2zM289 296h2v2h-2zM315 296h2v2h-2zM293 302h2v2h-2zM193 312h2v2h-2zM305 314h2v2h-2zM215 340h2v2h-2zM219 340h2v2h-2zM211 342h2v2h-2zM227 342h2v2h-2zM211 344h2v2h-2zM235 346h2v2h-2zM215 348h2v2h-2zM239 350h2v2h-2zM223 352h2v2h-2zM239 352h2v2h-2zM231 354h2v2h-2zM235 354h2v2h-2z"/><path fill="#f88c50" d="M291 292h2v2h-2zM291 294h2v2h-2zM317 298h2v2h-2zM173 302h2v2h-2zM295 302h2v2h-2zM185 316h2v2h-2z"/><path fill="#f88850" d="M293 292h2v2h-2zM299 292h2v2h-2zM293 298h2v2h-2zM181 304h2v2h-2zM185 306h2v2h-2zM173 312h2v2h-2zM177 314h2v2h-2zM307 314h2v2h-2zM315 318h2v2h-2zM217 342h6v2h-6zM215 344h2v2h-2zM235 350h2v2h-2zM229 352h6v2h-6z"/><path fill="#f8844c" d="M295 292h2v2h-2zM305 294h2v2h-2zM311 296h2v2h-2zM169 304h2v2h-2zM297 304h2v2h-2zM169 308h2v2h-2zM187 308h2v2h-2zM171 310h2v2h-2zM189 310h2v2h-2zM189 314h2v2h-2zM311 316h2v2h-2zM227 344h2v2h-2zM223 350h2v2h-2z"/><path fill="#f88450" d="M297 292h2v2h-2zM231 346h2v2h-2zM219 348h2v2h-2z"/><path fill="#f8804c" d="M293 294h2v2h-2zM293 296h2v2h-2zM217 344h2v2h-2zM217 346h2v2h-2zM233 348h2v2h-2zM233 350h2v2h-2z"/><path fill="#f47c48" d="M295 294h2v2h-2zM315 298h2v2h-2z"/><path fill="#f47448" d="M297 294h4v2h-4zM295 296h2v2h-2zM173 304h2v2h-2zM177 304h2v2h-2zM181 314h2v2h-2zM185 314h2v2h-2zM221 344h2v2h-2zM229 350h2v2h-2z"/><path fill="#f47848" d="M301 294h2v2h-2zM309 296h2v2h-2zM295 298h2v2h-2zM171 304h2v2h-2zM183 306h2v2h-2zM301 308h2v2h-2zM303 310h2v2h-2zM175 312h2v2h-2zM187 314h2v2h-2zM219 344h2v2h-2zM223 344h2v2h-2zM219 346h2v2h-2zM229 346h2v2h-2zM221 348h2v2h-2zM231 348h2v2h-2zM227 350h2v2h-2zM231 350h2v2h-2z"/><path fill="#f87c48" d="M303 294h2v2h-2zM299 306h2v2h-2zM225 344h2v2h-2zM225 350h2v2h-2z"/><path fill="#f46c44" d="M297 296h2v2h-2zM307 296h2v2h-2zM313 298h2v2h-2zM181 306h2v2h-2zM177 312h2v2h-2zM223 346h4v2h-4zM225 348h4v2h-4z"/><path fill="#f06440" d="M299 296h6v2h-6zM317 300h2v2h-2zM179 306h2v2h-2zM183 308h2v2h-2zM175 310h2v2h-2zM179 312h2v2h-2z"/><path fill="#f06840" d="M305 296h2v2h-2zM297 298h2v2h-2zM173 306h2v2h-2zM173 308h2v2h-2zM185 310h2v2h-2zM185 312h2v2h-2z"/><path fill="#ec5c3c" d="M299 298h2v2h-2zM299 300h2v2h-2zM175 308h2v2h-2zM181 308h2v2h-2zM303 308h2v2h-2zM177 310h2v2h-2zM183 310h2v2h-2zM305 310h2v2h-2zM311 314h2v2h-2zM315 316h2v2h-2z"/><path fill="#e85438" d="M301 298h2v2h-2zM315 300h2v2h-2zM301 304h2v2h-2z"/><path fill="#e85034" d="M303 298h2v2h-2z"/><path fill="#e45034" d="M305 298h2v2h-2z"/><path fill="#e85038" d="M307 298h2v2h-2z"/><path fill="#e85838" d="M309 298h2v2h-2z"/><path fill="#ec603c" d="M311 298h2v2h-2zM299 302h2v2h-2z"/><path fill="#f87c4c" d="M295 300h2v2h-2zM179 304h2v2h-2zM169 306h2v2h-2zM189 312h2v2h-2zM305 312h2v2h-2zM179 314h2v2h-2z"/><path fill="#f46c40" d="M297 300h2v2h-2z"/><path fill="#e44c34" d="M301 300h2v2h-2zM301 302h2v2h-2zM303 306h2v2h-2zM309 312h2v2h-2zM317 316h2v2h-2z"/><path fill="#e04430" d="M303 300h2v2h-2zM305 308h2v2h-2zM307 310h2v2h-2z"/><path fill="#dc3c2c" d="M305 300h2v2h-2zM309 300h2v2h-2zM303 302h2v2h-2z"/><path fill="#dc382c" d="M307 300h2v2h-2zM311 312h2v2h-2zM315 314h2v2h-2z"/><path fill="#e04030" d="M311 300h2v2h-2zM303 304h2v2h-2z"/><path fill="#e44834" d="M313 300h2v2h-2zM313 314h2v2h-2z"/><path fill="#f88c54" d="M171 302h2v2h-2zM187 316h2v2h-2z"/><path fill="#fca058" d="M179 302h2v2h-2zM179 316h2v2h-2z"/><path fill="#f47444" d="M297 302h2v2h-2zM175 304h2v2h-2zM171 308h2v2h-2zM187 310h2v2h-2zM183 314h2v2h-2zM317 318h2v2h-2z"/><path fill="#d83028" d="M305 302h10v2h-10zM305 304h14v2h-14zM307 306h12v2h-12zM307 308h12v2h-12zM309 310h10v2h-10zM313 312h6v2h-6zM317 314h2v2h-2z"/><path fill="#d83428" d="M315 302h2v2h-2zM305 306h2v2h-2z"/><path fill="#e0402c" d="M317 302h2v2h-2z"/><path fill="#f46840" d="M299 304h2v2h-2z"/><path fill="#f47044" d="M171 306h2v2h-2zM185 308h2v2h-2zM173 310h2v2h-2zM187 312h2v2h-2zM309 314h2v2h-2zM313 316h2v2h-2zM221 346h2v2h-2zM227 346h2v2h-2zM223 348h2v2h-2zM229 348h2v2h-2z"/><path fill="#f0643c" d="M175 306h2v2h-2zM183 312h2v2h-2z"/><path fill="#f0603c" d="M177 306h2v2h-2zM301 306h2v2h-2zM181 312h2v2h-2zM307 312h2v2h-2z"/><path fill="#fff0ac" d="M197 306h2v2h-2zM201 310h2v2h-2zM199 342h2v2h-2zM245 346h2v2h-2zM205 348h2v2h-2zM251 352h2v2h-2z"/><path fill="#90c0dc" d="M219 306h2v2h-2zM227 324h2v2h-2z"/><path fill="#ec5838" d="M177 308h4v2h-4zM179 310h4v2h-4z"/><path fill="#fcb060" d="M193 310h2v2h-2z"/><path fill="#e8f4e8" d="M291 314h2v2h-2z"/><path fill="#ffe898" d="M185 322h2v2h-2zM227 338h2v2h-2zM223 356h2v2h-2z"/><path fill="#bce4f0" d="M299 324h2v2h-2zM259 368h2v2h-2z"/><path fill="#80b8d4" d="M289 328h2v2h-2zM265 344h2v2h-2z"/><path fill="#e8f8e4" d="M215 330h2v2h-2z"/><path fill="#fcd488" d="M205 344h2v2h-2zM245 350h2v2h-2z"/><path fill="#d4f0f4" d="M195 348h2v2h-2z"/><path fill="#f0f8e0" d="M209 354h2v2h-2zM241 364h2v2h-2z"/></g></g>
<text x="244.3" y="245.7" font-size="7.4" text-anchor="middle" font-weight="bold" fill="#000">Older siblings</text>
<path d="M175.2,374.6 V368.6 H313.4 V374.6 M209.6,368.6 V374.6 M244.2,368.6 V374.6 M278.8,368.6 V374.6" fill="none" stroke="#222" stroke-width="0.9"/>
<text x="192.45" y="374.1" font-size="5.4" text-anchor="middle" fill="#222">Summer</text>
<text x="226.95" y="374.1" font-size="5.4" text-anchor="middle" fill="#222">Fall</text>
<text x="261.45" y="374.1" font-size="5.4" text-anchor="middle" fill="#222">Winter</text>
<text x="295.95" y="374.1" font-size="5.4" text-anchor="middle" fill="#222">Spring</text>
<text x="245.1" y="385.6" font-size="6.7" text-anchor="middle" font-weight="bold" fill="#000">Birthdate</text>
<text x="21.9" y="361.37" font-size="5.3" text-anchor="end" fill="#222">1</text>
<text x="21.9" y="351.34" font-size="5.3" text-anchor="end" fill="#222">2</text>
<text x="21.9" y="341.31" font-size="5.3" text-anchor="end" fill="#222">3</text>
<text x="21.9" y="331.28" font-size="5.3" text-anchor="end" fill="#222">4</text>
<text x="21.9" y="321.25" font-size="5.3" text-anchor="end" fill="#222">5</text>
<text x="21.9" y="311.22" font-size="5.3" text-anchor="end" fill="#222">6</text>
<text x="21.9" y="301.19" font-size="5.3" text-anchor="end" fill="#222">7</text>
<text x="21.9" y="291.16" font-size="5.3" text-anchor="end" fill="#222">8</text>
<text x="21.9" y="281.13" font-size="5.3" text-anchor="end" fill="#222">9</text>
<text x="21.9" y="271.1" font-size="5.3" text-anchor="end" fill="#222">10</text>
<text x="21.9" y="261.07" font-size="5.3" text-anchor="end" fill="#222">11</text>
<text x="21.9" y="251.04" font-size="5.3" text-anchor="end" fill="#222">12</text>
<text x="0" y="0" font-size="6.6" font-weight="bold" text-anchor="middle" transform="translate(11.6 304.7) rotate(-90)">Age of first infection (months)</text>
<defs><linearGradient id="cb" x1="0" y1="1" x2="0" y2="0"><stop offset="0.000" stop-color="#4575b4"/><stop offset="0.125" stop-color="#74add1"/><stop offset="0.250" stop-color="#abd9e9"/><stop offset="0.375" stop-color="#e0f3f8"/><stop offset="0.500" stop-color="#ffffbf"/><stop offset="0.625" stop-color="#fee090"/><stop offset="0.750" stop-color="#fdae61"/><stop offset="0.875" stop-color="#f46d43"/><stop offset="1.000" stop-color="#d73027"/></linearGradient></defs>
<rect x="327.9" y="264.2" width="7.3" height="103.9" fill="url(#cb)"/>
<text x="340.8" y="356.07" font-size="6.4" text-anchor="middle" fill="#222">1</text>
<text x="340.8" y="342.24" font-size="6.4" text-anchor="middle" fill="#222">2</text>
<text x="340.8" y="328.41" font-size="6.4" text-anchor="middle" fill="#222">3</text>
<text x="340.8" y="314.58" font-size="6.4" text-anchor="middle" fill="#222">4</text>
<text x="340.8" y="300.75" font-size="6.4" text-anchor="middle" fill="#222">5</text>
<text x="340.8" y="286.92" font-size="6.4" text-anchor="middle" fill="#222">6</text>
<text x="340.8" y="273.09" font-size="6.4" text-anchor="middle" fill="#222">7</text>
<text x="331.5" y="253.8" font-size="5.9" text-anchor="middle" font-weight="bold" fill="#000">Probability</text>
<text x="331.5" y="261.2" font-size="6.0" text-anchor="middle" fill="#222">(×10<tspan dy="-2.5" font-size="4.3">−3</tspan><tspan dy="2.5">)</tspan></text>
<text x="369" y="236.8" font-size="11.4" text-anchor="start" fill="#000">D)</text>
<rect x="378.6" y="244.4" width="305.9" height="77" fill="none" stroke="#222" stroke-width="1.1"/>
<line x1="449.8" y1="244.4" x2="449.8" y2="321.4" stroke="#222" stroke-width="1.1"/>
<line x1="542.4" y1="244.4" x2="542.4" y2="321.4" stroke="#222" stroke-width="1.1"/>
<line x1="378.6" y1="280.7" x2="684.5" y2="280.7" stroke="#222" stroke-width="1.1"/>
<line x1="378.6" y1="295.5" x2="684.5" y2="295.5" stroke="#222" stroke-width="1.1"/>
<text x="496.2" y="259.9" font-size="8.4" text-anchor="middle" font-weight="bold" fill="#1a1a1a" textLength="81.6" lengthAdjust="spacingAndGlyphs">Infected with RSV by</text>
<text x="496.45" y="270.3" font-size="8.4" text-anchor="middle" font-weight="bold" fill="#1a1a1a" textLength="73.9" lengthAdjust="spacingAndGlyphs">age 1 year (yes/no)</text>
<text x="612.95" y="255.2" font-size="8.4" text-anchor="middle" font-weight="bold" fill="#1a1a1a" textLength="125.7" lengthAdjust="spacingAndGlyphs">Age of first RSV infection (days),</text>
<text x="612.95" y="265.8" font-size="8.4" text-anchor="middle" font-weight="bold" fill="#1a1a1a" textLength="115.5" lengthAdjust="spacingAndGlyphs">conditional on being infected</text>
<text x="613.45" y="275.7" font-size="8.4" text-anchor="middle" font-weight="bold" fill="#1a1a1a" textLength="67.5" lengthAdjust="spacingAndGlyphs">before age 1 year</text>
<text x="414.2" y="291.2" font-size="8.4" text-anchor="middle" font-weight="bold" fill="#1a1a1a" textLength="38.6" lengthAdjust="spacingAndGlyphs">Birth date</text>
<text x="414.3" y="306.4" font-size="8.4" text-anchor="middle" font-weight="bold" fill="#1a1a1a" textLength="58" lengthAdjust="spacingAndGlyphs">Non-birth date</text>
<text x="414.3" y="316.5" font-size="8.4" text-anchor="middle" font-weight="bold" fill="#1a1a1a" textLength="41.2" lengthAdjust="spacingAndGlyphs">covariates</text>
<text x="496.35" y="291.2" font-size="8.4" text-anchor="middle" fill="#2a2a2a" textLength="19.3" lengthAdjust="spacingAndGlyphs">2.9%</text>
<text x="496.35" y="311.7" font-size="8.4" text-anchor="middle" fill="#2a2a2a" textLength="19.3" lengthAdjust="spacingAndGlyphs">2.7%</text>
<text x="613.35" y="291" font-size="8.4" text-anchor="middle" fill="#2a2a2a" textLength="23.5" lengthAdjust="spacingAndGlyphs">36.8%</text>
<text x="613.5" y="311.4" font-size="8.4" text-anchor="middle" fill="#2a2a2a" textLength="19.2" lengthAdjust="spacingAndGlyphs">0.1%</text>
<text x="0.3" y="430.6" font-size="11.8" text-anchor="start" fill="#000">E)</text>
<text x="103.75" y="433.7" font-size="9.5" text-anchor="middle" font-weight="bold" fill="#000">June birth months</text>
<line x1="36.6" y1="544.4" x2="36.6" y2="467.6" stroke="#222" stroke-width="0.8"/>
<line x1="32" y1="544.4" x2="36.6" y2="544.4" stroke="#222" stroke-width="0.8"/>
<line x1="32" y1="518.8" x2="36.6" y2="518.8" stroke="#222" stroke-width="0.8"/>
<line x1="32" y1="493.2" x2="36.6" y2="493.2" stroke="#222" stroke-width="0.8"/>
<line x1="32" y1="467.6" x2="36.6" y2="467.6" stroke="#222" stroke-width="0.8"/>
<text x="25" y="544.4" font-size="8.1" text-anchor="middle" transform="rotate(-90 25 544.4)" fill="#111">0.0</text>
<text x="25" y="518.8" font-size="8.1" text-anchor="middle" transform="rotate(-90 25 518.8)" fill="#111">0.1</text>
<text x="25" y="493.2" font-size="8.1" text-anchor="middle" transform="rotate(-90 25 493.2)" fill="#111">0.2</text>
<text x="25" y="467.6" font-size="8.1" text-anchor="middle" transform="rotate(-90 25 467.6)" fill="#111">0.3</text>
<text x="0" y="0" font-size="8.1" text-anchor="middle" fill="#111" transform="translate(12.3 495.5) rotate(-90)">Density</text>
<rect x="82.48" y="537.2" width="5.11" height="7.2" fill="#d3d3d3" stroke="#333" stroke-width="0.8"/>
<rect x="87.59" y="530.4" width="5.11" height="14" fill="#d3d3d3" stroke="#333" stroke-width="0.8"/>
<rect x="92.7" y="475.1" width="5.11" height="69.3" fill="#d3d3d3" stroke="#333" stroke-width="0.8"/>
<rect x="97.81" y="468.2" width="5.11" height="76.2" fill="#d3d3d3" stroke="#333" stroke-width="0.8"/>
<rect x="102.92" y="447.2" width="5.11" height="97.2" fill="#d3d3d3" stroke="#333" stroke-width="0.8"/>
<rect x="108.03" y="475.1" width="5.11" height="69.3" fill="#d3d3d3" stroke="#333" stroke-width="0.8"/>
<rect x="113.14" y="495.5" width="5.11" height="48.9" fill="#d3d3d3" stroke="#333" stroke-width="0.8"/>
<rect x="118.25" y="495.5" width="5.11" height="48.9" fill="#d3d3d3" stroke="#333" stroke-width="0.8"/>
<rect x="123.36" y="516.5" width="5.11" height="27.9" fill="#d3d3d3" stroke="#333" stroke-width="0.8"/>
<rect x="128.47" y="509.3" width="5.11" height="35.1" fill="#d3d3d3" stroke="#333" stroke-width="0.8"/>
<rect x="133.58" y="530.4" width="5.11" height="14" fill="#d3d3d3" stroke="#333" stroke-width="0.8"/>
<rect x="138.69" y="537.2" width="5.11" height="7.2" fill="#d3d3d3" stroke="#333" stroke-width="0.8"/>
<line x1="41.6" y1="548.4" x2="170.7" y2="548.4" stroke="#222" stroke-width="0.8"/>
<line x1="41.6" y1="548.4" x2="41.6" y2="553" stroke="#222" stroke-width="0.8"/>
<text x="41.6" y="566" font-size="8.1" text-anchor="middle" fill="#111">0</text>
<line x1="51.82" y1="548.4" x2="51.82" y2="553" stroke="#222" stroke-width="0.8"/>
<line x1="62.04" y1="548.4" x2="62.04" y2="553" stroke="#222" stroke-width="0.8"/>
<text x="62.04" y="566" font-size="8.1" text-anchor="middle" fill="#111">2</text>
<line x1="72.26" y1="548.4" x2="72.26" y2="553" stroke="#222" stroke-width="0.8"/>
<line x1="82.48" y1="548.4" x2="82.48" y2="553" stroke="#222" stroke-width="0.8"/>
<text x="82.48" y="566" font-size="8.1" text-anchor="middle" fill="#111">4</text>
<line x1="92.7" y1="548.4" x2="92.7" y2="553" stroke="#222" stroke-width="0.8"/>
<line x1="102.92" y1="548.4" x2="102.92" y2="553" stroke="#222" stroke-width="0.8"/>
<text x="102.92" y="566" font-size="8.1" text-anchor="middle" fill="#111">6</text>
<line x1="113.14" y1="548.4" x2="113.14" y2="553" stroke="#222" stroke-width="0.8"/>
<line x1="123.36" y1="548.4" x2="123.36" y2="553" stroke="#222" stroke-width="0.8"/>
<text x="123.36" y="566" font-size="8.1" text-anchor="middle" fill="#111">8</text>
<line x1="133.58" y1="548.4" x2="133.58" y2="553" stroke="#222" stroke-width="0.8"/>
<line x1="143.8" y1="548.4" x2="143.8" y2="553" stroke="#222" stroke-width="0.8"/>
<text x="143.8" y="566" font-size="8.1" text-anchor="middle" fill="#111">10</text>
<line x1="154.02" y1="548.4" x2="154.02" y2="553" stroke="#222" stroke-width="0.8"/>
<line x1="164.24" y1="548.4" x2="164.24" y2="553" stroke="#222" stroke-width="0.8"/>
<text x="164.24" y="566" font-size="8.1" text-anchor="middle" fill="#111">12</text>
<text x="103.8" y="577.8" font-size="8.1" text-anchor="middle" fill="#111">Age of first infection (months)</text>
<path d="M41.3,544.19 L43.1,543.66 L44.92,543.26 L46.76,542.96 L48.61,542.69 L50.45,542.41 L52.29,542.07 L54.12,541.63 L55.92,541.07 L57.69,540.42 L59.42,539.72 L61.12,538.99 L62.81,538.26 L64.5,537.57 L66.22,536.94 L67.99,536.41 L69.84,536 L71.78,535.74 L73.78,535.57 L75.73,535.35 L77.57,534.93 L79.24,534.26 L80.75,533.34 L82.11,532.21 L83.34,530.9 L84.46,529.45 L85.47,527.89 L86.4,526.25 L87.27,524.56 L88.07,522.85 L88.82,521.12 L89.52,519.37 L90.18,517.6 L90.78,515.83 L91.35,514.03 L91.87,512.23 L92.35,510.41 L92.8,508.59 L93.22,506.76 L93.6,504.92 L93.96,503.08 L94.29,501.24 L94.6,499.4 L94.89,497.55 L95.17,495.71 L95.43,493.87 L95.67,492.04 L95.91,490.21 L96.14,488.39 L96.37,486.58 L96.61,484.77 L96.88,482.97 L97.2,481.16 L97.6,479.35 L98.09,477.52 L98.7,475.67 L99.44,473.79 L100.33,471.89 L101.4,469.98 L102.59,468.29 L103.87,467.06 L105.17,466.58 L106.46,467.01 L107.7,468.17 L108.87,469.79 L109.94,471.58 L110.91,473.37 L111.79,475.14 L112.58,476.91 L113.3,478.66 L113.96,480.41 L114.57,482.16 L115.13,483.9 L115.67,485.64 L116.18,487.38 L116.69,489.12 L117.2,490.86 L117.71,492.61 L118.23,494.36 L118.76,496.12 L119.3,497.88 L119.84,499.64 L120.4,501.41 L120.96,503.19 L121.54,504.97 L122.13,506.75 L122.73,508.54 L123.34,510.34 L123.97,512.14 L124.61,513.94 L125.27,515.74 L125.96,517.54 L126.67,519.32 L127.42,521.08 L128.21,522.81 L129.04,524.52 L129.91,526.18 L130.83,527.8 L131.81,529.38 L132.85,530.89 L133.95,532.35 L135.12,533.74 L136.36,535.06 L137.68,536.29 L139.08,537.45 L140.56,538.51 L142.13,539.48 L143.79,540.34 L145.54,541.11 L147.36,541.78 L149.23,542.36 L151.13,542.86 L153.06,543.27 L155,543.62 L156.92,543.89 L158.83,544.1 L160.69,544.25 L162.5,544.35 L164.24,544.4 L165.9,544.4" fill="none" stroke="#1a1aee" stroke-width="1.35"/>
<rect x="36.6" y="443.2" width="51.8" height="23.1" fill="#fff" stroke="#222" stroke-width="0.8"/>
<rect x="41.6" y="448.4" width="5.3" height="5.3" fill="#d3d3d3"/>
<line x1="38.2" y1="458.8" x2="50.4" y2="458.8" stroke="#1f1fe8" stroke-width="1.5"/>
<text x="56" y="453.5" font-size="6.7" text-anchor="start" fill="#111">Observed</text>
<text x="56" y="461.1" font-size="6.7" text-anchor="start" fill="#111">Fitted</text>
<text x="270.5" y="433.7" font-size="9.5" text-anchor="middle" font-weight="bold" fill="#000">July birth months</text>
<line x1="203.5" y1="544.4" x2="203.5" y2="445.07" stroke="#222" stroke-width="0.8"/>
<line x1="198.9" y1="544.4" x2="203.5" y2="544.4" stroke="#222" stroke-width="0.8"/>
<line x1="198.9" y1="530.21" x2="203.5" y2="530.21" stroke="#222" stroke-width="0.8"/>
<line x1="198.9" y1="516.02" x2="203.5" y2="516.02" stroke="#222" stroke-width="0.8"/>
<line x1="198.9" y1="501.83" x2="203.5" y2="501.83" stroke="#222" stroke-width="0.8"/>
<line x1="198.9" y1="487.64" x2="203.5" y2="487.64" stroke="#222" stroke-width="0.8"/>
<line x1="198.9" y1="473.45" x2="203.5" y2="473.45" stroke="#222" stroke-width="0.8"/>
<line x1="198.9" y1="459.26" x2="203.5" y2="459.26" stroke="#222" stroke-width="0.8"/>
<line x1="198.9" y1="445.07" x2="203.5" y2="445.07" stroke="#222" stroke-width="0.8"/>
<text x="191.9" y="544.4" font-size="8.1" text-anchor="middle" transform="rotate(-90 191.9 544.4)" fill="#111">0.00</text>
<text x="191.9" y="516.02" font-size="8.1" text-anchor="middle" transform="rotate(-90 191.9 516.02)" fill="#111">0.10</text>
<text x="191.9" y="487.64" font-size="8.1" text-anchor="middle" transform="rotate(-90 191.9 487.64)" fill="#111">0.20</text>
<text x="191.9" y="459.26" font-size="8.1" text-anchor="middle" transform="rotate(-90 191.9 459.26)" fill="#111">0.30</text>
<rect x="244.5" y="512" width="5.1" height="32.4" fill="#d3d3d3" stroke="#333" stroke-width="0.8"/>
<rect x="249.6" y="495.5" width="5.1" height="48.9" fill="#d3d3d3" stroke="#333" stroke-width="0.8"/>
<rect x="254.7" y="455.1" width="5.1" height="89.3" fill="#d3d3d3" stroke="#333" stroke-width="0.8"/>
<rect x="259.8" y="463.6" width="5.1" height="80.8" fill="#d3d3d3" stroke="#333" stroke-width="0.8"/>
<rect x="264.9" y="487.2" width="5.1" height="57.2" fill="#d3d3d3" stroke="#333" stroke-width="0.8"/>
<rect x="270" y="447.2" width="5.1" height="97.2" fill="#d3d3d3" stroke="#333" stroke-width="0.8"/>
<rect x="275.1" y="495.5" width="5.1" height="48.9" fill="#d3d3d3" stroke="#333" stroke-width="0.8"/>
<rect x="280.2" y="471.4" width="5.1" height="73" fill="#d3d3d3" stroke="#333" stroke-width="0.8"/>
<rect x="285.3" y="512" width="5.1" height="32.4" fill="#d3d3d3" stroke="#333" stroke-width="0.8"/>
<rect x="295.5" y="536.4" width="5.1" height="8" fill="#d3d3d3" stroke="#333" stroke-width="0.8"/>
<line x1="208.8" y1="548.4" x2="338" y2="548.4" stroke="#222" stroke-width="0.8"/>
<line x1="208.8" y1="548.4" x2="208.8" y2="553" stroke="#222" stroke-width="0.8"/>
<text x="208.8" y="566" font-size="8.1" text-anchor="middle" fill="#111">0</text>
<line x1="219" y1="548.4" x2="219" y2="553" stroke="#222" stroke-width="0.8"/>
<line x1="229.2" y1="548.4" x2="229.2" y2="553" stroke="#222" stroke-width="0.8"/>
<text x="229.2" y="566" font-size="8.1" text-anchor="middle" fill="#111">2</text>
<line x1="239.4" y1="548.4" x2="239.4" y2="553" stroke="#222" stroke-width="0.8"/>
<line x1="249.6" y1="548.4" x2="249.6" y2="553" stroke="#222" stroke-width="0.8"/>
<text x="249.6" y="566" font-size="8.1" text-anchor="middle" fill="#111">4</text>
<line x1="259.8" y1="548.4" x2="259.8" y2="553" stroke="#222" stroke-width="0.8"/>
<line x1="270" y1="548.4" x2="270" y2="553" stroke="#222" stroke-width="0.8"/>
<text x="270" y="566" font-size="8.1" text-anchor="middle" fill="#111">6</text>
<line x1="280.2" y1="548.4" x2="280.2" y2="553" stroke="#222" stroke-width="0.8"/>
<line x1="290.4" y1="548.4" x2="290.4" y2="553" stroke="#222" stroke-width="0.8"/>
<text x="290.4" y="566" font-size="8.1" text-anchor="middle" fill="#111">8</text>
<line x1="300.6" y1="548.4" x2="300.6" y2="553" stroke="#222" stroke-width="0.8"/>
<line x1="310.8" y1="548.4" x2="310.8" y2="553" stroke="#222" stroke-width="0.8"/>
<text x="310.8" y="566" font-size="8.1" text-anchor="middle" fill="#111">10</text>
<line x1="321" y1="548.4" x2="321" y2="553" stroke="#222" stroke-width="0.8"/>
<line x1="331.2" y1="548.4" x2="331.2" y2="553" stroke="#222" stroke-width="0.8"/>
<text x="331.2" y="566" font-size="8.1" text-anchor="middle" fill="#111">12</text>
<text x="271" y="577.8" font-size="8.1" text-anchor="middle" fill="#111">Age of first infection (months)</text>
<path d="M208.48,544.34 L210.45,543.83 L212.32,543.18 L214.11,542.4 L215.82,541.51 L217.46,540.51 L219.05,539.43 L220.59,538.28 L222.09,537.06 L223.56,535.81 L225.02,534.52 L226.46,533.22 L227.91,531.91 L229.36,530.62 L230.83,529.36 L232.33,528.13 L233.87,526.96 L235.46,525.86 L237.1,524.84 L238.81,523.92 L240.59,523.11 L242.42,522.38 L244.22,521.63 L245.91,520.77 L247.42,519.7 L248.68,518.34 L249.68,516.7 L250.49,514.85 L251.18,512.9 L251.81,510.94 L252.43,508.99 L253.01,507.07 L253.58,505.17 L254.13,503.28 L254.65,501.41 L255.15,499.54 L255.62,497.68 L256.08,495.83 L256.52,493.97 L256.93,492.11 L257.32,490.25 L257.69,488.38 L258.05,486.49 L258.38,484.59 L258.69,482.68 L258.98,480.74 L259.25,478.78 L259.52,476.79 L259.81,474.8 L260.15,472.81 L260.57,470.83 L261.08,468.87 L261.72,466.93 L262.52,465.04 L263.49,463.2 L264.61,461.59 L265.8,460.5 L267,460.23 L268.15,460.89 L269.24,462.27 L270.24,464.14 L271.15,466.26 L271.96,468.4 L272.66,470.47 L273.27,472.47 L273.81,474.41 L274.29,476.3 L274.73,478.15 L275.14,479.99 L275.54,481.81 L275.95,483.63 L276.37,485.47 L276.83,487.32 L277.31,489.19 L277.81,491.07 L278.32,492.95 L278.85,494.84 L279.39,496.73 L279.93,498.62 L280.48,500.5 L281.02,502.36 L281.56,504.22 L282.1,506.07 L282.65,507.9 L283.21,509.74 L283.79,511.56 L284.4,513.39 L285.04,515.22 L285.72,517.06 L286.45,518.89 L287.22,520.72 L288.05,522.54 L288.92,524.34 L289.85,526.1 L290.84,527.82 L291.89,529.5 L293,531.11 L294.17,532.67 L295.42,534.14 L296.73,535.54 L298.12,536.84 L299.58,538.04 L301.12,539.14 L302.74,540.11 L304.45,540.96 L306.24,541.68 L308.1,542.27 L310.03,542.75 L312.01,543.13 L314.02,543.43 L316.06,543.65 L318.12,543.81 L320.17,543.92 L322.21,544 L324.23,544.05 L326.2,544.09 L328.13,544.13 L330,544.19 L331.79,544.27 L333.5,544.4" fill="none" stroke="#1a1aee" stroke-width="1.35"/>
<rect x="286.2" y="443.2" width="51.8" height="23.4" fill="#fff" stroke="#222" stroke-width="0.8"/>
<rect x="291.2" y="448.4" width="5.3" height="5.3" fill="#d3d3d3"/>
<line x1="287.8" y1="458.8" x2="300" y2="458.8" stroke="#1f1fe8" stroke-width="1.5"/>
<text x="305.6" y="453.5" font-size="6.7" text-anchor="start" fill="#111">Observed</text>
<text x="305.6" y="461.1" font-size="6.7" text-anchor="start" fill="#111">Fitted</text>
<text x="440.5" y="433.7" font-size="9.5" text-anchor="middle" font-weight="bold" fill="#000">August birth months</text>
<line x1="373.5" y1="544.4" x2="373.5" y2="445.08" stroke="#222" stroke-width="0.8"/>
<line x1="368.9" y1="544.4" x2="373.5" y2="544.4" stroke="#222" stroke-width="0.8"/>
<line x1="368.9" y1="519.57" x2="373.5" y2="519.57" stroke="#222" stroke-width="0.8"/>
<line x1="368.9" y1="494.74" x2="373.5" y2="494.74" stroke="#222" stroke-width="0.8"/>
<line x1="368.9" y1="469.91" x2="373.5" y2="469.91" stroke="#222" stroke-width="0.8"/>
<line x1="368.9" y1="445.08" x2="373.5" y2="445.08" stroke="#222" stroke-width="0.8"/>
<text x="361.9" y="544.4" font-size="8.1" text-anchor="middle" transform="rotate(-90 361.9 544.4)" fill="#111">0.0</text>
<text x="361.9" y="519.57" font-size="8.1" text-anchor="middle" transform="rotate(-90 361.9 519.57)" fill="#111">0.1</text>
<text x="361.9" y="494.74" font-size="8.1" text-anchor="middle" transform="rotate(-90 361.9 494.74)" fill="#111">0.2</text>
<text x="361.9" y="469.91" font-size="8.1" text-anchor="middle" transform="rotate(-90 361.9 469.91)" fill="#111">0.3</text>
<text x="361.9" y="445.08" font-size="8.1" text-anchor="middle" transform="rotate(-90 361.9 445.08)" fill="#111">0.4</text>
<rect x="399.2" y="536.4" width="5.1" height="8" fill="#d3d3d3" stroke="#333" stroke-width="0.8"/>
<rect x="404.3" y="512" width="5.1" height="32.4" fill="#d3d3d3" stroke="#333" stroke-width="0.8"/>
<rect x="409.4" y="520.5" width="5.1" height="23.9" fill="#d3d3d3" stroke="#333" stroke-width="0.8"/>
<rect x="414.5" y="503.7" width="5.1" height="40.7" fill="#d3d3d3" stroke="#333" stroke-width="0.8"/>
<rect x="419.6" y="487.3" width="5.1" height="57.1" fill="#d3d3d3" stroke="#333" stroke-width="0.8"/>
<rect x="424.7" y="447.2" width="5.1" height="97.2" fill="#d3d3d3" stroke="#333" stroke-width="0.8"/>
<rect x="429.8" y="479.4" width="5.1" height="65" fill="#d3d3d3" stroke="#333" stroke-width="0.8"/>
<rect x="434.9" y="479.4" width="5.1" height="65" fill="#d3d3d3" stroke="#333" stroke-width="0.8"/>
<rect x="440" y="479.4" width="5.1" height="65" fill="#d3d3d3" stroke="#333" stroke-width="0.8"/>
<rect x="445.1" y="520.5" width="5.1" height="23.9" fill="#d3d3d3" stroke="#333" stroke-width="0.8"/>
<rect x="450.2" y="528.1" width="5.1" height="16.3" fill="#d3d3d3" stroke="#333" stroke-width="0.8"/>
<line x1="378.8" y1="548.4" x2="508" y2="548.4" stroke="#222" stroke-width="0.8"/>
<line x1="378.8" y1="548.4" x2="378.8" y2="553" stroke="#222" stroke-width="0.8"/>
<text x="378.8" y="566" font-size="8.1" text-anchor="middle" fill="#111">0</text>
<line x1="389" y1="548.4" x2="389" y2="553" stroke="#222" stroke-width="0.8"/>
<line x1="399.2" y1="548.4" x2="399.2" y2="553" stroke="#222" stroke-width="0.8"/>
<text x="399.2" y="566" font-size="8.1" text-anchor="middle" fill="#111">2</text>
<line x1="409.4" y1="548.4" x2="409.4" y2="553" stroke="#222" stroke-width="0.8"/>
<line x1="419.6" y1="548.4" x2="419.6" y2="553" stroke="#222" stroke-width="0.8"/>
<text x="419.6" y="566" font-size="8.1" text-anchor="middle" fill="#111">4</text>
<line x1="429.8" y1="548.4" x2="429.8" y2="553" stroke="#222" stroke-width="0.8"/>
<line x1="440" y1="548.4" x2="440" y2="553" stroke="#222" stroke-width="0.8"/>
<text x="440" y="566" font-size="8.1" text-anchor="middle" fill="#111">6</text>
<line x1="450.2" y1="548.4" x2="450.2" y2="553" stroke="#222" stroke-width="0.8"/>
<line x1="460.4" y1="548.4" x2="460.4" y2="553" stroke="#222" stroke-width="0.8"/>
<text x="460.4" y="566" font-size="8.1" text-anchor="middle" fill="#111">8</text>
<line x1="470.6" y1="548.4" x2="470.6" y2="553" stroke="#222" stroke-width="0.8"/>
<line x1="480.8" y1="548.4" x2="480.8" y2="553" stroke="#222" stroke-width="0.8"/>
<text x="480.8" y="566" font-size="8.1" text-anchor="middle" fill="#111">10</text>
<line x1="491" y1="548.4" x2="491" y2="553" stroke="#222" stroke-width="0.8"/>
<line x1="501.2" y1="548.4" x2="501.2" y2="553" stroke="#222" stroke-width="0.8"/>
<text x="501.2" y="566" font-size="8.1" text-anchor="middle" fill="#111">12</text>
<text x="441" y="577.8" font-size="8.1" text-anchor="middle" fill="#111">Age of first infection (months)</text>
<path d="M378.71,544.41 L380.2,543.53 L381.61,542.6 L382.93,541.62 L384.19,540.6 L385.37,539.53 L386.48,538.43 L387.54,537.29 L388.54,536.1 L389.49,534.89 L390.4,533.64 L391.26,532.36 L392.09,531.05 L392.89,529.72 L393.66,528.36 L394.41,526.98 L395.14,525.57 L395.86,524.15 L396.57,522.71 L397.28,521.26 L397.98,519.79 L398.7,518.31 L399.43,516.82 L400.17,515.32 L400.94,513.82 L401.74,512.35 L402.58,510.94 L403.5,509.64 L404.49,508.5 L405.59,507.55 L406.8,506.84 L408.14,506.41 L409.63,506.31 L411.26,506.53 L412.96,506.89 L414.64,507.21 L416.22,507.28 L417.64,506.95 L418.88,506.25 L419.98,505.25 L420.95,504.05 L421.81,502.72 L422.59,501.28 L423.32,499.78 L424.01,498.23 L424.68,496.65 L425.37,495.08 L426.09,493.55 L426.87,492.06 L427.73,490.67 L428.69,489.38 L429.79,488.23 L431.03,487.23 L432.39,486.49 L433.73,486.19 L434.93,486.5 L435.97,487.33 L436.89,488.55 L437.71,489.99 L438.46,491.52 L439.16,493.06 L439.82,494.6 L440.44,496.13 L441.01,497.66 L441.56,499.19 L442.08,500.72 L442.58,502.24 L443.06,503.76 L443.53,505.28 L443.99,506.79 L444.44,508.3 L444.9,509.8 L445.36,511.3 L445.84,512.79 L446.32,514.27 L446.83,515.75 L447.36,517.21 L447.93,518.67 L448.52,520.12 L449.15,521.56 L449.83,522.99 L450.56,524.41 L451.33,525.82 L452.16,527.22 L453.04,528.59 L453.97,529.93 L454.95,531.24 L455.98,532.51 L457.05,533.74 L458.17,534.91 L459.34,536.03 L460.55,537.09 L461.8,538.08 L463.1,538.99 L464.43,539.83 L465.81,540.58 L467.23,541.24 L468.69,541.81 L470.18,542.29 L471.7,542.69 L473.26,543.02 L474.83,543.28 L476.43,543.48 L478.04,543.63 L479.67,543.73 L481.31,543.78 L482.96,543.81 L484.61,543.81 L486.26,543.78 L487.91,543.75 L489.56,543.7 L491.19,543.66 L492.81,543.62 L494.42,543.6 L496,543.59 L497.56,543.61 L499.09,543.67 L500.6,543.76 L502.07,543.91 L503.5,544.1" fill="none" stroke="#1a1aee" stroke-width="1.35"/>
<rect x="456.2" y="443.2" width="51.8" height="23.4" fill="#fff" stroke="#222" stroke-width="0.8"/>
<rect x="461.2" y="448.4" width="5.3" height="5.3" fill="#d3d3d3"/>
<line x1="457.8" y1="458.8" x2="470" y2="458.8" stroke="#1f1fe8" stroke-width="1.5"/>
<text x="475.6" y="453.5" font-size="6.7" text-anchor="start" fill="#111">Observed</text>
<text x="475.6" y="461.1" font-size="6.7" text-anchor="start" fill="#111">Fitted</text>
<text x="610" y="433.7" font-size="9.5" text-anchor="middle" font-weight="bold" fill="#000">September birth months</text>
<line x1="543.5" y1="544.4" x2="543.5" y2="451.4" stroke="#222" stroke-width="0.8"/>
<line x1="538.9" y1="544.4" x2="543.5" y2="544.4" stroke="#222" stroke-width="0.8"/>
<line x1="538.9" y1="525.8" x2="543.5" y2="525.8" stroke="#222" stroke-width="0.8"/>
<line x1="538.9" y1="507.2" x2="543.5" y2="507.2" stroke="#222" stroke-width="0.8"/>
<line x1="538.9" y1="488.6" x2="543.5" y2="488.6" stroke="#222" stroke-width="0.8"/>
<line x1="538.9" y1="470" x2="543.5" y2="470" stroke="#222" stroke-width="0.8"/>
<line x1="538.9" y1="451.4" x2="543.5" y2="451.4" stroke="#222" stroke-width="0.8"/>
<text x="531.9" y="544.4" font-size="8.1" text-anchor="middle" transform="rotate(-90 531.9 544.4)" fill="#111">0.00</text>
<text x="531.9" y="507.2" font-size="8.1" text-anchor="middle" transform="rotate(-90 531.9 507.2)" fill="#111">0.10</text>
<text x="531.9" y="470" font-size="8.1" text-anchor="middle" transform="rotate(-90 531.9 470)" fill="#111">0.20</text>
<rect x="558.5" y="514.1" width="10.2" height="30.3" fill="#d3d3d3" stroke="#333" stroke-width="0.8"/>
<rect x="568.7" y="455.1" width="10.2" height="89.3" fill="#d3d3d3" stroke="#333" stroke-width="0.8"/>
<rect x="578.9" y="455.1" width="10.2" height="89.3" fill="#d3d3d3" stroke="#333" stroke-width="0.8"/>
<rect x="589.1" y="462.6" width="10.2" height="81.8" fill="#d3d3d3" stroke="#333" stroke-width="0.8"/>
<rect x="599.3" y="484.9" width="10.2" height="59.5" fill="#d3d3d3" stroke="#333" stroke-width="0.8"/>
<rect x="609.5" y="529.6" width="10.2" height="14.8" fill="#d3d3d3" stroke="#333" stroke-width="0.8"/>
<rect x="619.7" y="536.7" width="10.2" height="7.7" fill="#d3d3d3" stroke="#333" stroke-width="0.8"/>
<line x1="548.3" y1="548.4" x2="678" y2="548.4" stroke="#222" stroke-width="0.8"/>
<line x1="548.3" y1="548.4" x2="548.3" y2="553" stroke="#222" stroke-width="0.8"/>
<text x="548.3" y="566" font-size="8.1" text-anchor="middle" fill="#111">0</text>
<line x1="558.5" y1="548.4" x2="558.5" y2="553" stroke="#222" stroke-width="0.8"/>
<line x1="568.7" y1="548.4" x2="568.7" y2="553" stroke="#222" stroke-width="0.8"/>
<text x="568.7" y="566" font-size="8.1" text-anchor="middle" fill="#111">2</text>
<line x1="578.9" y1="548.4" x2="578.9" y2="553" stroke="#222" stroke-width="0.8"/>
<line x1="589.1" y1="548.4" x2="589.1" y2="553" stroke="#222" stroke-width="0.8"/>
<text x="589.1" y="566" font-size="8.1" text-anchor="middle" fill="#111">4</text>
<line x1="599.3" y1="548.4" x2="599.3" y2="553" stroke="#222" stroke-width="0.8"/>
<line x1="609.5" y1="548.4" x2="609.5" y2="553" stroke="#222" stroke-width="0.8"/>
<text x="609.5" y="566" font-size="8.1" text-anchor="middle" fill="#111">6</text>
<line x1="619.7" y1="548.4" x2="619.7" y2="553" stroke="#222" stroke-width="0.8"/>
<line x1="629.9" y1="548.4" x2="629.9" y2="553" stroke="#222" stroke-width="0.8"/>
<text x="629.9" y="566" font-size="8.1" text-anchor="middle" fill="#111">8</text>
<line x1="640.1" y1="548.4" x2="640.1" y2="553" stroke="#222" stroke-width="0.8"/>
<line x1="650.3" y1="548.4" x2="650.3" y2="553" stroke="#222" stroke-width="0.8"/>
<text x="650.3" y="566" font-size="8.1" text-anchor="middle" fill="#111">10</text>
<line x1="660.5" y1="548.4" x2="660.5" y2="553" stroke="#222" stroke-width="0.8"/>
<line x1="670.7" y1="548.4" x2="670.7" y2="553" stroke="#222" stroke-width="0.8"/>
<text x="670.7" y="566" font-size="8.1" text-anchor="middle" fill="#111">12</text>
<text x="610.5" y="577.8" font-size="8.1" text-anchor="middle" fill="#111">Age of first infection (months)</text>
<path d="M547.9,544.53 L548.92,542.53 L549.88,540.51 L550.8,538.49 L551.67,536.46 L552.49,534.42 L553.28,532.37 L554.03,530.31 L554.74,528.24 L555.42,526.17 L556.07,524.08 L556.69,521.99 L557.29,519.88 L557.86,517.77 L558.42,515.65 L558.95,513.52 L559.48,511.39 L559.99,509.25 L560.49,507.1 L560.98,504.94 L561.47,502.77 L561.96,500.6 L562.44,498.43 L562.91,496.25 L563.38,494.07 L563.84,491.88 L564.29,489.7 L564.74,487.51 L565.17,485.33 L565.6,483.15 L566.01,480.98 L566.42,478.81 L566.81,476.64 L567.19,474.49 L567.56,472.34 L567.91,470.21 L568.25,468.08 L568.57,465.97 L568.87,463.87 L569.16,461.78 L569.45,459.7 L569.78,457.57 L570.22,455.35 L570.83,452.98 L571.65,450.41 L572.69,448.12 L573.92,447.15 L575.26,448.23 L576.48,450.42 L577.42,452.68 L578.11,454.88 L578.62,457.03 L579.01,459.15 L579.37,461.25 L579.74,463.35 L580.17,465.45 L580.65,467.54 L581.19,469.64 L581.79,471.73 L582.46,473.82 L583.19,475.91 L584,477.99 L584.89,480.07 L585.86,482.14 L586.9,484.21 L588.04,486.27 L589.33,488.13 L590.89,489.36 L592.86,489.55 L595.13,488.9 L597.46,488.1 L599.61,487.69 L601.41,488.14 L602.8,489.54 L603.88,491.59 L604.75,494 L605.5,496.46 L606.21,498.78 L606.9,500.97 L607.57,503.05 L608.25,505.06 L608.94,507.03 L609.67,508.98 L610.43,510.95 L611.25,512.95 L612.1,514.97 L612.98,517 L613.89,519.05 L614.81,521.09 L615.73,523.13 L616.69,525.13 L617.7,527.1 L618.8,528.99 L620.01,530.81 L621.35,532.53 L622.79,534.19 L624.31,535.83 L625.89,537.45 L627.53,539 L629.27,540.38 L631.12,541.54 L633.1,542.37 L635.21,542.9 L637.4,543.2 L639.63,543.37 L641.86,543.48 L644.09,543.55 L646.3,543.6 L648.5,543.62 L650.71,543.61 L652.9,543.58 L655.09,543.54 L657.29,543.48 L659.48,543.41 L661.67,543.33 L663.87,543.24 L666.07,543.16 L668.27,543.07 L670.48,542.98 L672.7,542.9" fill="none" stroke="#1a1aee" stroke-width="1.35"/>
<rect x="625.2" y="443.2" width="52.3" height="23.4" fill="#fff" stroke="#222" stroke-width="0.8"/>
<rect x="630.2" y="448.4" width="5.3" height="5.3" fill="#d3d3d3"/>
<line x1="626.8" y1="458.8" x2="639" y2="458.8" stroke="#1f1fe8" stroke-width="1.5"/>
<text x="644.6" y="453.5" font-size="6.7" text-anchor="start" fill="#111">Observed</text>
<text x="644.6" y="461.1" font-size="6.7" text-anchor="start" fill="#111">Fitted</text>
<text x="103.75" y="605.9" font-size="9.5" text-anchor="middle" font-weight="bold" fill="#000">October birth months</text>
<line x1="36.4" y1="716.5" x2="36.4" y2="616" stroke="#222" stroke-width="0.8"/>
<line x1="31.8" y1="716.5" x2="36.4" y2="716.5" stroke="#222" stroke-width="0.8"/>
<line x1="31.8" y1="698.38" x2="36.4" y2="698.38" stroke="#222" stroke-width="0.8"/>
<line x1="31.8" y1="680.26" x2="36.4" y2="680.26" stroke="#222" stroke-width="0.8"/>
<line x1="31.8" y1="662.14" x2="36.4" y2="662.14" stroke="#222" stroke-width="0.8"/>
<line x1="31.8" y1="644.02" x2="36.4" y2="644.02" stroke="#222" stroke-width="0.8"/>
<line x1="31.8" y1="625.9" x2="36.4" y2="625.9" stroke="#222" stroke-width="0.8"/>
<text x="24.8" y="716.5" font-size="8.1" text-anchor="middle" transform="rotate(-90 24.8 716.5)" fill="#111">0.0</text>
<text x="24.8" y="698.38" font-size="8.1" text-anchor="middle" transform="rotate(-90 24.8 698.38)" fill="#111">0.1</text>
<text x="24.8" y="680.26" font-size="8.1" text-anchor="middle" transform="rotate(-90 24.8 680.26)" fill="#111">0.2</text>
<text x="24.8" y="662.14" font-size="8.1" text-anchor="middle" transform="rotate(-90 24.8 662.14)" fill="#111">0.3</text>
<text x="24.8" y="644.02" font-size="8.1" text-anchor="middle" transform="rotate(-90 24.8 644.02)" fill="#111">0.4</text>
<text x="24.8" y="625.9" font-size="8.1" text-anchor="middle" transform="rotate(-90 24.8 625.9)" fill="#111">0.5</text>
<text x="0" y="0" font-size="8.1" text-anchor="middle" fill="#111" transform="translate(12.1 667.6) rotate(-90)">Density</text>
<rect x="46.61" y="708.5" width="5.11" height="8" fill="#d3d3d3" stroke="#333" stroke-width="0.8"/>
<rect x="51.72" y="692.4" width="5.11" height="24.1" fill="#d3d3d3" stroke="#333" stroke-width="0.8"/>
<rect x="56.83" y="660.4" width="5.11" height="56.1" fill="#d3d3d3" stroke="#333" stroke-width="0.8"/>
<rect x="61.94" y="619.6" width="5.11" height="96.9" fill="#d3d3d3" stroke="#333" stroke-width="0.8"/>
<rect x="67.05" y="684.3" width="5.11" height="32.2" fill="#d3d3d3" stroke="#333" stroke-width="0.8"/>
<rect x="72.16" y="652.2" width="5.11" height="64.3" fill="#d3d3d3" stroke="#333" stroke-width="0.8"/>
<rect x="77.27" y="684.3" width="5.11" height="32.2" fill="#d3d3d3" stroke="#333" stroke-width="0.8"/>
<rect x="82.38" y="708.5" width="5.11" height="8" fill="#d3d3d3" stroke="#333" stroke-width="0.8"/>
<rect x="87.49" y="700.8" width="5.11" height="15.7" fill="#d3d3d3" stroke="#333" stroke-width="0.8"/>
<rect x="92.6" y="692.4" width="5.11" height="24.1" fill="#d3d3d3" stroke="#333" stroke-width="0.8"/>
<line x1="41.5" y1="720.7" x2="170.8" y2="720.7" stroke="#222" stroke-width="0.8"/>
<line x1="41.5" y1="720.7" x2="41.5" y2="725.3" stroke="#222" stroke-width="0.8"/>
<text x="41.5" y="738.3" font-size="8.1" text-anchor="middle" fill="#111">0</text>
<line x1="51.72" y1="720.7" x2="51.72" y2="725.3" stroke="#222" stroke-width="0.8"/>
<line x1="61.94" y1="720.7" x2="61.94" y2="725.3" stroke="#222" stroke-width="0.8"/>
<text x="61.94" y="738.3" font-size="8.1" text-anchor="middle" fill="#111">2</text>
<line x1="72.16" y1="720.7" x2="72.16" y2="725.3" stroke="#222" stroke-width="0.8"/>
<line x1="82.38" y1="720.7" x2="82.38" y2="725.3" stroke="#222" stroke-width="0.8"/>
<text x="82.38" y="738.3" font-size="8.1" text-anchor="middle" fill="#111">4</text>
<line x1="92.6" y1="720.7" x2="92.6" y2="725.3" stroke="#222" stroke-width="0.8"/>
<line x1="102.82" y1="720.7" x2="102.82" y2="725.3" stroke="#222" stroke-width="0.8"/>
<text x="102.82" y="738.3" font-size="8.1" text-anchor="middle" fill="#111">6</text>
<line x1="113.04" y1="720.7" x2="113.04" y2="725.3" stroke="#222" stroke-width="0.8"/>
<line x1="123.26" y1="720.7" x2="123.26" y2="725.3" stroke="#222" stroke-width="0.8"/>
<text x="123.26" y="738.3" font-size="8.1" text-anchor="middle" fill="#111">8</text>
<line x1="133.48" y1="720.7" x2="133.48" y2="725.3" stroke="#222" stroke-width="0.8"/>
<line x1="143.7" y1="720.7" x2="143.7" y2="725.3" stroke="#222" stroke-width="0.8"/>
<text x="143.7" y="738.3" font-size="8.1" text-anchor="middle" fill="#111">10</text>
<line x1="153.92" y1="720.7" x2="153.92" y2="725.3" stroke="#222" stroke-width="0.8"/>
<line x1="164.14" y1="720.7" x2="164.14" y2="725.3" stroke="#222" stroke-width="0.8"/>
<text x="164.14" y="738.3" font-size="8.1" text-anchor="middle" fill="#111">12</text>
<text x="103.7" y="750.1" font-size="8.1" text-anchor="middle" fill="#111">Age of first infection (months)</text>
<path d="M41.61,716.38 L42.26,714.87 L42.92,713.35 L43.58,711.83 L44.25,710.3 L44.91,708.76 L45.58,707.22 L46.25,705.67 L46.92,704.12 L47.59,702.57 L48.24,701.01 L48.89,699.45 L49.53,697.88 L50.16,696.31 L50.78,694.74 L51.38,693.16 L51.97,691.59 L52.54,690.01 L53.09,688.42 L53.62,686.84 L54.13,685.25 L54.61,683.67 L55.06,682.08 L55.49,680.49 L55.9,678.9 L56.3,677.3 L56.69,675.7 L57.08,674.1 L57.48,672.48 L57.9,670.86 L58.33,669.23 L58.79,667.59 L59.28,665.93 L59.81,664.27 L60.38,662.58 L61.01,660.89 L61.7,659.18 L62.48,657.59 L63.39,656.44 L64.5,656.02 L65.77,656.5 L66.98,657.61 L67.89,659.05 L68.52,660.7 L68.95,662.46 L69.27,664.28 L69.56,666.08 L69.91,667.77 L70.34,669.37 L70.83,670.88 L71.36,672.35 L71.91,673.81 L72.47,675.29 L73,676.82 L73.51,678.43 L73.99,680.1 L74.47,681.81 L74.95,683.55 L75.45,685.28 L75.99,687 L76.58,688.68 L77.24,690.3 L77.97,691.83 L78.8,693.26 L79.74,694.57 L80.8,695.74 L81.98,696.76 L83.27,697.65 L84.66,698.44 L86.11,699.16 L87.62,699.83 L89.17,700.47 L90.73,701.11 L92.3,701.77 L93.85,702.48 L95.36,703.27 L96.83,704.13 L98.25,705.07 L99.65,706.05 L101.03,707.05 L102.4,708.06 L103.77,709.06 L105.15,710.01 L106.55,710.91 L107.98,711.74 L109.44,712.48 L110.93,713.16 L112.44,713.76 L113.97,714.29 L115.53,714.76 L117.11,715.17 L118.71,715.52 L120.33,715.82 L121.97,716.06 L123.62,716.26 L125.29,716.41 L126.97,716.52 L128.66,716.58 L130.36,716.62 L132.06,716.62 L133.78,716.59 L135.5,716.53 L137.22,716.45 L138.95,716.35 L140.68,716.24 L142.4,716.11 L144.13,715.97 L145.85,715.82 L147.56,715.67 L149.27,715.51 L150.97,715.36 L152.66,715.22 L154.34,715.08 L156.01,714.95 L157.67,714.84 L159.3,714.74 L160.93,714.67 L162.53,714.62 L164.11,714.6 L165.67,714.61" fill="none" stroke="#1a1aee" stroke-width="1.35"/>
<rect x="119.4" y="616.1" width="51.4" height="23.3" fill="#fff" stroke="#222" stroke-width="0.8"/>
<rect x="124.4" y="621.3" width="5.3" height="5.3" fill="#d3d3d3"/>
<line x1="121" y1="631.7" x2="133.2" y2="631.7" stroke="#1f1fe8" stroke-width="1.5"/>
<text x="138.8" y="626.4" font-size="6.7" text-anchor="start" fill="#111">Observed</text>
<text x="138.8" y="634" font-size="6.7" text-anchor="start" fill="#111">Fitted</text>
<text x="273.5" y="605.9" font-size="9.5" text-anchor="middle" font-weight="bold" fill="#000">November birth months</text>
<line x1="206.5" y1="716.4" x2="206.5" y2="616.2" stroke="#222" stroke-width="0.8"/>
<line x1="201.9" y1="716.4" x2="206.5" y2="716.4" stroke="#222" stroke-width="0.8"/>
<line x1="201.9" y1="699.73" x2="206.5" y2="699.73" stroke="#222" stroke-width="0.8"/>
<line x1="201.9" y1="683.06" x2="206.5" y2="683.06" stroke="#222" stroke-width="0.8"/>
<line x1="201.9" y1="666.39" x2="206.5" y2="666.39" stroke="#222" stroke-width="0.8"/>
<line x1="201.9" y1="649.72" x2="206.5" y2="649.72" stroke="#222" stroke-width="0.8"/>
<line x1="201.9" y1="633.05" x2="206.5" y2="633.05" stroke="#222" stroke-width="0.8"/>
<line x1="201.9" y1="616.38" x2="206.5" y2="616.38" stroke="#222" stroke-width="0.8"/>
<text x="194.9" y="716.4" font-size="8.1" text-anchor="middle" transform="rotate(-90 194.9 716.4)" fill="#111">0.0</text>
<text x="194.9" y="683.06" font-size="8.1" text-anchor="middle" transform="rotate(-90 194.9 683.06)" fill="#111">0.2</text>
<text x="194.9" y="649.72" font-size="8.1" text-anchor="middle" transform="rotate(-90 194.9 649.72)" fill="#111">0.4</text>
<text x="194.9" y="616.38" font-size="8.1" text-anchor="middle" transform="rotate(-90 194.9 616.38)" fill="#111">0.6</text>
<rect x="211.2" y="707.9" width="5.12" height="8.5" fill="#d3d3d3" stroke="#333" stroke-width="0.8"/>
<rect x="216.32" y="681.3" width="5.12" height="35.1" fill="#d3d3d3" stroke="#333" stroke-width="0.8"/>
<rect x="221.45" y="707.9" width="5.12" height="8.5" fill="#d3d3d3" stroke="#333" stroke-width="0.8"/>
<rect x="226.57" y="619.6" width="5.12" height="96.8" fill="#d3d3d3" stroke="#333" stroke-width="0.8"/>
<rect x="231.7" y="646.3" width="5.12" height="70.1" fill="#d3d3d3" stroke="#333" stroke-width="0.8"/>
<rect x="236.82" y="646.3" width="5.12" height="70.1" fill="#d3d3d3" stroke="#333" stroke-width="0.8"/>
<rect x="241.95" y="681.3" width="5.12" height="35.1" fill="#d3d3d3" stroke="#333" stroke-width="0.8"/>
<rect x="252.2" y="707.9" width="5.12" height="8.5" fill="#d3d3d3" stroke="#333" stroke-width="0.8"/>
<line x1="211.2" y1="720.7" x2="340.8" y2="720.7" stroke="#222" stroke-width="0.8"/>
<line x1="211.2" y1="720.7" x2="211.2" y2="725.3" stroke="#222" stroke-width="0.8"/>
<text x="211.2" y="738.3" font-size="8.1" text-anchor="middle" fill="#111">0</text>
<line x1="221.45" y1="720.7" x2="221.45" y2="725.3" stroke="#222" stroke-width="0.8"/>
<line x1="231.7" y1="720.7" x2="231.7" y2="725.3" stroke="#222" stroke-width="0.8"/>
<text x="231.7" y="738.3" font-size="8.1" text-anchor="middle" fill="#111">2</text>
<line x1="241.95" y1="720.7" x2="241.95" y2="725.3" stroke="#222" stroke-width="0.8"/>
<line x1="252.2" y1="720.7" x2="252.2" y2="725.3" stroke="#222" stroke-width="0.8"/>
<text x="252.2" y="738.3" font-size="8.1" text-anchor="middle" fill="#111">4</text>
<line x1="262.45" y1="720.7" x2="262.45" y2="725.3" stroke="#222" stroke-width="0.8"/>
<line x1="272.7" y1="720.7" x2="272.7" y2="725.3" stroke="#222" stroke-width="0.8"/>
<text x="272.7" y="738.3" font-size="8.1" text-anchor="middle" fill="#111">6</text>
<line x1="282.95" y1="720.7" x2="282.95" y2="725.3" stroke="#222" stroke-width="0.8"/>
<line x1="293.2" y1="720.7" x2="293.2" y2="725.3" stroke="#222" stroke-width="0.8"/>
<text x="293.2" y="738.3" font-size="8.1" text-anchor="middle" fill="#111">8</text>
<line x1="303.45" y1="720.7" x2="303.45" y2="725.3" stroke="#222" stroke-width="0.8"/>
<line x1="313.7" y1="720.7" x2="313.7" y2="725.3" stroke="#222" stroke-width="0.8"/>
<text x="313.7" y="738.3" font-size="8.1" text-anchor="middle" fill="#111">10</text>
<line x1="323.95" y1="720.7" x2="323.95" y2="725.3" stroke="#222" stroke-width="0.8"/>
<line x1="334.2" y1="720.7" x2="334.2" y2="725.3" stroke="#222" stroke-width="0.8"/>
<text x="334.2" y="738.3" font-size="8.1" text-anchor="middle" fill="#111">12</text>
<text x="273.4" y="750.1" font-size="8.1" text-anchor="middle" fill="#111">Age of first infection (months)</text>
<path d="M211.2,716.4 L211.57,714.79 L211.97,713.16 L212.38,711.52 L212.8,709.87 L213.24,708.2 L213.68,706.53 L214.14,704.86 L214.6,703.18 L215.07,701.49 L215.53,699.8 L216,698.11 L216.47,696.42 L216.93,694.73 L217.38,693.05 L217.83,691.37 L218.27,689.7 L218.69,688.03 L219.1,686.37 L219.49,684.72 L219.87,683.09 L220.22,681.47 L220.55,679.86 L220.86,678.26 L221.16,676.67 L221.47,675.08 L221.8,673.48 L222.16,671.87 L222.56,670.23 L223.03,668.55 L223.57,666.83 L224.2,665.07 L224.93,663.25 L225.77,661.37 L226.72,659.53 L227.76,657.95 L228.84,656.83 L229.95,656.39 L231.06,656.76 L232.15,657.82 L233.2,659.37 L234.19,661.18 L235.09,663.05 L235.91,664.86 L236.64,666.6 L237.3,668.29 L237.89,669.93 L238.42,671.54 L238.89,673.12 L239.33,674.69 L239.73,676.25 L240.1,677.82 L240.45,679.41 L240.79,681.02 L241.13,682.67 L241.47,684.37 L241.82,686.1 L242.2,687.85 L242.61,689.62 L243.06,691.38 L243.56,693.11 L244.13,694.81 L244.77,696.46 L245.49,698.03 L246.31,699.53 L247.22,700.93 L248.24,702.22 L249.37,703.4 L250.6,704.48 L251.9,705.47 L253.29,706.38 L254.74,707.21 L256.25,707.97 L257.8,708.68 L259.39,709.34 L261.01,709.96 L262.65,710.55 L264.29,711.11 L265.94,711.65 L267.6,712.18 L269.25,712.67 L270.91,713.15 L272.58,713.6 L274.25,714.02 L275.92,714.41 L277.6,714.78 L279.28,715.12 L280.96,715.42 L282.65,715.7 L284.34,715.94 L286.03,716.15 L287.73,716.32 L289.43,716.45 L291.13,716.55 L292.83,716.62 L294.54,716.64 L296.25,716.62 L297.97,716.56 L299.68,716.47 L301.4,716.34 L303.12,716.19 L304.84,716.01 L306.56,715.81 L308.27,715.58 L309.99,715.34 L311.71,715.08 L313.42,714.81 L315.13,714.54 L316.84,714.26 L318.54,713.97 L320.24,713.69 L321.93,713.41 L323.62,713.14 L325.31,712.87 L326.98,712.62 L328.66,712.39 L330.32,712.17 L331.98,711.98 L333.63,711.85 L335.28,711.96" fill="none" stroke="#1a1aee" stroke-width="1.35"/>
<rect x="289" y="615.9" width="51.8" height="23.5" fill="#fff" stroke="#222" stroke-width="0.8"/>
<rect x="294" y="621.1" width="5.3" height="5.3" fill="#d3d3d3"/>
<line x1="290.6" y1="631.5" x2="302.8" y2="631.5" stroke="#1f1fe8" stroke-width="1.5"/>
<text x="308.4" y="626.2" font-size="6.7" text-anchor="start" fill="#111">Observed</text>
<text x="308.4" y="633.8" font-size="6.7" text-anchor="start" fill="#111">Fitted</text>
<text x="440.5" y="605.9" font-size="9.5" text-anchor="middle" font-weight="bold" fill="#000">December birth months</text>
<line x1="373.4" y1="716.5" x2="373.4" y2="616.2" stroke="#222" stroke-width="0.8"/>
<line x1="368.8" y1="716.5" x2="373.4" y2="716.5" stroke="#222" stroke-width="0.8"/>
<line x1="368.8" y1="698" x2="373.4" y2="698" stroke="#222" stroke-width="0.8"/>
<line x1="368.8" y1="679.5" x2="373.4" y2="679.5" stroke="#222" stroke-width="0.8"/>
<line x1="368.8" y1="661" x2="373.4" y2="661" stroke="#222" stroke-width="0.8"/>
<line x1="368.8" y1="642.5" x2="373.4" y2="642.5" stroke="#222" stroke-width="0.8"/>
<line x1="368.8" y1="624" x2="373.4" y2="624" stroke="#222" stroke-width="0.8"/>
<text x="361.8" y="716.5" font-size="8.1" text-anchor="middle" transform="rotate(-90 361.8 716.5)" fill="#111">0.0</text>
<text x="361.8" y="698" font-size="8.1" text-anchor="middle" transform="rotate(-90 361.8 698)" fill="#111">0.1</text>
<text x="361.8" y="679.5" font-size="8.1" text-anchor="middle" transform="rotate(-90 361.8 679.5)" fill="#111">0.2</text>
<text x="361.8" y="661" font-size="8.1" text-anchor="middle" transform="rotate(-90 361.8 661)" fill="#111">0.3</text>
<text x="361.8" y="642.5" font-size="8.1" text-anchor="middle" transform="rotate(-90 361.8 642.5)" fill="#111">0.4</text>
<text x="361.8" y="624" font-size="8.1" text-anchor="middle" transform="rotate(-90 361.8 624)" fill="#111">0.5</text>
<rect x="383.62" y="636" width="5.12" height="80.5" fill="#d3d3d3" stroke="#333" stroke-width="0.8"/>
<rect x="388.75" y="619.6" width="5.12" height="96.9" fill="#d3d3d3" stroke="#333" stroke-width="0.8"/>
<rect x="393.88" y="700.5" width="5.12" height="16" fill="#d3d3d3" stroke="#333" stroke-width="0.8"/>
<rect x="399" y="652.2" width="5.12" height="64.3" fill="#d3d3d3" stroke="#333" stroke-width="0.8"/>
<rect x="404.12" y="652.2" width="5.12" height="64.3" fill="#d3d3d3" stroke="#333" stroke-width="0.8"/>
<rect x="409.25" y="668.5" width="5.12" height="48" fill="#d3d3d3" stroke="#333" stroke-width="0.8"/>
<line x1="378.5" y1="720.7" x2="507.7" y2="720.7" stroke="#222" stroke-width="0.8"/>
<line x1="378.5" y1="720.7" x2="378.5" y2="725.3" stroke="#222" stroke-width="0.8"/>
<text x="378.5" y="738.3" font-size="8.1" text-anchor="middle" fill="#111">0</text>
<line x1="388.75" y1="720.7" x2="388.75" y2="725.3" stroke="#222" stroke-width="0.8"/>
<line x1="399" y1="720.7" x2="399" y2="725.3" stroke="#222" stroke-width="0.8"/>
<text x="399" y="738.3" font-size="8.1" text-anchor="middle" fill="#111">2</text>
<line x1="409.25" y1="720.7" x2="409.25" y2="725.3" stroke="#222" stroke-width="0.8"/>
<line x1="419.5" y1="720.7" x2="419.5" y2="725.3" stroke="#222" stroke-width="0.8"/>
<text x="419.5" y="738.3" font-size="8.1" text-anchor="middle" fill="#111">4</text>
<line x1="429.75" y1="720.7" x2="429.75" y2="725.3" stroke="#222" stroke-width="0.8"/>
<line x1="440" y1="720.7" x2="440" y2="725.3" stroke="#222" stroke-width="0.8"/>
<text x="440" y="738.3" font-size="8.1" text-anchor="middle" fill="#111">6</text>
<line x1="450.25" y1="720.7" x2="450.25" y2="725.3" stroke="#222" stroke-width="0.8"/>
<line x1="460.5" y1="720.7" x2="460.5" y2="725.3" stroke="#222" stroke-width="0.8"/>
<text x="460.5" y="738.3" font-size="8.1" text-anchor="middle" fill="#111">8</text>
<line x1="470.75" y1="720.7" x2="470.75" y2="725.3" stroke="#222" stroke-width="0.8"/>
<line x1="481" y1="720.7" x2="481" y2="725.3" stroke="#222" stroke-width="0.8"/>
<text x="481" y="738.3" font-size="8.1" text-anchor="middle" fill="#111">10</text>
<line x1="491.25" y1="720.7" x2="491.25" y2="725.3" stroke="#222" stroke-width="0.8"/>
<line x1="501.5" y1="720.7" x2="501.5" y2="725.3" stroke="#222" stroke-width="0.8"/>
<text x="501.5" y="738.3" font-size="8.1" text-anchor="middle" fill="#111">12</text>
<text x="440.7" y="750.1" font-size="8.1" text-anchor="middle" fill="#111">Age of first infection (months)</text>
<path d="M378.5,716 L378.82,714.26 L379.13,712.51 L379.45,710.76 L379.76,709.02 L380.06,707.27 L380.37,705.52 L380.67,703.77 L380.96,702.03 L381.25,700.28 L381.54,698.53 L381.82,696.78 L382.09,695.03 L382.36,693.28 L382.62,691.54 L382.87,689.79 L383.11,688.04 L383.34,686.3 L383.57,684.55 L383.78,682.8 L383.99,681.06 L384.18,679.31 L384.38,677.57 L384.58,675.82 L384.83,674.07 L385.12,672.32 L385.47,670.55 L385.92,668.79 L386.46,667.01 L387.13,665.21 L387.93,663.41 L388.88,661.61 L389.95,659.94 L391.09,658.59 L392.26,657.75 L393.41,657.59 L394.5,658.18 L395.54,659.34 L396.52,660.86 L397.44,662.55 L398.31,664.26 L399.13,665.95 L399.91,667.63 L400.64,669.31 L401.32,670.98 L401.98,672.65 L402.6,674.32 L403.19,675.98 L403.76,677.64 L404.3,679.31 L404.83,680.97 L405.35,682.64 L405.85,684.31 L406.35,685.99 L406.85,687.68 L407.35,689.37 L407.86,691.08 L408.37,692.79 L408.9,694.52 L409.44,696.26 L410.01,698.01 L410.62,699.75 L411.28,701.46 L412.01,703.12 L412.84,704.71 L413.77,706.2 L414.83,707.57 L416.04,708.81 L417.39,709.89 L418.88,710.82 L420.47,711.63 L422.14,712.33 L423.87,712.94 L425.62,713.47 L427.38,713.94 L429.13,714.35 L430.89,714.71 L432.64,715 L434.4,715.25 L436.15,715.44 L437.9,715.57 L439.65,715.66 L441.39,715.69 L443.13,715.67 L444.87,715.6 L446.61,715.48 L448.34,715.32 L450.07,715.1 L451.8,714.84 L453.52,714.54 L455.23,714.19 L456.94,713.79 L458.65,713.35 L460.35,712.87 L462.05,712.35 L463.74,711.79 L465.42,711.19 L467.1,710.55 L468.77,709.88 L470.43,709.16 L472.09,708.41 L473.74,707.63 L475.38,706.81 L477.02,705.96 L478.65,705.11 L480.27,704.28 L481.89,703.47 L483.51,702.72 L485.13,702.04 L486.75,701.44 L488.37,700.96 L490,700.6 L491.63,700.39 L493.27,700.35 L494.91,700.5 L496.57,700.85 L498.23,701.42 L499.91,702.24 L501.6,703.32 L503.3,704.68" fill="none" stroke="#1a1aee" stroke-width="1.35"/>
<rect x="456.4" y="616.1" width="51.3" height="23.3" fill="#fff" stroke="#222" stroke-width="0.8"/>
<rect x="461.4" y="621.3" width="5.3" height="5.3" fill="#d3d3d3"/>
<line x1="458" y1="631.7" x2="470.2" y2="631.7" stroke="#1f1fe8" stroke-width="1.5"/>
<text x="475.8" y="626.4" font-size="6.7" text-anchor="start" fill="#111">Observed</text>
<text x="475.8" y="634" font-size="6.7" text-anchor="start" fill="#111">Fitted</text>
</svg></body></html>
